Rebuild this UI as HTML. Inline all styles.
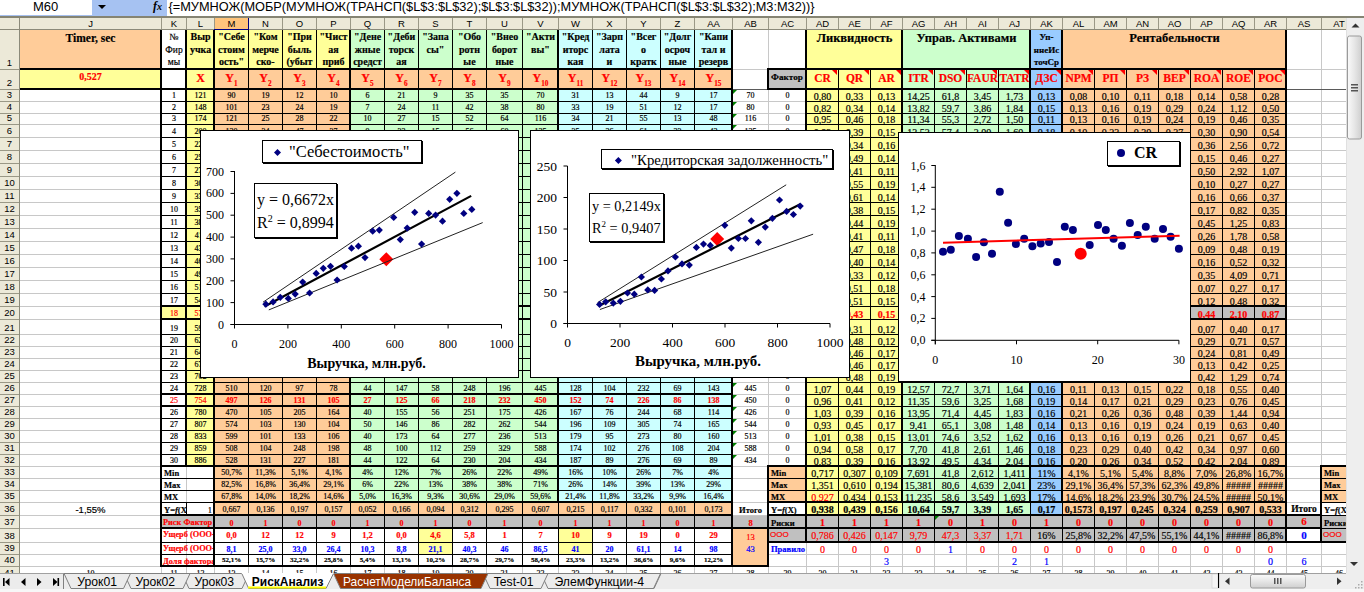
<!DOCTYPE html><html><head><meta charset="utf-8"><style>
*{margin:0;padding:0;box-sizing:border-box}
body{width:1364px;height:592px;overflow:hidden;position:relative;background:#fff;font-family:"Liberation Serif",serif}
.a{position:absolute}
.c{position:absolute;overflow:hidden;white-space:nowrap;display:flex;align-items:flex-end;justify-content:center;line-height:1;-webkit-text-stroke:0.18px currentColor}
.s{font-family:"Liberation Sans",sans-serif}
.hd{position:absolute;background:#ECE9D8;font-family:"Liberation Sans",sans-serif;font-size:9.5px;color:#000;display:flex;align-items:center;justify-content:center;overflow:hidden}
sub{font-size:60%;vertical-align:-1px;line-height:0}

</style></head><body>
<div class="a" style="left:0;top:0;width:1364px;height:15px;background:#fff"></div>
<div class="a s" style="left:33px;top:0px;font-size:13px;line-height:14px;color:#000">M60</div>
<div class="a" style="left:92px;top:0;width:75px;height:16px;background:#A6C2F2"></div>
<div class="a" style="left:98px;top:5px;width:0;height:0;border-left:4px solid transparent;border-right:4px solid transparent;border-top:4px solid #000"></div>
<div class="a" style="left:153px;top:0px;font-family:'Liberation Serif';font-style:italic;font-weight:bold;font-size:12px;line-height:13px">f<span style="font-size:10px">x</span></div>
<div class="a s" style="left:168.5px;top:0px;font-size:12.75px;line-height:14px;color:#000;white-space:nowrap">{=МУМНОЖ(МОБР(МУМНОЖ(ТРАНСП($L$3:$L$32);$L$3:$L$32));МУМНОЖ(ТРАНСП($L$3:$L$32);M3:M32))}</div>
<div class="a" style="left:0;top:15px;width:92px;height:1px;background:#A6C0EE"></div>
<div class="a" style="left:0;top:16px;width:1364px;height:2px;background:#858473"></div>
<div class="a" style="left:161px;top:30px;width:1px;height:543px;background:#C8C8C8"></div>
<div class="a" style="left:186px;top:30px;width:1px;height:543px;background:#C8C8C8"></div>
<div class="a" style="left:214px;top:30px;width:1px;height:543px;background:#C8C8C8"></div>
<div class="a" style="left:248px;top:30px;width:1px;height:543px;background:#C8C8C8"></div>
<div class="a" style="left:282px;top:30px;width:1px;height:543px;background:#C8C8C8"></div>
<div class="a" style="left:316px;top:30px;width:1px;height:543px;background:#C8C8C8"></div>
<div class="a" style="left:350px;top:30px;width:1px;height:543px;background:#C8C8C8"></div>
<div class="a" style="left:384px;top:30px;width:1px;height:543px;background:#C8C8C8"></div>
<div class="a" style="left:418px;top:30px;width:1px;height:543px;background:#C8C8C8"></div>
<div class="a" style="left:452px;top:30px;width:1px;height:543px;background:#C8C8C8"></div>
<div class="a" style="left:486px;top:30px;width:1px;height:543px;background:#C8C8C8"></div>
<div class="a" style="left:522px;top:30px;width:1px;height:543px;background:#C8C8C8"></div>
<div class="a" style="left:558px;top:30px;width:1px;height:543px;background:#C8C8C8"></div>
<div class="a" style="left:592px;top:30px;width:1px;height:543px;background:#C8C8C8"></div>
<div class="a" style="left:626px;top:30px;width:1px;height:543px;background:#C8C8C8"></div>
<div class="a" style="left:660px;top:30px;width:1px;height:543px;background:#C8C8C8"></div>
<div class="a" style="left:694px;top:30px;width:1px;height:543px;background:#C8C8C8"></div>
<div class="a" style="left:732px;top:30px;width:1px;height:543px;background:#C8C8C8"></div>
<div class="a" style="left:768px;top:30px;width:1px;height:543px;background:#C8C8C8"></div>
<div class="a" style="left:806px;top:30px;width:1px;height:543px;background:#C8C8C8"></div>
<div class="a" style="left:838px;top:30px;width:1px;height:543px;background:#C8C8C8"></div>
<div class="a" style="left:870px;top:30px;width:1px;height:543px;background:#C8C8C8"></div>
<div class="a" style="left:902px;top:30px;width:1px;height:543px;background:#C8C8C8"></div>
<div class="a" style="left:934px;top:30px;width:1px;height:543px;background:#C8C8C8"></div>
<div class="a" style="left:966px;top:30px;width:1px;height:543px;background:#C8C8C8"></div>
<div class="a" style="left:998px;top:30px;width:1px;height:543px;background:#C8C8C8"></div>
<div class="a" style="left:1030px;top:30px;width:1px;height:543px;background:#C8C8C8"></div>
<div class="a" style="left:1062px;top:30px;width:1px;height:543px;background:#C8C8C8"></div>
<div class="a" style="left:1094px;top:30px;width:1px;height:543px;background:#C8C8C8"></div>
<div class="a" style="left:1126px;top:30px;width:1px;height:543px;background:#C8C8C8"></div>
<div class="a" style="left:1158px;top:30px;width:1px;height:543px;background:#C8C8C8"></div>
<div class="a" style="left:1190px;top:30px;width:1px;height:543px;background:#C8C8C8"></div>
<div class="a" style="left:1222px;top:30px;width:1px;height:543px;background:#C8C8C8"></div>
<div class="a" style="left:1254px;top:30px;width:1px;height:543px;background:#C8C8C8"></div>
<div class="a" style="left:1286px;top:30px;width:1px;height:543px;background:#C8C8C8"></div>
<div class="a" style="left:1321px;top:30px;width:1px;height:543px;background:#C8C8C8"></div>
<div class="a" style="left:20px;top:69px;width:1326px;height:1px;background:#C8C8C8"></div>
<div class="a" style="left:20px;top:89px;width:1326px;height:1px;background:#C8C8C8"></div>
<div class="a" style="left:20px;top:101px;width:1326px;height:1px;background:#C8C8C8"></div>
<div class="a" style="left:20px;top:113px;width:1326px;height:1px;background:#C8C8C8"></div>
<div class="a" style="left:20px;top:124px;width:1326px;height:1px;background:#C8C8C8"></div>
<div class="a" style="left:20px;top:137px;width:1326px;height:1px;background:#C8C8C8"></div>
<div class="a" style="left:20px;top:150px;width:1326px;height:1px;background:#C8C8C8"></div>
<div class="a" style="left:20px;top:163px;width:1326px;height:1px;background:#C8C8C8"></div>
<div class="a" style="left:20px;top:176px;width:1326px;height:1px;background:#C8C8C8"></div>
<div class="a" style="left:20px;top:189px;width:1326px;height:1px;background:#C8C8C8"></div>
<div class="a" style="left:20px;top:202px;width:1326px;height:1px;background:#C8C8C8"></div>
<div class="a" style="left:20px;top:215px;width:1326px;height:1px;background:#C8C8C8"></div>
<div class="a" style="left:20px;top:228px;width:1326px;height:1px;background:#C8C8C8"></div>
<div class="a" style="left:20px;top:241px;width:1326px;height:1px;background:#C8C8C8"></div>
<div class="a" style="left:20px;top:254px;width:1326px;height:1px;background:#C8C8C8"></div>
<div class="a" style="left:20px;top:267px;width:1326px;height:1px;background:#C8C8C8"></div>
<div class="a" style="left:20px;top:280px;width:1326px;height:1px;background:#C8C8C8"></div>
<div class="a" style="left:20px;top:293px;width:1326px;height:1px;background:#C8C8C8"></div>
<div class="a" style="left:20px;top:306px;width:1326px;height:1px;background:#C8C8C8"></div>
<div class="a" style="left:20px;top:319px;width:1326px;height:1px;background:#C8C8C8"></div>
<div class="a" style="left:20px;top:334px;width:1326px;height:1px;background:#C8C8C8"></div>
<div class="a" style="left:20px;top:346px;width:1326px;height:1px;background:#C8C8C8"></div>
<div class="a" style="left:20px;top:358px;width:1326px;height:1px;background:#C8C8C8"></div>
<div class="a" style="left:20px;top:370px;width:1326px;height:1px;background:#C8C8C8"></div>
<div class="a" style="left:20px;top:382px;width:1326px;height:1px;background:#C8C8C8"></div>
<div class="a" style="left:20px;top:394px;width:1326px;height:1px;background:#C8C8C8"></div>
<div class="a" style="left:20px;top:406px;width:1326px;height:1px;background:#C8C8C8"></div>
<div class="a" style="left:20px;top:418px;width:1326px;height:1px;background:#C8C8C8"></div>
<div class="a" style="left:20px;top:430px;width:1326px;height:1px;background:#C8C8C8"></div>
<div class="a" style="left:20px;top:442px;width:1326px;height:1px;background:#C8C8C8"></div>
<div class="a" style="left:20px;top:454px;width:1326px;height:1px;background:#C8C8C8"></div>
<div class="a" style="left:20px;top:466px;width:1326px;height:1px;background:#C8C8C8"></div>
<div class="a" style="left:20px;top:478px;width:1326px;height:1px;background:#C8C8C8"></div>
<div class="a" style="left:20px;top:490px;width:1326px;height:1px;background:#C8C8C8"></div>
<div class="a" style="left:20px;top:502px;width:1326px;height:1px;background:#C8C8C8"></div>
<div class="a" style="left:20px;top:515px;width:1326px;height:1px;background:#C8C8C8"></div>
<div class="a" style="left:20px;top:528px;width:1326px;height:1px;background:#C8C8C8"></div>
<div class="a" style="left:20px;top:542px;width:1326px;height:1px;background:#C8C8C8"></div>
<div class="a" style="left:20px;top:554px;width:1326px;height:1px;background:#C8C8C8"></div>
<div class="a" style="left:20px;top:566px;width:1326px;height:1px;background:#C8C8C8"></div>
<div class="a" style="left:20px;top:89px;width:1326px;height:1px;background:#5A5A5A"></div>
<div class="a" style="left:20px;top:30px;width:142px;height:40px;background:#FFCC99"></div>
<div class="a" style="left:20px;top:70px;width:142px;height:20px;background:#FFFF99"></div>
<div class="a" style="left:187px;top:30px;width:164px;height:40px;background:#FFFF99"></div>
<div class="a" style="left:351px;top:30px;width:208px;height:40px;background:#CCFFCC"></div>
<div class="a" style="left:559px;top:30px;width:174px;height:40px;background:#CCFFFF"></div>
<div class="a" style="left:187px;top:70px;width:28px;height:20px;background:#FFFF99"></div>
<div class="a" style="left:215px;top:70px;width:518px;height:20px;background:#FFCC99"></div>
<div class="a" style="left:187px;top:90px;width:28px;height:377px;background:#FFFF99"></div>
<div class="a" style="left:215px;top:90px;width:136px;height:377px;background:#FFCC99"></div>
<div class="a" style="left:351px;top:90px;width:208px;height:377px;background:#CCFFCC"></div>
<div class="a" style="left:559px;top:90px;width:174px;height:377px;background:#CCFFFF"></div>
<div class="a" style="left:769px;top:70px;width:38px;height:20px;background:#C0C0C0"></div>
<div class="a" style="left:807px;top:30px;width:96px;height:40px;background:#FFFF99"></div>
<div class="a" style="left:903px;top:30px;width:128px;height:40px;background:#CCFFCC"></div>
<div class="a" style="left:1031px;top:30px;width:32px;height:40px;background:#99CCFF"></div>
<div class="a" style="left:1063px;top:30px;width:224px;height:40px;background:#FFCC99"></div>
<div class="a" style="left:807px;top:70px;width:96px;height:20px;background:#FFFF99"></div>
<div class="a" style="left:903px;top:70px;width:128px;height:20px;background:#CCFFCC"></div>
<div class="a" style="left:1031px;top:70px;width:32px;height:20px;background:#99CCFF"></div>
<div class="a" style="left:1063px;top:70px;width:224px;height:20px;background:#FFCC99"></div>
<div class="a" style="left:807px;top:90px;width:96px;height:377px;background:#FFFF99"></div>
<div class="a" style="left:903px;top:90px;width:128px;height:377px;background:#CCFFCC"></div>
<div class="a" style="left:1031px;top:90px;width:32px;height:377px;background:#99CCFF"></div>
<div class="a" style="left:1063px;top:90px;width:224px;height:377px;background:#FFCC99"></div>
<div class="a" style="left:162px;top:307px;width:25px;height:13px;background:#FFFF99"></div>
<div class="a" style="left:1191px;top:307px;width:96px;height:13px;background:#C0C0C0"></div>
<div class="a" style="left:215px;top:467px;width:136px;height:36px;background:#FFCC99"></div>
<div class="a" style="left:351px;top:467px;width:208px;height:36px;background:#CCFFCC"></div>
<div class="a" style="left:559px;top:467px;width:174px;height:36px;background:#CCFFFF"></div>
<div class="a" style="left:215px;top:503px;width:518px;height:13px;background:#FFCC99"></div>
<div class="a" style="left:162px;top:516px;width:571px;height:13px;background:#C0C0C0"></div>
<div class="a" style="left:419px;top:529px;width:34px;height:26px;background:#FFFF99"></div>
<div class="a" style="left:559px;top:529px;width:34px;height:26px;background:#FFFF99"></div>
<div class="a" style="left:733px;top:516px;width:36px;height:13px;background:#C0C0C0"></div>
<div class="a" style="left:733px;top:529px;width:36px;height:38px;background:#FFCC99"></div>
<div class="a" style="left:769px;top:467px;width:38px;height:36px;background:#FFCC99"></div>
<div class="a" style="left:769px;top:516px;width:38px;height:27px;background:#C0C0C0"></div>
<div class="a" style="left:807px;top:467px;width:96px;height:49px;background:#FFFF99"></div>
<div class="a" style="left:903px;top:467px;width:128px;height:49px;background:#CCFFCC"></div>
<div class="a" style="left:1031px;top:467px;width:32px;height:49px;background:#99CCFF"></div>
<div class="a" style="left:1063px;top:467px;width:224px;height:49px;background:#FFCC99"></div>
<div class="a" style="left:807px;top:516px;width:480px;height:27px;background:#C0C0C0"></div>
<div class="a" style="left:1322px;top:467px;width:35px;height:36px;background:#FFCC99"></div>
<div class="a" style="left:1322px;top:516px;width:35px;height:27px;background:#C0C0C0"></div>
<div class="a" style="left:1287px;top:516px;width:35px;height:13px;background:#C0C0C0"></div>
<div class="c" style="left:20px;top:30px;width:141px;height:40px;font-size:11.5px;font-weight:bold;justify-content:center;align-items:flex-start;padding-top:3px">Timer, sec</div>
<div class="c" style="left:20px;top:70px;width:141px;height:20px;font-size:10px;font-weight:bold;color:#FF0000;justify-content:center;align-items:flex-start;padding-top:2px">0,527</div>
<div class="c" style="left:162px;top:30px;width:24px;height:40px;font-size:9.5px;justify-content:center;align-items:flex-start;padding-top:1px"><div style="text-align:center;line-height:12.6px">№<br>Фир<br>мы</div></div>
<div class="c" style="left:187px;top:30px;width:27px;height:40px;font-size:10px;font-weight:bold;justify-content:center;align-items:flex-start;padding-top:1px"><div style="text-align:center;line-height:12.6px">Выр<br>учка</div></div>
<div class="c" style="left:215px;top:30px;width:33px;height:40px;font-size:10px;font-weight:bold;justify-content:center;align-items:flex-start;padding-top:1px"><div style="text-align:center;line-height:12.6px">&quot;Себе<br>стоим<br>ость&quot;</div></div>
<div class="c" style="left:249px;top:30px;width:33px;height:40px;font-size:10px;font-weight:bold;justify-content:center;align-items:flex-start;padding-top:1px"><div style="text-align:center;line-height:12.6px">&quot;Ком<br>мерче<br>ско-</div></div>
<div class="c" style="left:283px;top:30px;width:33px;height:40px;font-size:10px;font-weight:bold;justify-content:center;align-items:flex-start;padding-top:1px"><div style="text-align:center;line-height:12.6px">&quot;При<br>быль<br>(убыт</div></div>
<div class="c" style="left:317px;top:30px;width:33px;height:40px;font-size:10px;font-weight:bold;justify-content:center;align-items:flex-start;padding-top:1px"><div style="text-align:center;line-height:12.6px">&quot;Чист<br>ая<br>приб</div></div>
<div class="c" style="left:351px;top:30px;width:33px;height:40px;font-size:10px;font-weight:bold;justify-content:center;align-items:flex-start;padding-top:1px"><div style="text-align:center;line-height:12.6px">&quot;Дене<br>жные<br>средст</div></div>
<div class="c" style="left:385px;top:30px;width:33px;height:40px;font-size:10px;font-weight:bold;justify-content:center;align-items:flex-start;padding-top:1px"><div style="text-align:center;line-height:12.6px">&quot;Деби<br>торск<br>ая</div></div>
<div class="c" style="left:419px;top:30px;width:33px;height:40px;font-size:10px;font-weight:bold;justify-content:center;align-items:flex-start;padding-top:1px"><div style="text-align:center;line-height:12.6px">&quot;Запа<br>сы&quot;</div></div>
<div class="c" style="left:453px;top:30px;width:33px;height:40px;font-size:10px;font-weight:bold;justify-content:center;align-items:flex-start;padding-top:1px"><div style="text-align:center;line-height:12.6px">&quot;Обо<br>ротн<br>ые</div></div>
<div class="c" style="left:487px;top:30px;width:35px;height:40px;font-size:10px;font-weight:bold;justify-content:center;align-items:flex-start;padding-top:1px"><div style="text-align:center;line-height:12.6px">&quot;Внео<br>борот<br>ные</div></div>
<div class="c" style="left:523px;top:30px;width:35px;height:40px;font-size:10px;font-weight:bold;justify-content:center;align-items:flex-start;padding-top:1px"><div style="text-align:center;line-height:12.6px">&quot;Акти<br>вы&quot;</div></div>
<div class="c" style="left:559px;top:30px;width:33px;height:40px;font-size:10px;font-weight:bold;justify-content:center;align-items:flex-start;padding-top:1px"><div style="text-align:center;line-height:12.6px">&quot;Кред<br>иторс<br>кая</div></div>
<div class="c" style="left:593px;top:30px;width:33px;height:40px;font-size:10px;font-weight:bold;justify-content:center;align-items:flex-start;padding-top:1px"><div style="text-align:center;line-height:12.6px">&quot;Зарп<br>лата<br>и</div></div>
<div class="c" style="left:627px;top:30px;width:33px;height:40px;font-size:10px;font-weight:bold;justify-content:center;align-items:flex-start;padding-top:1px"><div style="text-align:center;line-height:12.6px">&quot;Всег<br>о<br>кратк</div></div>
<div class="c" style="left:661px;top:30px;width:33px;height:40px;font-size:10px;font-weight:bold;justify-content:center;align-items:flex-start;padding-top:1px"><div style="text-align:center;line-height:12.6px">&quot;Долг<br>осроч<br>ные</div></div>
<div class="c" style="left:695px;top:30px;width:37px;height:40px;font-size:10px;font-weight:bold;justify-content:center;align-items:flex-start;padding-top:1px"><div style="text-align:center;line-height:12.6px">&quot;Капи<br>тал и<br>резерв</div></div>
<div class="c" style="left:187px;top:70px;width:27px;height:20px;font-size:12px;font-weight:bold;color:#FF0000;justify-content:center;padding-bottom:6px">X</div>
<div class="c" style="left:215px;top:70px;width:33px;height:20px;font-size:12px;font-weight:bold;color:#FF0000;justify-content:center;padding-bottom:6px">Y<sub>1</sub></div>
<div class="c" style="left:249px;top:70px;width:33px;height:20px;font-size:12px;font-weight:bold;color:#FF0000;justify-content:center;padding-bottom:6px">Y<sub>2</sub></div>
<div class="c" style="left:283px;top:70px;width:33px;height:20px;font-size:12px;font-weight:bold;color:#FF0000;justify-content:center;padding-bottom:6px">Y<sub>3</sub></div>
<div class="c" style="left:317px;top:70px;width:33px;height:20px;font-size:12px;font-weight:bold;color:#FF0000;justify-content:center;padding-bottom:6px">Y<sub>4</sub></div>
<div class="c" style="left:351px;top:70px;width:33px;height:20px;font-size:12px;font-weight:bold;color:#FF0000;justify-content:center;padding-bottom:6px">Y<sub>5</sub></div>
<div class="c" style="left:385px;top:70px;width:33px;height:20px;font-size:12px;font-weight:bold;color:#FF0000;justify-content:center;padding-bottom:6px">Y<sub>6</sub></div>
<div class="c" style="left:419px;top:70px;width:33px;height:20px;font-size:12px;font-weight:bold;color:#FF0000;justify-content:center;padding-bottom:6px">Y<sub>7</sub></div>
<div class="c" style="left:453px;top:70px;width:33px;height:20px;font-size:12px;font-weight:bold;color:#FF0000;justify-content:center;padding-bottom:6px">Y<sub>8</sub></div>
<div class="c" style="left:487px;top:70px;width:35px;height:20px;font-size:12px;font-weight:bold;color:#FF0000;justify-content:center;padding-bottom:6px">Y<sub>9</sub></div>
<div class="c" style="left:523px;top:70px;width:35px;height:20px;font-size:12px;font-weight:bold;color:#FF0000;justify-content:center;padding-bottom:6px">Y<sub>10</sub></div>
<div class="c" style="left:559px;top:70px;width:33px;height:20px;font-size:12px;font-weight:bold;color:#FF0000;justify-content:center;padding-bottom:6px">Y<sub>11</sub></div>
<div class="c" style="left:593px;top:70px;width:33px;height:20px;font-size:12px;font-weight:bold;color:#FF0000;justify-content:center;padding-bottom:6px">Y<sub>12</sub></div>
<div class="c" style="left:627px;top:70px;width:33px;height:20px;font-size:12px;font-weight:bold;color:#FF0000;justify-content:center;padding-bottom:6px">Y<sub>13</sub></div>
<div class="c" style="left:661px;top:70px;width:33px;height:20px;font-size:12px;font-weight:bold;color:#FF0000;justify-content:center;padding-bottom:6px">Y<sub>14</sub></div>
<div class="c" style="left:695px;top:70px;width:37px;height:20px;font-size:12px;font-weight:bold;color:#FF0000;justify-content:center;padding-bottom:6px">Y<sub>15</sub></div>
<div class="c" style="left:807px;top:30px;width:95px;height:40px;font-size:12.5px;font-weight:bold;justify-content:center;align-items:flex-start;padding-top:2px">Ликвидность</div>
<div class="c" style="left:903px;top:30px;width:127px;height:40px;font-size:12.5px;font-weight:bold;justify-content:center;align-items:flex-start;padding-top:2px">Управ. Активами</div>
<div class="c" style="left:1031px;top:30px;width:31px;height:40px;font-size:9px;font-weight:bold;justify-content:center;align-items:flex-start;padding-top:1px"><div style="text-align:center;line-height:12.6px">Уп-<br>ннеИс<br>точСр</div></div>
<div class="c" style="left:1063px;top:30px;width:223px;height:40px;font-size:12.5px;font-weight:bold;justify-content:center;align-items:flex-start;padding-top:2px">Рентабельности</div>
<div class="c" style="left:769px;top:70px;width:37px;height:20px;font-size:9.2px;font-weight:bold;justify-content:flex-start;padding-left:2px;padding-bottom:8px">Фактор</div>
<div class="c" style="left:807px;top:70px;width:31px;height:20px;font-size:11.5px;font-weight:bold;color:#FF0000;justify-content:center;padding-bottom:6px">CR</div>
<div class="c" style="left:839px;top:70px;width:31px;height:20px;font-size:11.5px;font-weight:bold;color:#FF0000;justify-content:center;padding-bottom:6px">QR</div>
<div class="c" style="left:871px;top:70px;width:31px;height:20px;font-size:11.5px;font-weight:bold;color:#FF0000;justify-content:center;padding-bottom:6px">AR</div>
<div class="c" style="left:903px;top:70px;width:31px;height:20px;font-size:11.5px;font-weight:bold;color:#FF0000;justify-content:center;padding-bottom:6px">ITR</div>
<div class="c" style="left:935px;top:70px;width:31px;height:20px;font-size:11.5px;font-weight:bold;color:#FF0000;justify-content:center;padding-bottom:6px">DSO</div>
<div class="c" style="left:967px;top:70px;width:31px;height:20px;font-size:11.5px;font-weight:bold;color:#FF0000;justify-content:center;padding-bottom:6px">FAUR</div>
<div class="c" style="left:999px;top:70px;width:31px;height:20px;font-size:11.5px;font-weight:bold;color:#FF0000;justify-content:center;padding-bottom:6px">TATR</div>
<div class="c" style="left:1031px;top:70px;width:31px;height:20px;font-size:11.5px;font-weight:bold;color:#FF0000;justify-content:center;padding-bottom:6px">ДЗС</div>
<div class="c" style="left:1063px;top:70px;width:31px;height:20px;font-size:11.5px;font-weight:bold;color:#FF0000;justify-content:center;padding-bottom:6px">NPM</div>
<div class="c" style="left:1095px;top:70px;width:31px;height:20px;font-size:11.5px;font-weight:bold;color:#FF0000;justify-content:center;padding-bottom:6px">РП</div>
<div class="c" style="left:1127px;top:70px;width:31px;height:20px;font-size:11.5px;font-weight:bold;color:#FF0000;justify-content:center;padding-bottom:6px">РЗ</div>
<div class="c" style="left:1159px;top:70px;width:31px;height:20px;font-size:11.5px;font-weight:bold;color:#FF0000;justify-content:center;padding-bottom:6px">BEP</div>
<div class="c" style="left:1191px;top:70px;width:31px;height:20px;font-size:11.5px;font-weight:bold;color:#FF0000;justify-content:center;padding-bottom:6px">ROA</div>
<div class="c" style="left:1223px;top:70px;width:31px;height:20px;font-size:11.5px;font-weight:bold;color:#FF0000;justify-content:center;padding-bottom:6px">ROE</div>
<div class="c" style="left:1255px;top:70px;width:31px;height:20px;font-size:11.5px;font-weight:bold;color:#FF0000;justify-content:center;padding-bottom:6px">РОС</div>
<div class="c" style="left:162px;top:90px;width:24px;height:12px;font-size:8px;justify-content:center;padding-bottom:2px">1</div>
<div class="c" style="left:187px;top:90px;width:27px;height:12px;font-size:8px;justify-content:center;padding-bottom:2px">121</div>
<div class="c" style="left:162px;top:102px;width:24px;height:12px;font-size:8px;justify-content:center;padding-bottom:2px">2</div>
<div class="c" style="left:187px;top:102px;width:27px;height:12px;font-size:8px;justify-content:center;padding-bottom:2px">148</div>
<div class="c" style="left:162px;top:114px;width:24px;height:11px;font-size:8px;justify-content:center;padding-bottom:2px">3</div>
<div class="c" style="left:187px;top:114px;width:27px;height:11px;font-size:8px;justify-content:center;padding-bottom:2px">174</div>
<div class="c" style="left:162px;top:125px;width:24px;height:13px;font-size:8px;justify-content:center;padding-bottom:2px">4</div>
<div class="c" style="left:187px;top:125px;width:27px;height:13px;font-size:8px;justify-content:center;padding-bottom:2px">200</div>
<div class="c" style="left:162px;top:138px;width:24px;height:13px;font-size:8px;justify-content:center;padding-bottom:2px">5</div>
<div class="c" style="left:187px;top:138px;width:27px;height:13px;font-size:8px;justify-content:center;padding-bottom:2px">227</div>
<div class="c" style="left:162px;top:151px;width:24px;height:13px;font-size:8px;justify-content:center;padding-bottom:2px">6</div>
<div class="c" style="left:187px;top:151px;width:27px;height:13px;font-size:8px;justify-content:center;padding-bottom:2px">253</div>
<div class="c" style="left:162px;top:164px;width:24px;height:13px;font-size:8px;justify-content:center;padding-bottom:2px">7</div>
<div class="c" style="left:187px;top:164px;width:27px;height:13px;font-size:8px;justify-content:center;padding-bottom:2px">279</div>
<div class="c" style="left:162px;top:177px;width:24px;height:13px;font-size:8px;justify-content:center;padding-bottom:2px">8</div>
<div class="c" style="left:187px;top:177px;width:27px;height:13px;font-size:8px;justify-content:center;padding-bottom:2px">306</div>
<div class="c" style="left:162px;top:190px;width:24px;height:13px;font-size:8px;justify-content:center;padding-bottom:2px">9</div>
<div class="c" style="left:187px;top:190px;width:27px;height:13px;font-size:8px;justify-content:center;padding-bottom:2px">332</div>
<div class="c" style="left:162px;top:203px;width:24px;height:13px;font-size:8px;justify-content:center;padding-bottom:2px">10</div>
<div class="c" style="left:187px;top:203px;width:27px;height:13px;font-size:8px;justify-content:center;padding-bottom:2px">359</div>
<div class="c" style="left:162px;top:216px;width:24px;height:13px;font-size:8px;justify-content:center;padding-bottom:2px">11</div>
<div class="c" style="left:187px;top:216px;width:27px;height:13px;font-size:8px;justify-content:center;padding-bottom:2px">385</div>
<div class="c" style="left:162px;top:229px;width:24px;height:13px;font-size:8px;justify-content:center;padding-bottom:2px">12</div>
<div class="c" style="left:187px;top:229px;width:27px;height:13px;font-size:8px;justify-content:center;padding-bottom:2px">411</div>
<div class="c" style="left:162px;top:242px;width:24px;height:13px;font-size:8px;justify-content:center;padding-bottom:2px">13</div>
<div class="c" style="left:187px;top:242px;width:27px;height:13px;font-size:8px;justify-content:center;padding-bottom:2px">438</div>
<div class="c" style="left:162px;top:255px;width:24px;height:13px;font-size:8px;justify-content:center;padding-bottom:2px">14</div>
<div class="c" style="left:187px;top:255px;width:27px;height:13px;font-size:8px;justify-content:center;padding-bottom:2px">464</div>
<div class="c" style="left:162px;top:268px;width:24px;height:13px;font-size:8px;justify-content:center;padding-bottom:2px">15</div>
<div class="c" style="left:187px;top:268px;width:27px;height:13px;font-size:8px;justify-content:center;padding-bottom:2px">491</div>
<div class="c" style="left:162px;top:281px;width:24px;height:13px;font-size:8px;justify-content:center;padding-bottom:2px">16</div>
<div class="c" style="left:187px;top:281px;width:27px;height:13px;font-size:8px;justify-content:center;padding-bottom:2px">517</div>
<div class="c" style="left:162px;top:294px;width:24px;height:13px;font-size:8px;justify-content:center;padding-bottom:2px">17</div>
<div class="c" style="left:187px;top:294px;width:27px;height:13px;font-size:8px;justify-content:center;padding-bottom:2px">543</div>
<div class="c" style="left:162px;top:307px;width:24px;height:13px;font-size:8px;color:#FF0000;justify-content:center;padding-bottom:2px">18</div>
<div class="c" style="left:187px;top:307px;width:27px;height:13px;font-size:8px;color:#FF0000;justify-content:center;padding-bottom:2px">570</div>
<div class="c" style="left:162px;top:320px;width:24px;height:15px;font-size:8px;justify-content:center;padding-bottom:2px">19</div>
<div class="c" style="left:187px;top:320px;width:27px;height:15px;font-size:8px;justify-content:center;padding-bottom:2px">596</div>
<div class="c" style="left:162px;top:335px;width:24px;height:12px;font-size:8px;justify-content:center;padding-bottom:2px">20</div>
<div class="c" style="left:187px;top:335px;width:27px;height:12px;font-size:8px;justify-content:center;padding-bottom:2px">623</div>
<div class="c" style="left:162px;top:347px;width:24px;height:12px;font-size:8px;justify-content:center;padding-bottom:2px">21</div>
<div class="c" style="left:187px;top:347px;width:27px;height:12px;font-size:8px;justify-content:center;padding-bottom:2px">649</div>
<div class="c" style="left:162px;top:359px;width:24px;height:12px;font-size:8px;justify-content:center;padding-bottom:2px">22</div>
<div class="c" style="left:187px;top:359px;width:27px;height:12px;font-size:8px;justify-content:center;padding-bottom:2px">675</div>
<div class="c" style="left:162px;top:371px;width:24px;height:12px;font-size:8px;justify-content:center;padding-bottom:2px">23</div>
<div class="c" style="left:187px;top:371px;width:27px;height:12px;font-size:8px;justify-content:center;padding-bottom:2px">702</div>
<div class="c" style="left:162px;top:383px;width:24px;height:12px;font-size:8px;justify-content:center;padding-bottom:2px">24</div>
<div class="c" style="left:187px;top:383px;width:27px;height:12px;font-size:8px;justify-content:center;padding-bottom:2px">728</div>
<div class="c" style="left:162px;top:395px;width:24px;height:12px;font-size:8px;color:#FF0000;justify-content:center;padding-bottom:2px">25</div>
<div class="c" style="left:187px;top:395px;width:27px;height:12px;font-size:8px;color:#FF0000;justify-content:center;padding-bottom:2px">754</div>
<div class="c" style="left:162px;top:407px;width:24px;height:12px;font-size:8px;justify-content:center;padding-bottom:2px">26</div>
<div class="c" style="left:187px;top:407px;width:27px;height:12px;font-size:8px;justify-content:center;padding-bottom:2px">780</div>
<div class="c" style="left:162px;top:419px;width:24px;height:12px;font-size:8px;justify-content:center;padding-bottom:2px">27</div>
<div class="c" style="left:187px;top:419px;width:27px;height:12px;font-size:8px;justify-content:center;padding-bottom:2px">807</div>
<div class="c" style="left:162px;top:431px;width:24px;height:12px;font-size:8px;justify-content:center;padding-bottom:2px">28</div>
<div class="c" style="left:187px;top:431px;width:27px;height:12px;font-size:8px;justify-content:center;padding-bottom:2px">833</div>
<div class="c" style="left:162px;top:443px;width:24px;height:12px;font-size:8px;justify-content:center;padding-bottom:2px">29</div>
<div class="c" style="left:187px;top:443px;width:27px;height:12px;font-size:8px;justify-content:center;padding-bottom:2px">859</div>
<div class="c" style="left:162px;top:455px;width:24px;height:12px;font-size:8px;justify-content:center;padding-bottom:2px">30</div>
<div class="c" style="left:187px;top:455px;width:27px;height:12px;font-size:8px;justify-content:center;padding-bottom:2px">886</div>
<div class="c" style="left:215px;top:90px;width:33px;height:12px;font-size:8px;justify-content:center;padding-bottom:2px">90</div>
<div class="c" style="left:249px;top:90px;width:33px;height:12px;font-size:8px;justify-content:center;padding-bottom:2px">19</div>
<div class="c" style="left:283px;top:90px;width:33px;height:12px;font-size:8px;justify-content:center;padding-bottom:2px">12</div>
<div class="c" style="left:317px;top:90px;width:33px;height:12px;font-size:8px;justify-content:center;padding-bottom:2px">10</div>
<div class="c" style="left:351px;top:90px;width:33px;height:12px;font-size:8px;justify-content:center;padding-bottom:2px">6</div>
<div class="c" style="left:385px;top:90px;width:33px;height:12px;font-size:8px;justify-content:center;padding-bottom:2px">21</div>
<div class="c" style="left:419px;top:90px;width:33px;height:12px;font-size:8px;justify-content:center;padding-bottom:2px">9</div>
<div class="c" style="left:215px;top:102px;width:33px;height:12px;font-size:8px;justify-content:center;padding-bottom:2px">101</div>
<div class="c" style="left:249px;top:102px;width:33px;height:12px;font-size:8px;justify-content:center;padding-bottom:2px">23</div>
<div class="c" style="left:283px;top:102px;width:33px;height:12px;font-size:8px;justify-content:center;padding-bottom:2px">24</div>
<div class="c" style="left:317px;top:102px;width:33px;height:12px;font-size:8px;justify-content:center;padding-bottom:2px">19</div>
<div class="c" style="left:351px;top:102px;width:33px;height:12px;font-size:8px;justify-content:center;padding-bottom:2px">7</div>
<div class="c" style="left:385px;top:102px;width:33px;height:12px;font-size:8px;justify-content:center;padding-bottom:2px">24</div>
<div class="c" style="left:419px;top:102px;width:33px;height:12px;font-size:8px;justify-content:center;padding-bottom:2px">11</div>
<div class="c" style="left:215px;top:114px;width:33px;height:11px;font-size:8px;justify-content:center;padding-bottom:2px">121</div>
<div class="c" style="left:249px;top:114px;width:33px;height:11px;font-size:8px;justify-content:center;padding-bottom:2px">25</div>
<div class="c" style="left:283px;top:114px;width:33px;height:11px;font-size:8px;justify-content:center;padding-bottom:2px">28</div>
<div class="c" style="left:317px;top:114px;width:33px;height:11px;font-size:8px;justify-content:center;padding-bottom:2px">22</div>
<div class="c" style="left:351px;top:114px;width:33px;height:11px;font-size:8px;justify-content:center;padding-bottom:2px">10</div>
<div class="c" style="left:385px;top:114px;width:33px;height:11px;font-size:8px;justify-content:center;padding-bottom:2px">27</div>
<div class="c" style="left:419px;top:114px;width:33px;height:11px;font-size:8px;justify-content:center;padding-bottom:2px">15</div>
<div class="c" style="left:215px;top:125px;width:33px;height:13px;font-size:8px;justify-content:center;padding-bottom:2px">120</div>
<div class="c" style="left:249px;top:125px;width:33px;height:13px;font-size:8px;justify-content:center;padding-bottom:2px">34</div>
<div class="c" style="left:283px;top:125px;width:33px;height:13px;font-size:8px;justify-content:center;padding-bottom:2px">47</div>
<div class="c" style="left:317px;top:125px;width:33px;height:13px;font-size:8px;justify-content:center;padding-bottom:2px">37</div>
<div class="c" style="left:351px;top:125px;width:33px;height:13px;font-size:8px;justify-content:center;padding-bottom:2px">9</div>
<div class="c" style="left:385px;top:125px;width:33px;height:13px;font-size:8px;justify-content:center;padding-bottom:2px">32</div>
<div class="c" style="left:419px;top:125px;width:33px;height:13px;font-size:8px;justify-content:center;padding-bottom:2px">15</div>
<div class="c" style="left:215px;top:383px;width:33px;height:12px;font-size:8px;justify-content:center;padding-bottom:2px">510</div>
<div class="c" style="left:249px;top:383px;width:33px;height:12px;font-size:8px;justify-content:center;padding-bottom:2px">120</div>
<div class="c" style="left:283px;top:383px;width:33px;height:12px;font-size:8px;justify-content:center;padding-bottom:2px">97</div>
<div class="c" style="left:317px;top:383px;width:33px;height:12px;font-size:8px;justify-content:center;padding-bottom:2px">78</div>
<div class="c" style="left:351px;top:383px;width:33px;height:12px;font-size:8px;justify-content:center;padding-bottom:2px">44</div>
<div class="c" style="left:385px;top:383px;width:33px;height:12px;font-size:8px;justify-content:center;padding-bottom:2px">147</div>
<div class="c" style="left:419px;top:383px;width:33px;height:12px;font-size:8px;justify-content:center;padding-bottom:2px">58</div>
<div class="c" style="left:215px;top:395px;width:33px;height:12px;font-size:8px;font-weight:bold;color:#FF0000;justify-content:center;padding-bottom:2px">497</div>
<div class="c" style="left:249px;top:395px;width:33px;height:12px;font-size:8px;font-weight:bold;color:#FF0000;justify-content:center;padding-bottom:2px">126</div>
<div class="c" style="left:283px;top:395px;width:33px;height:12px;font-size:8px;font-weight:bold;color:#FF0000;justify-content:center;padding-bottom:2px">131</div>
<div class="c" style="left:317px;top:395px;width:33px;height:12px;font-size:8px;font-weight:bold;color:#FF0000;justify-content:center;padding-bottom:2px">105</div>
<div class="c" style="left:351px;top:395px;width:33px;height:12px;font-size:8px;font-weight:bold;color:#FF0000;justify-content:center;padding-bottom:2px">27</div>
<div class="c" style="left:385px;top:395px;width:33px;height:12px;font-size:8px;font-weight:bold;color:#FF0000;justify-content:center;padding-bottom:2px">125</div>
<div class="c" style="left:419px;top:395px;width:33px;height:12px;font-size:8px;font-weight:bold;color:#FF0000;justify-content:center;padding-bottom:2px">66</div>
<div class="c" style="left:215px;top:407px;width:33px;height:12px;font-size:8px;justify-content:center;padding-bottom:2px">470</div>
<div class="c" style="left:249px;top:407px;width:33px;height:12px;font-size:8px;justify-content:center;padding-bottom:2px">105</div>
<div class="c" style="left:283px;top:407px;width:33px;height:12px;font-size:8px;justify-content:center;padding-bottom:2px">205</div>
<div class="c" style="left:317px;top:407px;width:33px;height:12px;font-size:8px;justify-content:center;padding-bottom:2px">164</div>
<div class="c" style="left:351px;top:407px;width:33px;height:12px;font-size:8px;justify-content:center;padding-bottom:2px">40</div>
<div class="c" style="left:385px;top:407px;width:33px;height:12px;font-size:8px;justify-content:center;padding-bottom:2px">155</div>
<div class="c" style="left:419px;top:407px;width:33px;height:12px;font-size:8px;justify-content:center;padding-bottom:2px">56</div>
<div class="c" style="left:215px;top:419px;width:33px;height:12px;font-size:8px;justify-content:center;padding-bottom:2px">574</div>
<div class="c" style="left:249px;top:419px;width:33px;height:12px;font-size:8px;justify-content:center;padding-bottom:2px">103</div>
<div class="c" style="left:283px;top:419px;width:33px;height:12px;font-size:8px;justify-content:center;padding-bottom:2px">130</div>
<div class="c" style="left:317px;top:419px;width:33px;height:12px;font-size:8px;justify-content:center;padding-bottom:2px">104</div>
<div class="c" style="left:351px;top:419px;width:33px;height:12px;font-size:8px;justify-content:center;padding-bottom:2px">50</div>
<div class="c" style="left:385px;top:419px;width:33px;height:12px;font-size:8px;justify-content:center;padding-bottom:2px">146</div>
<div class="c" style="left:419px;top:419px;width:33px;height:12px;font-size:8px;justify-content:center;padding-bottom:2px">86</div>
<div class="c" style="left:215px;top:431px;width:33px;height:12px;font-size:8px;justify-content:center;padding-bottom:2px">599</div>
<div class="c" style="left:249px;top:431px;width:33px;height:12px;font-size:8px;justify-content:center;padding-bottom:2px">101</div>
<div class="c" style="left:283px;top:431px;width:33px;height:12px;font-size:8px;justify-content:center;padding-bottom:2px">133</div>
<div class="c" style="left:317px;top:431px;width:33px;height:12px;font-size:8px;justify-content:center;padding-bottom:2px">106</div>
<div class="c" style="left:351px;top:431px;width:33px;height:12px;font-size:8px;justify-content:center;padding-bottom:2px">40</div>
<div class="c" style="left:385px;top:431px;width:33px;height:12px;font-size:8px;justify-content:center;padding-bottom:2px">173</div>
<div class="c" style="left:419px;top:431px;width:33px;height:12px;font-size:8px;justify-content:center;padding-bottom:2px">64</div>
<div class="c" style="left:215px;top:443px;width:33px;height:12px;font-size:8px;justify-content:center;padding-bottom:2px">508</div>
<div class="c" style="left:249px;top:443px;width:33px;height:12px;font-size:8px;justify-content:center;padding-bottom:2px">104</div>
<div class="c" style="left:283px;top:443px;width:33px;height:12px;font-size:8px;justify-content:center;padding-bottom:2px">248</div>
<div class="c" style="left:317px;top:443px;width:33px;height:12px;font-size:8px;justify-content:center;padding-bottom:2px">198</div>
<div class="c" style="left:351px;top:443px;width:33px;height:12px;font-size:8px;justify-content:center;padding-bottom:2px">48</div>
<div class="c" style="left:385px;top:443px;width:33px;height:12px;font-size:8px;justify-content:center;padding-bottom:2px">100</div>
<div class="c" style="left:419px;top:443px;width:33px;height:12px;font-size:8px;justify-content:center;padding-bottom:2px">112</div>
<div class="c" style="left:215px;top:455px;width:33px;height:12px;font-size:8px;justify-content:center;padding-bottom:2px">528</div>
<div class="c" style="left:249px;top:455px;width:33px;height:12px;font-size:8px;justify-content:center;padding-bottom:2px">131</div>
<div class="c" style="left:283px;top:455px;width:33px;height:12px;font-size:8px;justify-content:center;padding-bottom:2px">227</div>
<div class="c" style="left:317px;top:455px;width:33px;height:12px;font-size:8px;justify-content:center;padding-bottom:2px">181</div>
<div class="c" style="left:351px;top:455px;width:33px;height:12px;font-size:8px;justify-content:center;padding-bottom:2px">44</div>
<div class="c" style="left:385px;top:455px;width:33px;height:12px;font-size:8px;justify-content:center;padding-bottom:2px">122</div>
<div class="c" style="left:419px;top:455px;width:33px;height:12px;font-size:8px;justify-content:center;padding-bottom:2px">64</div>
<div class="c" style="left:453px;top:90px;width:33px;height:12px;font-size:8px;justify-content:center;padding-bottom:2px">35</div>
<div class="c" style="left:487px;top:90px;width:35px;height:12px;font-size:8px;justify-content:center;padding-bottom:2px">35</div>
<div class="c" style="left:523px;top:90px;width:35px;height:12px;font-size:8px;justify-content:center;padding-bottom:2px">70</div>
<div class="c" style="left:559px;top:90px;width:33px;height:12px;font-size:8px;justify-content:center;padding-bottom:2px">31</div>
<div class="c" style="left:593px;top:90px;width:33px;height:12px;font-size:8px;justify-content:center;padding-bottom:2px">13</div>
<div class="c" style="left:627px;top:90px;width:33px;height:12px;font-size:8px;justify-content:center;padding-bottom:2px">44</div>
<div class="c" style="left:661px;top:90px;width:33px;height:12px;font-size:8px;justify-content:center;padding-bottom:2px">9</div>
<div class="c" style="left:695px;top:90px;width:37px;height:12px;font-size:8px;justify-content:center;padding-bottom:2px">17</div>
<div class="c" style="left:453px;top:102px;width:33px;height:12px;font-size:8px;justify-content:center;padding-bottom:2px">42</div>
<div class="c" style="left:487px;top:102px;width:35px;height:12px;font-size:8px;justify-content:center;padding-bottom:2px">38</div>
<div class="c" style="left:523px;top:102px;width:35px;height:12px;font-size:8px;justify-content:center;padding-bottom:2px">80</div>
<div class="c" style="left:559px;top:102px;width:33px;height:12px;font-size:8px;justify-content:center;padding-bottom:2px">33</div>
<div class="c" style="left:593px;top:102px;width:33px;height:12px;font-size:8px;justify-content:center;padding-bottom:2px">19</div>
<div class="c" style="left:627px;top:102px;width:33px;height:12px;font-size:8px;justify-content:center;padding-bottom:2px">51</div>
<div class="c" style="left:661px;top:102px;width:33px;height:12px;font-size:8px;justify-content:center;padding-bottom:2px">12</div>
<div class="c" style="left:695px;top:102px;width:37px;height:12px;font-size:8px;justify-content:center;padding-bottom:2px">17</div>
<div class="c" style="left:453px;top:114px;width:33px;height:11px;font-size:8px;justify-content:center;padding-bottom:2px">52</div>
<div class="c" style="left:487px;top:114px;width:35px;height:11px;font-size:8px;justify-content:center;padding-bottom:2px">64</div>
<div class="c" style="left:523px;top:114px;width:35px;height:11px;font-size:8px;justify-content:center;padding-bottom:2px">116</div>
<div class="c" style="left:559px;top:114px;width:33px;height:11px;font-size:8px;justify-content:center;padding-bottom:2px">34</div>
<div class="c" style="left:593px;top:114px;width:33px;height:11px;font-size:8px;justify-content:center;padding-bottom:2px">21</div>
<div class="c" style="left:627px;top:114px;width:33px;height:11px;font-size:8px;justify-content:center;padding-bottom:2px">55</div>
<div class="c" style="left:661px;top:114px;width:33px;height:11px;font-size:8px;justify-content:center;padding-bottom:2px">13</div>
<div class="c" style="left:695px;top:114px;width:37px;height:11px;font-size:8px;justify-content:center;padding-bottom:2px">48</div>
<div class="c" style="left:453px;top:125px;width:33px;height:13px;font-size:8px;justify-content:center;padding-bottom:2px">56</div>
<div class="c" style="left:487px;top:125px;width:35px;height:13px;font-size:8px;justify-content:center;padding-bottom:2px">60</div>
<div class="c" style="left:523px;top:125px;width:35px;height:13px;font-size:8px;justify-content:center;padding-bottom:2px">125</div>
<div class="c" style="left:559px;top:125px;width:33px;height:13px;font-size:8px;justify-content:center;padding-bottom:2px">35</div>
<div class="c" style="left:593px;top:125px;width:33px;height:13px;font-size:8px;justify-content:center;padding-bottom:2px">26</div>
<div class="c" style="left:627px;top:125px;width:33px;height:13px;font-size:8px;justify-content:center;padding-bottom:2px">61</div>
<div class="c" style="left:661px;top:125px;width:33px;height:13px;font-size:8px;justify-content:center;padding-bottom:2px">23</div>
<div class="c" style="left:695px;top:125px;width:37px;height:13px;font-size:8px;justify-content:center;padding-bottom:2px">42</div>
<div class="c" style="left:453px;top:383px;width:33px;height:12px;font-size:8px;justify-content:center;padding-bottom:2px">248</div>
<div class="c" style="left:487px;top:383px;width:35px;height:12px;font-size:8px;justify-content:center;padding-bottom:2px">196</div>
<div class="c" style="left:523px;top:383px;width:35px;height:12px;font-size:8px;justify-content:center;padding-bottom:2px">445</div>
<div class="c" style="left:559px;top:383px;width:33px;height:12px;font-size:8px;justify-content:center;padding-bottom:2px">128</div>
<div class="c" style="left:593px;top:383px;width:33px;height:12px;font-size:8px;justify-content:center;padding-bottom:2px">104</div>
<div class="c" style="left:627px;top:383px;width:33px;height:12px;font-size:8px;justify-content:center;padding-bottom:2px">232</div>
<div class="c" style="left:661px;top:383px;width:33px;height:12px;font-size:8px;justify-content:center;padding-bottom:2px">69</div>
<div class="c" style="left:695px;top:383px;width:37px;height:12px;font-size:8px;justify-content:center;padding-bottom:2px">143</div>
<div class="c" style="left:453px;top:395px;width:33px;height:12px;font-size:8px;font-weight:bold;color:#FF0000;justify-content:center;padding-bottom:2px">218</div>
<div class="c" style="left:487px;top:395px;width:35px;height:12px;font-size:8px;font-weight:bold;color:#FF0000;justify-content:center;padding-bottom:2px">232</div>
<div class="c" style="left:523px;top:395px;width:35px;height:12px;font-size:8px;font-weight:bold;color:#FF0000;justify-content:center;padding-bottom:2px">450</div>
<div class="c" style="left:559px;top:395px;width:33px;height:12px;font-size:8px;font-weight:bold;color:#FF0000;justify-content:center;padding-bottom:2px">152</div>
<div class="c" style="left:593px;top:395px;width:33px;height:12px;font-size:8px;font-weight:bold;color:#FF0000;justify-content:center;padding-bottom:2px">74</div>
<div class="c" style="left:627px;top:395px;width:33px;height:12px;font-size:8px;font-weight:bold;color:#FF0000;justify-content:center;padding-bottom:2px">226</div>
<div class="c" style="left:661px;top:395px;width:33px;height:12px;font-size:8px;font-weight:bold;color:#FF0000;justify-content:center;padding-bottom:2px">86</div>
<div class="c" style="left:695px;top:395px;width:37px;height:12px;font-size:8px;font-weight:bold;color:#FF0000;justify-content:center;padding-bottom:2px">138</div>
<div class="c" style="left:453px;top:407px;width:33px;height:12px;font-size:8px;justify-content:center;padding-bottom:2px">251</div>
<div class="c" style="left:487px;top:407px;width:35px;height:12px;font-size:8px;justify-content:center;padding-bottom:2px">175</div>
<div class="c" style="left:523px;top:407px;width:35px;height:12px;font-size:8px;justify-content:center;padding-bottom:2px">426</div>
<div class="c" style="left:559px;top:407px;width:33px;height:12px;font-size:8px;justify-content:center;padding-bottom:2px">167</div>
<div class="c" style="left:593px;top:407px;width:33px;height:12px;font-size:8px;justify-content:center;padding-bottom:2px">76</div>
<div class="c" style="left:627px;top:407px;width:33px;height:12px;font-size:8px;justify-content:center;padding-bottom:2px">244</div>
<div class="c" style="left:661px;top:407px;width:33px;height:12px;font-size:8px;justify-content:center;padding-bottom:2px">68</div>
<div class="c" style="left:695px;top:407px;width:37px;height:12px;font-size:8px;justify-content:center;padding-bottom:2px">114</div>
<div class="c" style="left:453px;top:419px;width:33px;height:12px;font-size:8px;justify-content:center;padding-bottom:2px">282</div>
<div class="c" style="left:487px;top:419px;width:35px;height:12px;font-size:8px;justify-content:center;padding-bottom:2px">262</div>
<div class="c" style="left:523px;top:419px;width:35px;height:12px;font-size:8px;justify-content:center;padding-bottom:2px">544</div>
<div class="c" style="left:559px;top:419px;width:33px;height:12px;font-size:8px;justify-content:center;padding-bottom:2px">196</div>
<div class="c" style="left:593px;top:419px;width:33px;height:12px;font-size:8px;justify-content:center;padding-bottom:2px">109</div>
<div class="c" style="left:627px;top:419px;width:33px;height:12px;font-size:8px;justify-content:center;padding-bottom:2px">305</div>
<div class="c" style="left:661px;top:419px;width:33px;height:12px;font-size:8px;justify-content:center;padding-bottom:2px">74</div>
<div class="c" style="left:695px;top:419px;width:37px;height:12px;font-size:8px;justify-content:center;padding-bottom:2px">165</div>
<div class="c" style="left:453px;top:431px;width:33px;height:12px;font-size:8px;justify-content:center;padding-bottom:2px">277</div>
<div class="c" style="left:487px;top:431px;width:35px;height:12px;font-size:8px;justify-content:center;padding-bottom:2px">236</div>
<div class="c" style="left:523px;top:431px;width:35px;height:12px;font-size:8px;justify-content:center;padding-bottom:2px">513</div>
<div class="c" style="left:559px;top:431px;width:33px;height:12px;font-size:8px;justify-content:center;padding-bottom:2px">179</div>
<div class="c" style="left:593px;top:431px;width:33px;height:12px;font-size:8px;justify-content:center;padding-bottom:2px">95</div>
<div class="c" style="left:627px;top:431px;width:33px;height:12px;font-size:8px;justify-content:center;padding-bottom:2px">273</div>
<div class="c" style="left:661px;top:431px;width:33px;height:12px;font-size:8px;justify-content:center;padding-bottom:2px">80</div>
<div class="c" style="left:695px;top:431px;width:37px;height:12px;font-size:8px;justify-content:center;padding-bottom:2px">160</div>
<div class="c" style="left:453px;top:443px;width:33px;height:12px;font-size:8px;justify-content:center;padding-bottom:2px">259</div>
<div class="c" style="left:487px;top:443px;width:35px;height:12px;font-size:8px;justify-content:center;padding-bottom:2px">329</div>
<div class="c" style="left:523px;top:443px;width:35px;height:12px;font-size:8px;justify-content:center;padding-bottom:2px">588</div>
<div class="c" style="left:559px;top:443px;width:33px;height:12px;font-size:8px;justify-content:center;padding-bottom:2px">174</div>
<div class="c" style="left:593px;top:443px;width:33px;height:12px;font-size:8px;justify-content:center;padding-bottom:2px">102</div>
<div class="c" style="left:627px;top:443px;width:33px;height:12px;font-size:8px;justify-content:center;padding-bottom:2px">276</div>
<div class="c" style="left:661px;top:443px;width:33px;height:12px;font-size:8px;justify-content:center;padding-bottom:2px">108</div>
<div class="c" style="left:695px;top:443px;width:37px;height:12px;font-size:8px;justify-content:center;padding-bottom:2px">204</div>
<div class="c" style="left:453px;top:455px;width:33px;height:12px;font-size:8px;justify-content:center;padding-bottom:2px">230</div>
<div class="c" style="left:487px;top:455px;width:35px;height:12px;font-size:8px;justify-content:center;padding-bottom:2px">204</div>
<div class="c" style="left:523px;top:455px;width:35px;height:12px;font-size:8px;justify-content:center;padding-bottom:2px">434</div>
<div class="c" style="left:559px;top:455px;width:33px;height:12px;font-size:8px;justify-content:center;padding-bottom:2px">187</div>
<div class="c" style="left:593px;top:455px;width:33px;height:12px;font-size:8px;justify-content:center;padding-bottom:2px">89</div>
<div class="c" style="left:627px;top:455px;width:33px;height:12px;font-size:8px;justify-content:center;padding-bottom:2px">276</div>
<div class="c" style="left:661px;top:455px;width:33px;height:12px;font-size:8px;justify-content:center;padding-bottom:2px">69</div>
<div class="c" style="left:695px;top:455px;width:37px;height:12px;font-size:8px;justify-content:center;padding-bottom:2px">89</div>
<div class="c" style="left:733px;top:90px;width:35px;height:12px;font-size:8px;justify-content:center;padding-bottom:2px">70</div>
<div class="c" style="left:769px;top:90px;width:37px;height:12px;font-size:8px;justify-content:center;padding-bottom:2px">0</div>
<div class="c" style="left:733px;top:102px;width:35px;height:12px;font-size:8px;justify-content:center;padding-bottom:2px">80</div>
<div class="c" style="left:769px;top:102px;width:37px;height:12px;font-size:8px;justify-content:center;padding-bottom:2px">0</div>
<div class="c" style="left:733px;top:114px;width:35px;height:11px;font-size:8px;justify-content:center;padding-bottom:2px">116</div>
<div class="c" style="left:769px;top:114px;width:37px;height:11px;font-size:8px;justify-content:center;padding-bottom:2px">0</div>
<div class="c" style="left:733px;top:125px;width:35px;height:13px;font-size:8px;justify-content:center;padding-bottom:2px">125</div>
<div class="c" style="left:769px;top:125px;width:37px;height:13px;font-size:8px;justify-content:center;padding-bottom:2px">0</div>
<div class="c" style="left:769px;top:138px;width:37px;height:13px;font-size:8px;justify-content:center;padding-bottom:2px">0</div>
<div class="c" style="left:769px;top:151px;width:37px;height:13px;font-size:8px;justify-content:center;padding-bottom:2px">0</div>
<div class="c" style="left:769px;top:164px;width:37px;height:13px;font-size:8px;justify-content:center;padding-bottom:2px">0</div>
<div class="c" style="left:769px;top:177px;width:37px;height:13px;font-size:8px;justify-content:center;padding-bottom:2px">0</div>
<div class="c" style="left:769px;top:190px;width:37px;height:13px;font-size:8px;justify-content:center;padding-bottom:2px">0</div>
<div class="c" style="left:769px;top:203px;width:37px;height:13px;font-size:8px;justify-content:center;padding-bottom:2px">0</div>
<div class="c" style="left:769px;top:216px;width:37px;height:13px;font-size:8px;justify-content:center;padding-bottom:2px">0</div>
<div class="c" style="left:769px;top:229px;width:37px;height:13px;font-size:8px;justify-content:center;padding-bottom:2px">0</div>
<div class="c" style="left:769px;top:242px;width:37px;height:13px;font-size:8px;justify-content:center;padding-bottom:2px">0</div>
<div class="c" style="left:769px;top:255px;width:37px;height:13px;font-size:8px;justify-content:center;padding-bottom:2px">0</div>
<div class="c" style="left:769px;top:268px;width:37px;height:13px;font-size:8px;justify-content:center;padding-bottom:2px">0</div>
<div class="c" style="left:769px;top:281px;width:37px;height:13px;font-size:8px;justify-content:center;padding-bottom:2px">0</div>
<div class="c" style="left:769px;top:294px;width:37px;height:13px;font-size:8px;justify-content:center;padding-bottom:2px">0</div>
<div class="c" style="left:769px;top:307px;width:37px;height:13px;font-size:8px;justify-content:center;padding-bottom:2px">0</div>
<div class="c" style="left:769px;top:320px;width:37px;height:15px;font-size:8px;justify-content:center;padding-bottom:2px">0</div>
<div class="c" style="left:769px;top:335px;width:37px;height:12px;font-size:8px;justify-content:center;padding-bottom:2px">0</div>
<div class="c" style="left:769px;top:347px;width:37px;height:12px;font-size:8px;justify-content:center;padding-bottom:2px">0</div>
<div class="c" style="left:769px;top:359px;width:37px;height:12px;font-size:8px;justify-content:center;padding-bottom:2px">0</div>
<div class="c" style="left:769px;top:371px;width:37px;height:12px;font-size:8px;justify-content:center;padding-bottom:2px">0</div>
<div class="c" style="left:733px;top:383px;width:35px;height:12px;font-size:8px;justify-content:center;padding-bottom:2px">445</div>
<div class="c" style="left:769px;top:383px;width:37px;height:12px;font-size:8px;justify-content:center;padding-bottom:2px">0</div>
<div class="c" style="left:733px;top:395px;width:35px;height:12px;font-size:8px;justify-content:center;padding-bottom:2px">450</div>
<div class="c" style="left:769px;top:395px;width:37px;height:12px;font-size:8px;justify-content:center;padding-bottom:2px">0</div>
<div class="c" style="left:733px;top:407px;width:35px;height:12px;font-size:8px;justify-content:center;padding-bottom:2px">426</div>
<div class="c" style="left:769px;top:407px;width:37px;height:12px;font-size:8px;justify-content:center;padding-bottom:2px">0</div>
<div class="c" style="left:733px;top:419px;width:35px;height:12px;font-size:8px;justify-content:center;padding-bottom:2px">544</div>
<div class="c" style="left:769px;top:419px;width:37px;height:12px;font-size:8px;justify-content:center;padding-bottom:2px">0</div>
<div class="c" style="left:733px;top:431px;width:35px;height:12px;font-size:8px;justify-content:center;padding-bottom:2px">513</div>
<div class="c" style="left:769px;top:431px;width:37px;height:12px;font-size:8px;justify-content:center;padding-bottom:2px">0</div>
<div class="c" style="left:733px;top:443px;width:35px;height:12px;font-size:8px;justify-content:center;padding-bottom:2px">588</div>
<div class="c" style="left:769px;top:443px;width:37px;height:12px;font-size:8px;justify-content:center;padding-bottom:2px">0</div>
<div class="c" style="left:733px;top:455px;width:35px;height:12px;font-size:8px;justify-content:center;padding-bottom:2px">434</div>
<div class="c" style="left:769px;top:455px;width:37px;height:12px;font-size:8px;justify-content:center;padding-bottom:2px">0</div>
<div class="c" style="left:807px;top:90px;width:31px;height:12px;font-size:10px;justify-content:center;padding-bottom:0px">0,80</div>
<div class="c" style="left:839px;top:90px;width:31px;height:12px;font-size:10px;justify-content:center;padding-bottom:0px">0,33</div>
<div class="c" style="left:871px;top:90px;width:31px;height:12px;font-size:10px;justify-content:center;padding-bottom:0px">0,13</div>
<div class="c" style="left:903px;top:90px;width:31px;height:12px;font-size:10px;justify-content:center;padding-bottom:0px">14,25</div>
<div class="c" style="left:935px;top:90px;width:31px;height:12px;font-size:10px;justify-content:center;padding-bottom:0px">61,8</div>
<div class="c" style="left:967px;top:90px;width:31px;height:12px;font-size:10px;justify-content:center;padding-bottom:0px">3,45</div>
<div class="c" style="left:999px;top:90px;width:31px;height:12px;font-size:10px;justify-content:center;padding-bottom:0px">1,73</div>
<div class="c" style="left:1031px;top:90px;width:31px;height:12px;font-size:10px;justify-content:center;padding-bottom:0px">0,13</div>
<div class="c" style="left:1063px;top:90px;width:31px;height:12px;font-size:10px;justify-content:center;padding-bottom:0px">0,08</div>
<div class="c" style="left:1095px;top:90px;width:31px;height:12px;font-size:10px;justify-content:center;padding-bottom:0px">0,10</div>
<div class="c" style="left:1127px;top:90px;width:31px;height:12px;font-size:10px;justify-content:center;padding-bottom:0px">0,11</div>
<div class="c" style="left:1159px;top:90px;width:31px;height:12px;font-size:10px;justify-content:center;padding-bottom:0px">0,18</div>
<div class="c" style="left:1191px;top:90px;width:31px;height:12px;font-size:10px;justify-content:center;padding-bottom:0px">0,14</div>
<div class="c" style="left:1223px;top:90px;width:31px;height:12px;font-size:10px;justify-content:center;padding-bottom:0px">0,58</div>
<div class="c" style="left:1255px;top:90px;width:31px;height:12px;font-size:10px;justify-content:center;padding-bottom:0px">0,28</div>
<div class="c" style="left:807px;top:102px;width:31px;height:12px;font-size:10px;justify-content:center;padding-bottom:0px">0,82</div>
<div class="c" style="left:839px;top:102px;width:31px;height:12px;font-size:10px;justify-content:center;padding-bottom:0px">0,34</div>
<div class="c" style="left:871px;top:102px;width:31px;height:12px;font-size:10px;justify-content:center;padding-bottom:0px">0,14</div>
<div class="c" style="left:903px;top:102px;width:31px;height:12px;font-size:10px;justify-content:center;padding-bottom:0px">13,82</div>
<div class="c" style="left:935px;top:102px;width:31px;height:12px;font-size:10px;justify-content:center;padding-bottom:0px">59,7</div>
<div class="c" style="left:967px;top:102px;width:31px;height:12px;font-size:10px;justify-content:center;padding-bottom:0px">3,86</div>
<div class="c" style="left:999px;top:102px;width:31px;height:12px;font-size:10px;justify-content:center;padding-bottom:0px">1,84</div>
<div class="c" style="left:1031px;top:102px;width:31px;height:12px;font-size:10px;justify-content:center;padding-bottom:0px">0,15</div>
<div class="c" style="left:1063px;top:102px;width:31px;height:12px;font-size:10px;justify-content:center;padding-bottom:0px">0,13</div>
<div class="c" style="left:1095px;top:102px;width:31px;height:12px;font-size:10px;justify-content:center;padding-bottom:0px">0,16</div>
<div class="c" style="left:1127px;top:102px;width:31px;height:12px;font-size:10px;justify-content:center;padding-bottom:0px">0,19</div>
<div class="c" style="left:1159px;top:102px;width:31px;height:12px;font-size:10px;justify-content:center;padding-bottom:0px">0,29</div>
<div class="c" style="left:1191px;top:102px;width:31px;height:12px;font-size:10px;justify-content:center;padding-bottom:0px">0,24</div>
<div class="c" style="left:1223px;top:102px;width:31px;height:12px;font-size:10px;justify-content:center;padding-bottom:0px">1,12</div>
<div class="c" style="left:1255px;top:102px;width:31px;height:12px;font-size:10px;justify-content:center;padding-bottom:0px">0,50</div>
<div class="c" style="left:807px;top:114px;width:31px;height:11px;font-size:10px;justify-content:center;padding-bottom:0px">0,95</div>
<div class="c" style="left:839px;top:114px;width:31px;height:11px;font-size:10px;justify-content:center;padding-bottom:0px">0,46</div>
<div class="c" style="left:871px;top:114px;width:31px;height:11px;font-size:10px;justify-content:center;padding-bottom:0px">0,18</div>
<div class="c" style="left:903px;top:114px;width:31px;height:11px;font-size:10px;justify-content:center;padding-bottom:0px">11,34</div>
<div class="c" style="left:935px;top:114px;width:31px;height:11px;font-size:10px;justify-content:center;padding-bottom:0px">55,3</div>
<div class="c" style="left:967px;top:114px;width:31px;height:11px;font-size:10px;justify-content:center;padding-bottom:0px">2,72</div>
<div class="c" style="left:999px;top:114px;width:31px;height:11px;font-size:10px;justify-content:center;padding-bottom:0px">1,50</div>
<div class="c" style="left:1031px;top:114px;width:31px;height:11px;font-size:10px;justify-content:center;padding-bottom:0px">0,11</div>
<div class="c" style="left:1063px;top:114px;width:31px;height:11px;font-size:10px;justify-content:center;padding-bottom:0px">0,13</div>
<div class="c" style="left:1095px;top:114px;width:31px;height:11px;font-size:10px;justify-content:center;padding-bottom:0px">0,16</div>
<div class="c" style="left:1127px;top:114px;width:31px;height:11px;font-size:10px;justify-content:center;padding-bottom:0px">0,19</div>
<div class="c" style="left:1159px;top:114px;width:31px;height:11px;font-size:10px;justify-content:center;padding-bottom:0px">0,24</div>
<div class="c" style="left:1191px;top:114px;width:31px;height:11px;font-size:10px;justify-content:center;padding-bottom:0px">0,19</div>
<div class="c" style="left:1223px;top:114px;width:31px;height:11px;font-size:10px;justify-content:center;padding-bottom:0px">0,46</div>
<div class="c" style="left:1255px;top:114px;width:31px;height:11px;font-size:10px;justify-content:center;padding-bottom:0px">0,35</div>
<div class="c" style="left:807px;top:125px;width:31px;height:13px;font-size:10px;justify-content:center;padding-bottom:0px">0,93</div>
<div class="c" style="left:839px;top:125px;width:31px;height:13px;font-size:10px;justify-content:center;padding-bottom:0px">0,39</div>
<div class="c" style="left:871px;top:125px;width:31px;height:13px;font-size:10px;justify-content:center;padding-bottom:0px">0,15</div>
<div class="c" style="left:903px;top:125px;width:31px;height:13px;font-size:10px;justify-content:center;padding-bottom:0px">13,52</div>
<div class="c" style="left:935px;top:125px;width:31px;height:13px;font-size:10px;justify-content:center;padding-bottom:0px">57,4</div>
<div class="c" style="left:967px;top:125px;width:31px;height:13px;font-size:10px;justify-content:center;padding-bottom:0px">2,00</div>
<div class="c" style="left:999px;top:125px;width:31px;height:13px;font-size:10px;justify-content:center;padding-bottom:0px">1,60</div>
<div class="c" style="left:1031px;top:125px;width:31px;height:13px;font-size:10px;justify-content:center;padding-bottom:0px">0,18</div>
<div class="c" style="left:1063px;top:125px;width:31px;height:13px;font-size:10px;justify-content:center;padding-bottom:0px">0,10</div>
<div class="c" style="left:1095px;top:125px;width:31px;height:13px;font-size:10px;justify-content:center;padding-bottom:0px">0,23</div>
<div class="c" style="left:1127px;top:125px;width:31px;height:13px;font-size:10px;justify-content:center;padding-bottom:0px">0,30</div>
<div class="c" style="left:1159px;top:125px;width:31px;height:13px;font-size:10px;justify-content:center;padding-bottom:0px">0,37</div>
<div class="c" style="left:1191px;top:125px;width:31px;height:13px;font-size:10px;justify-content:center;padding-bottom:0px">0,30</div>
<div class="c" style="left:1223px;top:125px;width:31px;height:13px;font-size:10px;justify-content:center;padding-bottom:0px">0,90</div>
<div class="c" style="left:1255px;top:125px;width:31px;height:13px;font-size:10px;justify-content:center;padding-bottom:0px">0,54</div>
<div class="c" style="left:807px;top:383px;width:31px;height:12px;font-size:10px;justify-content:center;padding-bottom:0px">1,07</div>
<div class="c" style="left:839px;top:383px;width:31px;height:12px;font-size:10px;justify-content:center;padding-bottom:0px">0,44</div>
<div class="c" style="left:871px;top:383px;width:31px;height:12px;font-size:10px;justify-content:center;padding-bottom:0px">0,19</div>
<div class="c" style="left:903px;top:383px;width:31px;height:12px;font-size:10px;justify-content:center;padding-bottom:0px">12,57</div>
<div class="c" style="left:935px;top:383px;width:31px;height:12px;font-size:10px;justify-content:center;padding-bottom:0px">72,7</div>
<div class="c" style="left:967px;top:383px;width:31px;height:12px;font-size:10px;justify-content:center;padding-bottom:0px">3,71</div>
<div class="c" style="left:999px;top:383px;width:31px;height:12px;font-size:10px;justify-content:center;padding-bottom:0px">1,64</div>
<div class="c" style="left:1031px;top:383px;width:31px;height:12px;font-size:10px;justify-content:center;padding-bottom:0px">0,16</div>
<div class="c" style="left:1063px;top:383px;width:31px;height:12px;font-size:10px;justify-content:center;padding-bottom:0px">0,11</div>
<div class="c" style="left:1095px;top:383px;width:31px;height:12px;font-size:10px;justify-content:center;padding-bottom:0px">0,13</div>
<div class="c" style="left:1127px;top:383px;width:31px;height:12px;font-size:10px;justify-content:center;padding-bottom:0px">0,15</div>
<div class="c" style="left:1159px;top:383px;width:31px;height:12px;font-size:10px;justify-content:center;padding-bottom:0px">0,22</div>
<div class="c" style="left:1191px;top:383px;width:31px;height:12px;font-size:10px;justify-content:center;padding-bottom:0px">0,18</div>
<div class="c" style="left:1223px;top:383px;width:31px;height:12px;font-size:10px;justify-content:center;padding-bottom:0px">0,55</div>
<div class="c" style="left:1255px;top:383px;width:31px;height:12px;font-size:10px;justify-content:center;padding-bottom:0px">0,40</div>
<div class="c" style="left:807px;top:395px;width:31px;height:12px;font-size:10px;justify-content:center;padding-bottom:0px">0,96</div>
<div class="c" style="left:839px;top:395px;width:31px;height:12px;font-size:10px;justify-content:center;padding-bottom:0px">0,41</div>
<div class="c" style="left:871px;top:395px;width:31px;height:12px;font-size:10px;justify-content:center;padding-bottom:0px">0,12</div>
<div class="c" style="left:903px;top:395px;width:31px;height:12px;font-size:10px;justify-content:center;padding-bottom:0px">11,35</div>
<div class="c" style="left:935px;top:395px;width:31px;height:12px;font-size:10px;justify-content:center;padding-bottom:0px">59,6</div>
<div class="c" style="left:967px;top:395px;width:31px;height:12px;font-size:10px;justify-content:center;padding-bottom:0px">3,25</div>
<div class="c" style="left:999px;top:395px;width:31px;height:12px;font-size:10px;justify-content:center;padding-bottom:0px">1,68</div>
<div class="c" style="left:1031px;top:395px;width:31px;height:12px;font-size:10px;justify-content:center;padding-bottom:0px">0,19</div>
<div class="c" style="left:1063px;top:395px;width:31px;height:12px;font-size:10px;justify-content:center;padding-bottom:0px">0,14</div>
<div class="c" style="left:1095px;top:395px;width:31px;height:12px;font-size:10px;justify-content:center;padding-bottom:0px">0,17</div>
<div class="c" style="left:1127px;top:395px;width:31px;height:12px;font-size:10px;justify-content:center;padding-bottom:0px">0,21</div>
<div class="c" style="left:1159px;top:395px;width:31px;height:12px;font-size:10px;justify-content:center;padding-bottom:0px">0,29</div>
<div class="c" style="left:1191px;top:395px;width:31px;height:12px;font-size:10px;justify-content:center;padding-bottom:0px">0,23</div>
<div class="c" style="left:1223px;top:395px;width:31px;height:12px;font-size:10px;justify-content:center;padding-bottom:0px">0,76</div>
<div class="c" style="left:1255px;top:395px;width:31px;height:12px;font-size:10px;justify-content:center;padding-bottom:0px">0,45</div>
<div class="c" style="left:807px;top:407px;width:31px;height:12px;font-size:10px;justify-content:center;padding-bottom:0px">1,03</div>
<div class="c" style="left:839px;top:407px;width:31px;height:12px;font-size:10px;justify-content:center;padding-bottom:0px">0,39</div>
<div class="c" style="left:871px;top:407px;width:31px;height:12px;font-size:10px;justify-content:center;padding-bottom:0px">0,16</div>
<div class="c" style="left:903px;top:407px;width:31px;height:12px;font-size:10px;justify-content:center;padding-bottom:0px">13,95</div>
<div class="c" style="left:935px;top:407px;width:31px;height:12px;font-size:10px;justify-content:center;padding-bottom:0px">71,4</div>
<div class="c" style="left:967px;top:407px;width:31px;height:12px;font-size:10px;justify-content:center;padding-bottom:0px">4,45</div>
<div class="c" style="left:999px;top:407px;width:31px;height:12px;font-size:10px;justify-content:center;padding-bottom:0px">1,83</div>
<div class="c" style="left:1031px;top:407px;width:31px;height:12px;font-size:10px;justify-content:center;padding-bottom:0px">0,16</div>
<div class="c" style="left:1063px;top:407px;width:31px;height:12px;font-size:10px;justify-content:center;padding-bottom:0px">0,21</div>
<div class="c" style="left:1095px;top:407px;width:31px;height:12px;font-size:10px;justify-content:center;padding-bottom:0px">0,26</div>
<div class="c" style="left:1127px;top:407px;width:31px;height:12px;font-size:10px;justify-content:center;padding-bottom:0px">0,36</div>
<div class="c" style="left:1159px;top:407px;width:31px;height:12px;font-size:10px;justify-content:center;padding-bottom:0px">0,48</div>
<div class="c" style="left:1191px;top:407px;width:31px;height:12px;font-size:10px;justify-content:center;padding-bottom:0px">0,39</div>
<div class="c" style="left:1223px;top:407px;width:31px;height:12px;font-size:10px;justify-content:center;padding-bottom:0px">1,44</div>
<div class="c" style="left:1255px;top:407px;width:31px;height:12px;font-size:10px;justify-content:center;padding-bottom:0px">0,94</div>
<div class="c" style="left:807px;top:419px;width:31px;height:12px;font-size:10px;justify-content:center;padding-bottom:0px">0,93</div>
<div class="c" style="left:839px;top:419px;width:31px;height:12px;font-size:10px;justify-content:center;padding-bottom:0px">0,45</div>
<div class="c" style="left:871px;top:419px;width:31px;height:12px;font-size:10px;justify-content:center;padding-bottom:0px">0,17</div>
<div class="c" style="left:903px;top:419px;width:31px;height:12px;font-size:10px;justify-content:center;padding-bottom:0px">9,41</div>
<div class="c" style="left:935px;top:419px;width:31px;height:12px;font-size:10px;justify-content:center;padding-bottom:0px">65,1</div>
<div class="c" style="left:967px;top:419px;width:31px;height:12px;font-size:10px;justify-content:center;padding-bottom:0px">3,08</div>
<div class="c" style="left:999px;top:419px;width:31px;height:12px;font-size:10px;justify-content:center;padding-bottom:0px">1,48</div>
<div class="c" style="left:1031px;top:419px;width:31px;height:12px;font-size:10px;justify-content:center;padding-bottom:0px">0,14</div>
<div class="c" style="left:1063px;top:419px;width:31px;height:12px;font-size:10px;justify-content:center;padding-bottom:0px">0,13</div>
<div class="c" style="left:1095px;top:419px;width:31px;height:12px;font-size:10px;justify-content:center;padding-bottom:0px">0,16</div>
<div class="c" style="left:1127px;top:419px;width:31px;height:12px;font-size:10px;justify-content:center;padding-bottom:0px">0,19</div>
<div class="c" style="left:1159px;top:419px;width:31px;height:12px;font-size:10px;justify-content:center;padding-bottom:0px">0,24</div>
<div class="c" style="left:1191px;top:419px;width:31px;height:12px;font-size:10px;justify-content:center;padding-bottom:0px">0,19</div>
<div class="c" style="left:1223px;top:419px;width:31px;height:12px;font-size:10px;justify-content:center;padding-bottom:0px">0,63</div>
<div class="c" style="left:1255px;top:419px;width:31px;height:12px;font-size:10px;justify-content:center;padding-bottom:0px">0,40</div>
<div class="c" style="left:807px;top:431px;width:31px;height:12px;font-size:10px;justify-content:center;padding-bottom:0px">1,01</div>
<div class="c" style="left:839px;top:431px;width:31px;height:12px;font-size:10px;justify-content:center;padding-bottom:0px">0,38</div>
<div class="c" style="left:871px;top:431px;width:31px;height:12px;font-size:10px;justify-content:center;padding-bottom:0px">0,15</div>
<div class="c" style="left:903px;top:431px;width:31px;height:12px;font-size:10px;justify-content:center;padding-bottom:0px">13,01</div>
<div class="c" style="left:935px;top:431px;width:31px;height:12px;font-size:10px;justify-content:center;padding-bottom:0px">74,6</div>
<div class="c" style="left:967px;top:431px;width:31px;height:12px;font-size:10px;justify-content:center;padding-bottom:0px">3,52</div>
<div class="c" style="left:999px;top:431px;width:31px;height:12px;font-size:10px;justify-content:center;padding-bottom:0px">1,62</div>
<div class="c" style="left:1031px;top:431px;width:31px;height:12px;font-size:10px;justify-content:center;padding-bottom:0px">0,16</div>
<div class="c" style="left:1063px;top:431px;width:31px;height:12px;font-size:10px;justify-content:center;padding-bottom:0px">0,13</div>
<div class="c" style="left:1095px;top:431px;width:31px;height:12px;font-size:10px;justify-content:center;padding-bottom:0px">0,16</div>
<div class="c" style="left:1127px;top:431px;width:31px;height:12px;font-size:10px;justify-content:center;padding-bottom:0px">0,19</div>
<div class="c" style="left:1159px;top:431px;width:31px;height:12px;font-size:10px;justify-content:center;padding-bottom:0px">0,26</div>
<div class="c" style="left:1191px;top:431px;width:31px;height:12px;font-size:10px;justify-content:center;padding-bottom:0px">0,21</div>
<div class="c" style="left:1223px;top:431px;width:31px;height:12px;font-size:10px;justify-content:center;padding-bottom:0px">0,67</div>
<div class="c" style="left:1255px;top:431px;width:31px;height:12px;font-size:10px;justify-content:center;padding-bottom:0px">0,45</div>
<div class="c" style="left:807px;top:443px;width:31px;height:12px;font-size:10px;justify-content:center;padding-bottom:0px">0,94</div>
<div class="c" style="left:839px;top:443px;width:31px;height:12px;font-size:10px;justify-content:center;padding-bottom:0px">0,58</div>
<div class="c" style="left:871px;top:443px;width:31px;height:12px;font-size:10px;justify-content:center;padding-bottom:0px">0,17</div>
<div class="c" style="left:903px;top:443px;width:31px;height:12px;font-size:10px;justify-content:center;padding-bottom:0px">7,70</div>
<div class="c" style="left:935px;top:443px;width:31px;height:12px;font-size:10px;justify-content:center;padding-bottom:0px">41,8</div>
<div class="c" style="left:967px;top:443px;width:31px;height:12px;font-size:10px;justify-content:center;padding-bottom:0px">2,61</div>
<div class="c" style="left:999px;top:443px;width:31px;height:12px;font-size:10px;justify-content:center;padding-bottom:0px">1,46</div>
<div class="c" style="left:1031px;top:443px;width:31px;height:12px;font-size:10px;justify-content:center;padding-bottom:0px">0,18</div>
<div class="c" style="left:1063px;top:443px;width:31px;height:12px;font-size:10px;justify-content:center;padding-bottom:0px">0,23</div>
<div class="c" style="left:1095px;top:443px;width:31px;height:12px;font-size:10px;justify-content:center;padding-bottom:0px">0,29</div>
<div class="c" style="left:1127px;top:443px;width:31px;height:12px;font-size:10px;justify-content:center;padding-bottom:0px">0,40</div>
<div class="c" style="left:1159px;top:443px;width:31px;height:12px;font-size:10px;justify-content:center;padding-bottom:0px">0,42</div>
<div class="c" style="left:1191px;top:443px;width:31px;height:12px;font-size:10px;justify-content:center;padding-bottom:0px">0,34</div>
<div class="c" style="left:1223px;top:443px;width:31px;height:12px;font-size:10px;justify-content:center;padding-bottom:0px">0,97</div>
<div class="c" style="left:1255px;top:443px;width:31px;height:12px;font-size:10px;justify-content:center;padding-bottom:0px">0,60</div>
<div class="c" style="left:807px;top:455px;width:31px;height:12px;font-size:10px;justify-content:center;padding-bottom:0px">0,83</div>
<div class="c" style="left:839px;top:455px;width:31px;height:12px;font-size:10px;justify-content:center;padding-bottom:0px">0,39</div>
<div class="c" style="left:871px;top:455px;width:31px;height:12px;font-size:10px;justify-content:center;padding-bottom:0px">0,16</div>
<div class="c" style="left:903px;top:455px;width:31px;height:12px;font-size:10px;justify-content:center;padding-bottom:0px">13,92</div>
<div class="c" style="left:935px;top:455px;width:31px;height:12px;font-size:10px;justify-content:center;padding-bottom:0px">49,5</div>
<div class="c" style="left:967px;top:455px;width:31px;height:12px;font-size:10px;justify-content:center;padding-bottom:0px">4,34</div>
<div class="c" style="left:999px;top:455px;width:31px;height:12px;font-size:10px;justify-content:center;padding-bottom:0px">2,04</div>
<div class="c" style="left:1031px;top:455px;width:31px;height:12px;font-size:10px;justify-content:center;padding-bottom:0px">0,16</div>
<div class="c" style="left:1063px;top:455px;width:31px;height:12px;font-size:10px;justify-content:center;padding-bottom:0px">0,20</div>
<div class="c" style="left:1095px;top:455px;width:31px;height:12px;font-size:10px;justify-content:center;padding-bottom:0px">0,26</div>
<div class="c" style="left:1127px;top:455px;width:31px;height:12px;font-size:10px;justify-content:center;padding-bottom:0px">0,34</div>
<div class="c" style="left:1159px;top:455px;width:31px;height:12px;font-size:10px;justify-content:center;padding-bottom:0px">0,52</div>
<div class="c" style="left:1191px;top:455px;width:31px;height:12px;font-size:10px;justify-content:center;padding-bottom:0px">0,42</div>
<div class="c" style="left:1223px;top:455px;width:31px;height:12px;font-size:10px;justify-content:center;padding-bottom:0px">2,04</div>
<div class="c" style="left:1255px;top:455px;width:31px;height:12px;font-size:10px;justify-content:center;padding-bottom:0px">0,89</div>
<div class="c" style="left:839px;top:138px;width:31px;height:13px;font-size:10px;justify-content:center;padding-bottom:0px">0,34</div>
<div class="c" style="left:871px;top:138px;width:31px;height:13px;font-size:10px;justify-content:center;padding-bottom:0px">0,16</div>
<div class="c" style="left:839px;top:151px;width:31px;height:13px;font-size:10px;justify-content:center;padding-bottom:0px">0,49</div>
<div class="c" style="left:871px;top:151px;width:31px;height:13px;font-size:10px;justify-content:center;padding-bottom:0px">0,14</div>
<div class="c" style="left:839px;top:164px;width:31px;height:13px;font-size:10px;justify-content:center;padding-bottom:0px">0,41</div>
<div class="c" style="left:871px;top:164px;width:31px;height:13px;font-size:10px;justify-content:center;padding-bottom:0px">0,11</div>
<div class="c" style="left:839px;top:177px;width:31px;height:13px;font-size:10px;justify-content:center;padding-bottom:0px">0,55</div>
<div class="c" style="left:871px;top:177px;width:31px;height:13px;font-size:10px;justify-content:center;padding-bottom:0px">0,19</div>
<div class="c" style="left:839px;top:190px;width:31px;height:13px;font-size:10px;justify-content:center;padding-bottom:0px">0,61</div>
<div class="c" style="left:871px;top:190px;width:31px;height:13px;font-size:10px;justify-content:center;padding-bottom:0px">0,14</div>
<div class="c" style="left:839px;top:203px;width:31px;height:13px;font-size:10px;justify-content:center;padding-bottom:0px">0,38</div>
<div class="c" style="left:871px;top:203px;width:31px;height:13px;font-size:10px;justify-content:center;padding-bottom:0px">0,15</div>
<div class="c" style="left:839px;top:216px;width:31px;height:13px;font-size:10px;justify-content:center;padding-bottom:0px">0,44</div>
<div class="c" style="left:871px;top:216px;width:31px;height:13px;font-size:10px;justify-content:center;padding-bottom:0px">0,19</div>
<div class="c" style="left:839px;top:229px;width:31px;height:13px;font-size:10px;justify-content:center;padding-bottom:0px">0,41</div>
<div class="c" style="left:871px;top:229px;width:31px;height:13px;font-size:10px;justify-content:center;padding-bottom:0px">0,11</div>
<div class="c" style="left:839px;top:242px;width:31px;height:13px;font-size:10px;justify-content:center;padding-bottom:0px">0,47</div>
<div class="c" style="left:871px;top:242px;width:31px;height:13px;font-size:10px;justify-content:center;padding-bottom:0px">0,18</div>
<div class="c" style="left:839px;top:255px;width:31px;height:13px;font-size:10px;justify-content:center;padding-bottom:0px">0,40</div>
<div class="c" style="left:871px;top:255px;width:31px;height:13px;font-size:10px;justify-content:center;padding-bottom:0px">0,14</div>
<div class="c" style="left:839px;top:268px;width:31px;height:13px;font-size:10px;justify-content:center;padding-bottom:0px">0,33</div>
<div class="c" style="left:871px;top:268px;width:31px;height:13px;font-size:10px;justify-content:center;padding-bottom:0px">0,12</div>
<div class="c" style="left:839px;top:281px;width:31px;height:13px;font-size:10px;justify-content:center;padding-bottom:0px">0,51</div>
<div class="c" style="left:871px;top:281px;width:31px;height:13px;font-size:10px;justify-content:center;padding-bottom:0px">0,18</div>
<div class="c" style="left:839px;top:294px;width:31px;height:13px;font-size:10px;justify-content:center;padding-bottom:0px">0,51</div>
<div class="c" style="left:871px;top:294px;width:31px;height:13px;font-size:10px;justify-content:center;padding-bottom:0px">0,15</div>
<div class="c" style="left:839px;top:307px;width:31px;height:13px;font-size:10px;font-weight:bold;color:#FF0000;justify-content:center;padding-bottom:0px">0,43</div>
<div class="c" style="left:871px;top:307px;width:31px;height:13px;font-size:10px;font-weight:bold;color:#FF0000;justify-content:center;padding-bottom:0px">0,15</div>
<div class="c" style="left:839px;top:320px;width:31px;height:15px;font-size:10px;justify-content:center;padding-bottom:0px">0,31</div>
<div class="c" style="left:871px;top:320px;width:31px;height:15px;font-size:10px;justify-content:center;padding-bottom:0px">0,12</div>
<div class="c" style="left:839px;top:335px;width:31px;height:12px;font-size:10px;justify-content:center;padding-bottom:0px">0,48</div>
<div class="c" style="left:871px;top:335px;width:31px;height:12px;font-size:10px;justify-content:center;padding-bottom:0px">0,12</div>
<div class="c" style="left:839px;top:347px;width:31px;height:12px;font-size:10px;justify-content:center;padding-bottom:0px">0,46</div>
<div class="c" style="left:871px;top:347px;width:31px;height:12px;font-size:10px;justify-content:center;padding-bottom:0px">0,17</div>
<div class="c" style="left:839px;top:359px;width:31px;height:12px;font-size:10px;justify-content:center;padding-bottom:0px">0,46</div>
<div class="c" style="left:871px;top:359px;width:31px;height:12px;font-size:10px;justify-content:center;padding-bottom:0px">0,17</div>
<div class="c" style="left:839px;top:371px;width:31px;height:12px;font-size:10px;justify-content:center;padding-bottom:0px">0,48</div>
<div class="c" style="left:871px;top:371px;width:31px;height:12px;font-size:10px;justify-content:center;padding-bottom:0px">0,19</div>
<div class="c" style="left:1191px;top:138px;width:31px;height:13px;font-size:10px;justify-content:center;padding-bottom:0px">0,36</div>
<div class="c" style="left:1223px;top:138px;width:31px;height:13px;font-size:10px;justify-content:center;padding-bottom:0px">2,56</div>
<div class="c" style="left:1255px;top:138px;width:31px;height:13px;font-size:10px;justify-content:center;padding-bottom:0px">0,72</div>
<div class="c" style="left:1191px;top:151px;width:31px;height:13px;font-size:10px;justify-content:center;padding-bottom:0px">0,15</div>
<div class="c" style="left:1223px;top:151px;width:31px;height:13px;font-size:10px;justify-content:center;padding-bottom:0px">0,46</div>
<div class="c" style="left:1255px;top:151px;width:31px;height:13px;font-size:10px;justify-content:center;padding-bottom:0px">0,27</div>
<div class="c" style="left:1191px;top:164px;width:31px;height:13px;font-size:10px;justify-content:center;padding-bottom:0px">0,50</div>
<div class="c" style="left:1223px;top:164px;width:31px;height:13px;font-size:10px;justify-content:center;padding-bottom:0px">2,92</div>
<div class="c" style="left:1255px;top:164px;width:31px;height:13px;font-size:10px;justify-content:center;padding-bottom:0px">1,07</div>
<div class="c" style="left:1191px;top:177px;width:31px;height:13px;font-size:10px;justify-content:center;padding-bottom:0px">0,10</div>
<div class="c" style="left:1223px;top:177px;width:31px;height:13px;font-size:10px;justify-content:center;padding-bottom:0px">0,27</div>
<div class="c" style="left:1255px;top:177px;width:31px;height:13px;font-size:10px;justify-content:center;padding-bottom:0px">0,27</div>
<div class="c" style="left:1191px;top:190px;width:31px;height:13px;font-size:10px;justify-content:center;padding-bottom:0px">0,16</div>
<div class="c" style="left:1223px;top:190px;width:31px;height:13px;font-size:10px;justify-content:center;padding-bottom:0px">0,66</div>
<div class="c" style="left:1255px;top:190px;width:31px;height:13px;font-size:10px;justify-content:center;padding-bottom:0px">0,37</div>
<div class="c" style="left:1191px;top:203px;width:31px;height:13px;font-size:10px;justify-content:center;padding-bottom:0px">0,17</div>
<div class="c" style="left:1223px;top:203px;width:31px;height:13px;font-size:10px;justify-content:center;padding-bottom:0px">0,82</div>
<div class="c" style="left:1255px;top:203px;width:31px;height:13px;font-size:10px;justify-content:center;padding-bottom:0px">0,35</div>
<div class="c" style="left:1191px;top:216px;width:31px;height:13px;font-size:10px;justify-content:center;padding-bottom:0px">0,45</div>
<div class="c" style="left:1223px;top:216px;width:31px;height:13px;font-size:10px;justify-content:center;padding-bottom:0px">1,25</div>
<div class="c" style="left:1255px;top:216px;width:31px;height:13px;font-size:10px;justify-content:center;padding-bottom:0px">0,83</div>
<div class="c" style="left:1191px;top:229px;width:31px;height:13px;font-size:10px;justify-content:center;padding-bottom:0px">0,26</div>
<div class="c" style="left:1223px;top:229px;width:31px;height:13px;font-size:10px;justify-content:center;padding-bottom:0px">1,78</div>
<div class="c" style="left:1255px;top:229px;width:31px;height:13px;font-size:10px;justify-content:center;padding-bottom:0px">0,58</div>
<div class="c" style="left:1191px;top:242px;width:31px;height:13px;font-size:10px;justify-content:center;padding-bottom:0px">0,09</div>
<div class="c" style="left:1223px;top:242px;width:31px;height:13px;font-size:10px;justify-content:center;padding-bottom:0px">0,48</div>
<div class="c" style="left:1255px;top:242px;width:31px;height:13px;font-size:10px;justify-content:center;padding-bottom:0px">0,19</div>
<div class="c" style="left:1191px;top:255px;width:31px;height:13px;font-size:10px;justify-content:center;padding-bottom:0px">0,16</div>
<div class="c" style="left:1223px;top:255px;width:31px;height:13px;font-size:10px;justify-content:center;padding-bottom:0px">0,52</div>
<div class="c" style="left:1255px;top:255px;width:31px;height:13px;font-size:10px;justify-content:center;padding-bottom:0px">0,32</div>
<div class="c" style="left:1191px;top:268px;width:31px;height:13px;font-size:10px;justify-content:center;padding-bottom:0px">0,35</div>
<div class="c" style="left:1223px;top:268px;width:31px;height:13px;font-size:10px;justify-content:center;padding-bottom:0px">4,09</div>
<div class="c" style="left:1255px;top:268px;width:31px;height:13px;font-size:10px;justify-content:center;padding-bottom:0px">0,71</div>
<div class="c" style="left:1191px;top:281px;width:31px;height:13px;font-size:10px;justify-content:center;padding-bottom:0px">0,07</div>
<div class="c" style="left:1223px;top:281px;width:31px;height:13px;font-size:10px;justify-content:center;padding-bottom:0px">0,27</div>
<div class="c" style="left:1255px;top:281px;width:31px;height:13px;font-size:10px;justify-content:center;padding-bottom:0px">0,17</div>
<div class="c" style="left:1191px;top:294px;width:31px;height:13px;font-size:10px;justify-content:center;padding-bottom:0px">0,12</div>
<div class="c" style="left:1223px;top:294px;width:31px;height:13px;font-size:10px;justify-content:center;padding-bottom:0px">0,48</div>
<div class="c" style="left:1255px;top:294px;width:31px;height:13px;font-size:10px;justify-content:center;padding-bottom:0px">0,32</div>
<div class="c" style="left:1191px;top:307px;width:31px;height:13px;font-size:10px;font-weight:bold;color:#FF0000;justify-content:center;padding-bottom:0px">0,44</div>
<div class="c" style="left:1223px;top:307px;width:31px;height:13px;font-size:10px;font-weight:bold;color:#FF0000;justify-content:center;padding-bottom:0px">2,10</div>
<div class="c" style="left:1255px;top:307px;width:31px;height:13px;font-size:10px;font-weight:bold;color:#FF0000;justify-content:center;padding-bottom:0px">0,87</div>
<div class="c" style="left:1191px;top:320px;width:31px;height:15px;font-size:10px;justify-content:center;padding-bottom:0px">0,07</div>
<div class="c" style="left:1223px;top:320px;width:31px;height:15px;font-size:10px;justify-content:center;padding-bottom:0px">0,40</div>
<div class="c" style="left:1255px;top:320px;width:31px;height:15px;font-size:10px;justify-content:center;padding-bottom:0px">0,17</div>
<div class="c" style="left:1191px;top:335px;width:31px;height:12px;font-size:10px;justify-content:center;padding-bottom:0px">0,29</div>
<div class="c" style="left:1223px;top:335px;width:31px;height:12px;font-size:10px;justify-content:center;padding-bottom:0px">0,71</div>
<div class="c" style="left:1255px;top:335px;width:31px;height:12px;font-size:10px;justify-content:center;padding-bottom:0px">0,57</div>
<div class="c" style="left:1191px;top:347px;width:31px;height:12px;font-size:10px;justify-content:center;padding-bottom:0px">0,24</div>
<div class="c" style="left:1223px;top:347px;width:31px;height:12px;font-size:10px;justify-content:center;padding-bottom:0px">0,81</div>
<div class="c" style="left:1255px;top:347px;width:31px;height:12px;font-size:10px;justify-content:center;padding-bottom:0px">0,49</div>
<div class="c" style="left:1191px;top:359px;width:31px;height:12px;font-size:10px;justify-content:center;padding-bottom:0px">0,13</div>
<div class="c" style="left:1223px;top:359px;width:31px;height:12px;font-size:10px;justify-content:center;padding-bottom:0px">0,42</div>
<div class="c" style="left:1255px;top:359px;width:31px;height:12px;font-size:10px;justify-content:center;padding-bottom:0px">0,25</div>
<div class="c" style="left:1191px;top:371px;width:31px;height:12px;font-size:10px;justify-content:center;padding-bottom:0px">0,42</div>
<div class="c" style="left:1223px;top:371px;width:31px;height:12px;font-size:10px;justify-content:center;padding-bottom:0px">1,29</div>
<div class="c" style="left:1255px;top:371px;width:31px;height:12px;font-size:10px;justify-content:center;padding-bottom:0px">0,74</div>
<div class="c" style="left:20px;top:503px;width:141px;height:13px;font-size:9.5px;font-family:'Liberation Sans',sans-serif;justify-content:center;padding-bottom:2px">-1,55%</div>
<div class="c" style="left:162px;top:467px;width:52px;height:12px;font-size:8.5px;font-weight:bold;justify-content:flex-start;padding-left:2px;padding-bottom:2px">Min</div>
<div class="c" style="left:162px;top:479px;width:52px;height:12px;font-size:8.5px;font-weight:bold;justify-content:flex-start;padding-left:2px;padding-bottom:2px">Max</div>
<div class="c" style="left:162px;top:491px;width:52px;height:12px;font-size:8.5px;font-weight:bold;justify-content:flex-start;padding-left:2px;padding-bottom:2px">MX</div>
<div class="c" style="left:162px;top:503px;width:24px;height:13px;font-size:8.5px;font-weight:bold;justify-content:flex-start;padding-left:2px;padding-bottom:2px">Y=<i>f</i>(X</div>
<div class="c" style="left:187px;top:503px;width:27px;height:13px;font-size:8.5px;justify-content:flex-end;padding-right:2px;padding-bottom:2px">1</div>
<div class="c" style="left:162px;top:516px;width:52px;height:13px;font-size:8.3px;font-weight:bold;color:#FF0000;justify-content:flex-start;padding-left:1px;padding-bottom:2px">Риск Фактор</div>
<div class="c" style="left:162px;top:529px;width:52px;height:14px;font-size:8.3px;font-weight:bold;color:#FF0000;justify-content:flex-start;padding-left:1px;padding-bottom:4px">Ущерб (ООО-</div>
<div class="c" style="left:162px;top:543px;width:52px;height:12px;font-size:8.3px;font-weight:bold;color:#FF0000;justify-content:flex-start;padding-left:1px;padding-bottom:2px">Ущерб (ООО-</div>
<div class="c" style="left:162px;top:555px;width:52px;height:12px;font-size:8.3px;font-weight:bold;color:#FF0000;justify-content:flex-start;padding-left:1px;padding-bottom:1px">Доля фактора</div>
<div class="c" style="left:215px;top:467px;width:33px;height:12px;font-size:8px;justify-content:center;padding-bottom:2px">50,7%</div>
<div class="c" style="left:215px;top:479px;width:33px;height:12px;font-size:8px;justify-content:center;padding-bottom:2px">82,5%</div>
<div class="c" style="left:215px;top:491px;width:33px;height:12px;font-size:8px;justify-content:center;padding-bottom:2px">67,8%</div>
<div class="c" style="left:215px;top:503px;width:33px;height:13px;font-size:8px;justify-content:center;padding-bottom:2px">0,667</div>
<div class="c" style="left:215px;top:516px;width:33px;height:13px;font-size:8px;font-weight:bold;color:#FF0000;justify-content:center;padding-bottom:1.5px">0</div>
<div class="c" style="left:215px;top:529px;width:33px;height:14px;font-size:8.5px;font-weight:bold;color:#FF0000;justify-content:center;padding-bottom:4px">0,0</div>
<div class="c" style="left:215px;top:543px;width:33px;height:12px;font-size:8px;font-weight:bold;color:#0000FF;justify-content:center;padding-bottom:1px">8,1</div>
<div class="c" style="left:215px;top:555px;width:33px;height:12px;font-size:7px;font-weight:bold;justify-content:center;padding-bottom:3px">52,1%</div>
<div class="c" style="left:249px;top:467px;width:33px;height:12px;font-size:8px;justify-content:center;padding-bottom:2px">11,3%</div>
<div class="c" style="left:249px;top:479px;width:33px;height:12px;font-size:8px;justify-content:center;padding-bottom:2px">16,8%</div>
<div class="c" style="left:249px;top:491px;width:33px;height:12px;font-size:8px;justify-content:center;padding-bottom:2px">14,0%</div>
<div class="c" style="left:249px;top:503px;width:33px;height:13px;font-size:8px;justify-content:center;padding-bottom:2px">0,136</div>
<div class="c" style="left:249px;top:516px;width:33px;height:13px;font-size:8px;font-weight:bold;color:#FF0000;justify-content:center;padding-bottom:1.5px">1</div>
<div class="c" style="left:249px;top:529px;width:33px;height:14px;font-size:8.5px;font-weight:bold;color:#FF0000;justify-content:center;padding-bottom:4px">12</div>
<div class="c" style="left:249px;top:543px;width:33px;height:12px;font-size:8px;font-weight:bold;color:#0000FF;justify-content:center;padding-bottom:1px">25,0</div>
<div class="c" style="left:249px;top:555px;width:33px;height:12px;font-size:7px;font-weight:bold;justify-content:center;padding-bottom:3px">15,7%</div>
<div class="c" style="left:283px;top:467px;width:33px;height:12px;font-size:8px;justify-content:center;padding-bottom:2px">5,1%</div>
<div class="c" style="left:283px;top:479px;width:33px;height:12px;font-size:8px;justify-content:center;padding-bottom:2px">36,4%</div>
<div class="c" style="left:283px;top:491px;width:33px;height:12px;font-size:8px;justify-content:center;padding-bottom:2px">18,2%</div>
<div class="c" style="left:283px;top:503px;width:33px;height:13px;font-size:8px;justify-content:center;padding-bottom:2px">0,197</div>
<div class="c" style="left:283px;top:516px;width:33px;height:13px;font-size:8px;font-weight:bold;color:#FF0000;justify-content:center;padding-bottom:1.5px">0</div>
<div class="c" style="left:283px;top:529px;width:33px;height:14px;font-size:8.5px;font-weight:bold;color:#FF0000;justify-content:center;padding-bottom:4px">12</div>
<div class="c" style="left:283px;top:543px;width:33px;height:12px;font-size:8px;font-weight:bold;color:#0000FF;justify-content:center;padding-bottom:1px">33,0</div>
<div class="c" style="left:283px;top:555px;width:33px;height:12px;font-size:7px;font-weight:bold;justify-content:center;padding-bottom:3px">32,2%</div>
<div class="c" style="left:317px;top:467px;width:33px;height:12px;font-size:8px;justify-content:center;padding-bottom:2px">4,1%</div>
<div class="c" style="left:317px;top:479px;width:33px;height:12px;font-size:8px;justify-content:center;padding-bottom:2px">29,1%</div>
<div class="c" style="left:317px;top:491px;width:33px;height:12px;font-size:8px;justify-content:center;padding-bottom:2px">14,6%</div>
<div class="c" style="left:317px;top:503px;width:33px;height:13px;font-size:8px;justify-content:center;padding-bottom:2px">0,157</div>
<div class="c" style="left:317px;top:516px;width:33px;height:13px;font-size:8px;font-weight:bold;color:#FF0000;justify-content:center;padding-bottom:1.5px">0</div>
<div class="c" style="left:317px;top:529px;width:33px;height:14px;font-size:8.5px;font-weight:bold;color:#FF0000;justify-content:center;padding-bottom:4px">9</div>
<div class="c" style="left:317px;top:543px;width:33px;height:12px;font-size:8px;font-weight:bold;color:#0000FF;justify-content:center;padding-bottom:1px">26,4</div>
<div class="c" style="left:317px;top:555px;width:33px;height:12px;font-size:7px;font-weight:bold;justify-content:center;padding-bottom:3px">25,8%</div>
<div class="c" style="left:351px;top:467px;width:33px;height:12px;font-size:8px;justify-content:center;padding-bottom:2px">4%</div>
<div class="c" style="left:351px;top:479px;width:33px;height:12px;font-size:8px;justify-content:center;padding-bottom:2px">6%</div>
<div class="c" style="left:351px;top:491px;width:33px;height:12px;font-size:8px;justify-content:center;padding-bottom:2px">5,0%</div>
<div class="c" style="left:351px;top:503px;width:33px;height:13px;font-size:8px;justify-content:center;padding-bottom:2px">0,052</div>
<div class="c" style="left:351px;top:516px;width:33px;height:13px;font-size:8px;font-weight:bold;color:#FF0000;justify-content:center;padding-bottom:1.5px">1</div>
<div class="c" style="left:351px;top:529px;width:33px;height:14px;font-size:8.5px;font-weight:bold;color:#FF0000;justify-content:center;padding-bottom:4px">1,2</div>
<div class="c" style="left:351px;top:543px;width:33px;height:12px;font-size:8px;font-weight:bold;color:#0000FF;justify-content:center;padding-bottom:1px">10,3</div>
<div class="c" style="left:351px;top:555px;width:33px;height:12px;font-size:7px;font-weight:bold;justify-content:center;padding-bottom:3px">5,4%</div>
<div class="c" style="left:385px;top:467px;width:33px;height:12px;font-size:8px;justify-content:center;padding-bottom:2px">12%</div>
<div class="c" style="left:385px;top:479px;width:33px;height:12px;font-size:8px;justify-content:center;padding-bottom:2px">22%</div>
<div class="c" style="left:385px;top:491px;width:33px;height:12px;font-size:8px;justify-content:center;padding-bottom:2px">16,3%</div>
<div class="c" style="left:385px;top:503px;width:33px;height:13px;font-size:8px;justify-content:center;padding-bottom:2px">0,166</div>
<div class="c" style="left:385px;top:516px;width:33px;height:13px;font-size:8px;font-weight:bold;color:#FF0000;justify-content:center;padding-bottom:1.5px">0</div>
<div class="c" style="left:385px;top:529px;width:33px;height:14px;font-size:8.5px;font-weight:bold;color:#FF0000;justify-content:center;padding-bottom:4px">0,0</div>
<div class="c" style="left:385px;top:543px;width:33px;height:12px;font-size:8px;font-weight:bold;color:#0000FF;justify-content:center;padding-bottom:1px">8,8</div>
<div class="c" style="left:385px;top:555px;width:33px;height:12px;font-size:7px;font-weight:bold;justify-content:center;padding-bottom:3px">13,1%</div>
<div class="c" style="left:419px;top:467px;width:33px;height:12px;font-size:8px;justify-content:center;padding-bottom:2px">7%</div>
<div class="c" style="left:419px;top:479px;width:33px;height:12px;font-size:8px;justify-content:center;padding-bottom:2px">13%</div>
<div class="c" style="left:419px;top:491px;width:33px;height:12px;font-size:8px;justify-content:center;padding-bottom:2px">9,3%</div>
<div class="c" style="left:419px;top:503px;width:33px;height:13px;font-size:8px;justify-content:center;padding-bottom:2px">0,094</div>
<div class="c" style="left:419px;top:516px;width:33px;height:13px;font-size:8px;font-weight:bold;color:#FF0000;justify-content:center;padding-bottom:1.5px">1</div>
<div class="c" style="left:419px;top:529px;width:33px;height:14px;font-size:8.5px;font-weight:bold;color:#FF0000;justify-content:center;padding-bottom:4px">4,6</div>
<div class="c" style="left:419px;top:543px;width:33px;height:12px;font-size:8px;font-weight:bold;color:#0000FF;justify-content:center;padding-bottom:1px">21,1</div>
<div class="c" style="left:419px;top:555px;width:33px;height:12px;font-size:7px;font-weight:bold;justify-content:center;padding-bottom:3px">10,2%</div>
<div class="c" style="left:453px;top:467px;width:33px;height:12px;font-size:8px;justify-content:center;padding-bottom:2px">26%</div>
<div class="c" style="left:453px;top:479px;width:33px;height:12px;font-size:8px;justify-content:center;padding-bottom:2px">38%</div>
<div class="c" style="left:453px;top:491px;width:33px;height:12px;font-size:8px;justify-content:center;padding-bottom:2px">30,6%</div>
<div class="c" style="left:453px;top:503px;width:33px;height:13px;font-size:8px;justify-content:center;padding-bottom:2px">0,312</div>
<div class="c" style="left:453px;top:516px;width:33px;height:13px;font-size:8px;font-weight:bold;color:#FF0000;justify-content:center;padding-bottom:1.5px">0</div>
<div class="c" style="left:453px;top:529px;width:33px;height:14px;font-size:8.5px;font-weight:bold;color:#FF0000;justify-content:center;padding-bottom:4px">5,8</div>
<div class="c" style="left:453px;top:543px;width:33px;height:12px;font-size:8px;font-weight:bold;color:#0000FF;justify-content:center;padding-bottom:1px">40,3</div>
<div class="c" style="left:453px;top:555px;width:33px;height:12px;font-size:7px;font-weight:bold;justify-content:center;padding-bottom:3px">28,7%</div>
<div class="c" style="left:487px;top:467px;width:35px;height:12px;font-size:8px;justify-content:center;padding-bottom:2px">22%</div>
<div class="c" style="left:487px;top:479px;width:35px;height:12px;font-size:8px;justify-content:center;padding-bottom:2px">38%</div>
<div class="c" style="left:487px;top:491px;width:35px;height:12px;font-size:8px;justify-content:center;padding-bottom:2px">29,0%</div>
<div class="c" style="left:487px;top:503px;width:35px;height:13px;font-size:8px;justify-content:center;padding-bottom:2px">0,295</div>
<div class="c" style="left:487px;top:516px;width:35px;height:13px;font-size:8px;font-weight:bold;color:#FF0000;justify-content:center;padding-bottom:1.5px">1</div>
<div class="c" style="left:487px;top:529px;width:35px;height:14px;font-size:8.5px;font-weight:bold;color:#FF0000;justify-content:center;padding-bottom:4px">1</div>
<div class="c" style="left:487px;top:543px;width:35px;height:12px;font-size:8px;font-weight:bold;color:#0000FF;justify-content:center;padding-bottom:1px">46</div>
<div class="c" style="left:487px;top:555px;width:35px;height:12px;font-size:7px;font-weight:bold;justify-content:center;padding-bottom:3px">29,7%</div>
<div class="c" style="left:523px;top:467px;width:35px;height:12px;font-size:8px;justify-content:center;padding-bottom:2px">49%</div>
<div class="c" style="left:523px;top:479px;width:35px;height:12px;font-size:8px;justify-content:center;padding-bottom:2px">71%</div>
<div class="c" style="left:523px;top:491px;width:35px;height:12px;font-size:8px;justify-content:center;padding-bottom:2px">59,6%</div>
<div class="c" style="left:523px;top:503px;width:35px;height:13px;font-size:8px;justify-content:center;padding-bottom:2px">0,607</div>
<div class="c" style="left:523px;top:516px;width:35px;height:13px;font-size:8px;font-weight:bold;color:#FF0000;justify-content:center;padding-bottom:1.5px">0</div>
<div class="c" style="left:523px;top:529px;width:35px;height:14px;font-size:8.5px;font-weight:bold;color:#FF0000;justify-content:center;padding-bottom:4px">7</div>
<div class="c" style="left:523px;top:543px;width:35px;height:12px;font-size:8px;font-weight:bold;color:#0000FF;justify-content:center;padding-bottom:1px">86,5</div>
<div class="c" style="left:523px;top:555px;width:35px;height:12px;font-size:7px;font-weight:bold;justify-content:center;padding-bottom:3px">58,4%</div>
<div class="c" style="left:559px;top:467px;width:33px;height:12px;font-size:8px;justify-content:center;padding-bottom:2px">16%</div>
<div class="c" style="left:559px;top:479px;width:33px;height:12px;font-size:8px;justify-content:center;padding-bottom:2px">26%</div>
<div class="c" style="left:559px;top:491px;width:33px;height:12px;font-size:8px;justify-content:center;padding-bottom:2px">21,4%</div>
<div class="c" style="left:559px;top:503px;width:33px;height:13px;font-size:8px;justify-content:center;padding-bottom:2px">0,215</div>
<div class="c" style="left:559px;top:516px;width:33px;height:13px;font-size:8px;font-weight:bold;color:#FF0000;justify-content:center;padding-bottom:1.5px">1</div>
<div class="c" style="left:559px;top:529px;width:33px;height:14px;font-size:8.5px;font-weight:bold;color:#FF0000;justify-content:center;padding-bottom:4px">10</div>
<div class="c" style="left:559px;top:543px;width:33px;height:12px;font-size:8px;font-weight:bold;color:#0000FF;justify-content:center;padding-bottom:1px">41</div>
<div class="c" style="left:559px;top:555px;width:33px;height:12px;font-size:7px;font-weight:bold;justify-content:center;padding-bottom:3px">23,3%</div>
<div class="c" style="left:593px;top:467px;width:33px;height:12px;font-size:8px;justify-content:center;padding-bottom:2px">10%</div>
<div class="c" style="left:593px;top:479px;width:33px;height:12px;font-size:8px;justify-content:center;padding-bottom:2px">14%</div>
<div class="c" style="left:593px;top:491px;width:33px;height:12px;font-size:8px;justify-content:center;padding-bottom:2px">11,8%</div>
<div class="c" style="left:593px;top:503px;width:33px;height:13px;font-size:8px;justify-content:center;padding-bottom:2px">0,117</div>
<div class="c" style="left:593px;top:516px;width:33px;height:13px;font-size:8px;font-weight:bold;color:#FF0000;justify-content:center;padding-bottom:1.5px">1</div>
<div class="c" style="left:593px;top:529px;width:33px;height:14px;font-size:8.5px;font-weight:bold;color:#FF0000;justify-content:center;padding-bottom:4px">9</div>
<div class="c" style="left:593px;top:543px;width:33px;height:12px;font-size:8px;font-weight:bold;color:#0000FF;justify-content:center;padding-bottom:1px">20</div>
<div class="c" style="left:593px;top:555px;width:33px;height:12px;font-size:7px;font-weight:bold;justify-content:center;padding-bottom:3px">13,2%</div>
<div class="c" style="left:627px;top:467px;width:33px;height:12px;font-size:8px;justify-content:center;padding-bottom:2px">26%</div>
<div class="c" style="left:627px;top:479px;width:33px;height:12px;font-size:8px;justify-content:center;padding-bottom:2px">39%</div>
<div class="c" style="left:627px;top:491px;width:33px;height:12px;font-size:8px;justify-content:center;padding-bottom:2px">33,2%</div>
<div class="c" style="left:627px;top:503px;width:33px;height:13px;font-size:8px;justify-content:center;padding-bottom:2px">0,332</div>
<div class="c" style="left:627px;top:516px;width:33px;height:13px;font-size:8px;font-weight:bold;color:#FF0000;justify-content:center;padding-bottom:1.5px">1</div>
<div class="c" style="left:627px;top:529px;width:33px;height:14px;font-size:8.5px;font-weight:bold;color:#FF0000;justify-content:center;padding-bottom:4px">19</div>
<div class="c" style="left:627px;top:543px;width:33px;height:12px;font-size:8px;font-weight:bold;color:#0000FF;justify-content:center;padding-bottom:1px">61,1</div>
<div class="c" style="left:627px;top:555px;width:33px;height:12px;font-size:7px;font-weight:bold;justify-content:center;padding-bottom:3px">36,6%</div>
<div class="c" style="left:661px;top:467px;width:33px;height:12px;font-size:8px;justify-content:center;padding-bottom:2px">7%</div>
<div class="c" style="left:661px;top:479px;width:33px;height:12px;font-size:8px;justify-content:center;padding-bottom:2px">13%</div>
<div class="c" style="left:661px;top:491px;width:33px;height:12px;font-size:8px;justify-content:center;padding-bottom:2px">9,9%</div>
<div class="c" style="left:661px;top:503px;width:33px;height:13px;font-size:8px;justify-content:center;padding-bottom:2px">0,101</div>
<div class="c" style="left:661px;top:516px;width:33px;height:13px;font-size:8px;font-weight:bold;color:#FF0000;justify-content:center;padding-bottom:1.5px">0</div>
<div class="c" style="left:661px;top:529px;width:33px;height:14px;font-size:8.5px;font-weight:bold;color:#FF0000;justify-content:center;padding-bottom:4px">0</div>
<div class="c" style="left:661px;top:543px;width:33px;height:12px;font-size:8px;font-weight:bold;color:#0000FF;justify-content:center;padding-bottom:1px">14</div>
<div class="c" style="left:661px;top:555px;width:33px;height:12px;font-size:7px;font-weight:bold;justify-content:center;padding-bottom:3px">9,6%</div>
<div class="c" style="left:695px;top:467px;width:37px;height:12px;font-size:8px;justify-content:center;padding-bottom:2px">4%</div>
<div class="c" style="left:695px;top:479px;width:37px;height:12px;font-size:8px;justify-content:center;padding-bottom:2px">29%</div>
<div class="c" style="left:695px;top:491px;width:37px;height:12px;font-size:8px;justify-content:center;padding-bottom:2px">16,4%</div>
<div class="c" style="left:695px;top:503px;width:37px;height:13px;font-size:8px;justify-content:center;padding-bottom:2px">0,173</div>
<div class="c" style="left:695px;top:516px;width:37px;height:13px;font-size:8px;font-weight:bold;color:#FF0000;justify-content:center;padding-bottom:1.5px">1</div>
<div class="c" style="left:695px;top:529px;width:37px;height:14px;font-size:8.5px;font-weight:bold;color:#FF0000;justify-content:center;padding-bottom:4px">29</div>
<div class="c" style="left:695px;top:543px;width:37px;height:12px;font-size:8px;font-weight:bold;color:#0000FF;justify-content:center;padding-bottom:1px">98</div>
<div class="c" style="left:695px;top:555px;width:37px;height:12px;font-size:7px;font-weight:bold;justify-content:center;padding-bottom:3px">12,2%</div>
<div class="c" style="left:733px;top:503px;width:35px;height:13px;font-size:8.5px;font-weight:bold;justify-content:center;padding-bottom:2px">Итого</div>
<div class="c" style="left:733px;top:516px;width:35px;height:13px;font-size:8.5px;font-weight:bold;color:#FF0000;justify-content:center;padding-bottom:2px">8</div>
<div class="c" style="left:733px;top:529px;width:35px;height:14px;font-size:8.5px;color:#FF0000;justify-content:center;padding-bottom:2px">13</div>
<div class="c" style="left:733px;top:543px;width:35px;height:12px;font-size:8.5px;color:#0000FF;justify-content:center;padding-bottom:2px">43</div>
<div class="c" style="left:769px;top:467px;width:37px;height:12px;font-size:8.5px;font-weight:bold;justify-content:flex-start;padding-left:2px;padding-bottom:2px">Min</div>
<div class="c" style="left:769px;top:479px;width:37px;height:12px;font-size:8.5px;font-weight:bold;justify-content:flex-start;padding-left:2px;padding-bottom:2px">Max</div>
<div class="c" style="left:769px;top:491px;width:37px;height:12px;font-size:8.5px;font-weight:bold;justify-content:flex-start;padding-left:2px;padding-bottom:2px">MX</div>
<div class="c" style="left:769px;top:503px;width:37px;height:13px;font-size:8.5px;font-weight:bold;justify-content:flex-start;padding-left:2px;padding-bottom:2px">Y=<i>f</i>(X)</div>
<div class="c" style="left:769px;top:516px;width:37px;height:13px;font-size:8.5px;font-weight:bold;justify-content:flex-start;padding-left:2px;padding-bottom:2px">Риски</div>
<div class="c" style="left:769px;top:529px;width:37px;height:14px;font-size:8px;color:#FF0000;font-family:'Liberation Sans',sans-serif;justify-content:flex-start;padding-left:1px;padding-bottom:4px">ООО</div>
<div class="c" style="left:769px;top:543px;width:37px;height:12px;font-size:8.5px;font-weight:bold;color:#0000FF;justify-content:flex-start;padding-left:2px;padding-bottom:2px">Правило</div>
<div class="c" style="left:807px;top:467px;width:31px;height:12px;font-size:10px;justify-content:center;padding-bottom:0.5px">0,717</div>
<div class="c" style="left:807px;top:479px;width:31px;height:12px;font-size:10px;justify-content:center;padding-bottom:0.5px">1,351</div>
<div class="c" style="left:807px;top:491px;width:31px;height:12px;font-size:10px;color:#FF0000;justify-content:center;padding-bottom:0.5px">0,927</div>
<div class="c" style="left:807px;top:503px;width:31px;height:13px;font-size:10px;font-weight:bold;justify-content:center;padding-bottom:1px">0,938</div>
<div class="c" style="left:807px;top:516px;width:31px;height:13px;font-size:10px;font-weight:bold;color:#FF0000;justify-content:center;padding-bottom:1px">1</div>
<div class="c" style="left:807px;top:529px;width:31px;height:14px;font-size:10px;color:#FF0000;justify-content:center;padding-bottom:2px">0,786</div>
<div class="c" style="left:807px;top:543px;width:31px;height:12px;font-size:10px;color:#FF0000;justify-content:center;padding-bottom:0.5px">0</div>
<div class="c" style="left:839px;top:467px;width:31px;height:12px;font-size:10px;justify-content:center;padding-bottom:0.5px">0,307</div>
<div class="c" style="left:839px;top:479px;width:31px;height:12px;font-size:10px;justify-content:center;padding-bottom:0.5px">0,610</div>
<div class="c" style="left:839px;top:491px;width:31px;height:12px;font-size:10px;justify-content:center;padding-bottom:0.5px">0,434</div>
<div class="c" style="left:839px;top:503px;width:31px;height:13px;font-size:10px;font-weight:bold;justify-content:center;padding-bottom:1px">0,439</div>
<div class="c" style="left:839px;top:516px;width:31px;height:13px;font-size:10px;font-weight:bold;color:#FF0000;justify-content:center;padding-bottom:1px">1</div>
<div class="c" style="left:839px;top:529px;width:31px;height:14px;font-size:10px;color:#FF0000;justify-content:center;padding-bottom:2px">0,426</div>
<div class="c" style="left:839px;top:543px;width:31px;height:12px;font-size:10px;color:#FF0000;justify-content:center;padding-bottom:0.5px">0</div>
<div class="c" style="left:871px;top:467px;width:31px;height:12px;font-size:10px;justify-content:center;padding-bottom:0.5px">0,109</div>
<div class="c" style="left:871px;top:479px;width:31px;height:12px;font-size:10px;justify-content:center;padding-bottom:0.5px">0,194</div>
<div class="c" style="left:871px;top:491px;width:31px;height:12px;font-size:10px;justify-content:center;padding-bottom:0.5px">0,153</div>
<div class="c" style="left:871px;top:503px;width:31px;height:13px;font-size:10px;font-weight:bold;justify-content:center;padding-bottom:1px">0,156</div>
<div class="c" style="left:871px;top:516px;width:31px;height:13px;font-size:10px;font-weight:bold;color:#FF0000;justify-content:center;padding-bottom:1px">1</div>
<div class="c" style="left:871px;top:529px;width:31px;height:14px;font-size:10px;color:#FF0000;justify-content:center;padding-bottom:2px">0,147</div>
<div class="c" style="left:871px;top:543px;width:31px;height:12px;font-size:10px;color:#FF0000;justify-content:center;padding-bottom:0.5px">0</div>
<div class="c" style="left:903px;top:467px;width:31px;height:12px;font-size:10px;justify-content:center;padding-bottom:0.5px">7,691</div>
<div class="c" style="left:903px;top:479px;width:31px;height:12px;font-size:10px;justify-content:center;padding-bottom:0.5px">15,381</div>
<div class="c" style="left:903px;top:491px;width:31px;height:12px;font-size:10px;justify-content:center;padding-bottom:0.5px">11,235</div>
<div class="c" style="left:903px;top:503px;width:31px;height:13px;font-size:10px;font-weight:bold;justify-content:center;padding-bottom:1px">10,64</div>
<div class="c" style="left:903px;top:516px;width:31px;height:13px;font-size:10px;font-weight:bold;color:#FF0000;justify-content:center;padding-bottom:1px">1</div>
<div class="c" style="left:903px;top:529px;width:31px;height:14px;font-size:10px;color:#FF0000;justify-content:center;padding-bottom:2px">9,79</div>
<div class="c" style="left:903px;top:543px;width:31px;height:12px;font-size:10px;color:#FF0000;justify-content:center;padding-bottom:0.5px">0</div>
<div class="c" style="left:935px;top:467px;width:31px;height:12px;font-size:10px;justify-content:center;padding-bottom:0.5px">41,8</div>
<div class="c" style="left:935px;top:479px;width:31px;height:12px;font-size:10px;justify-content:center;padding-bottom:0.5px">80,6</div>
<div class="c" style="left:935px;top:491px;width:31px;height:12px;font-size:10px;justify-content:center;padding-bottom:0.5px">58,6</div>
<div class="c" style="left:935px;top:503px;width:31px;height:13px;font-size:10px;font-weight:bold;justify-content:center;padding-bottom:1px">59,7</div>
<div class="c" style="left:935px;top:516px;width:31px;height:13px;font-size:10px;font-weight:bold;color:#FF0000;justify-content:center;padding-bottom:1px">0</div>
<div class="c" style="left:935px;top:529px;width:31px;height:14px;font-size:10px;color:#FF0000;justify-content:center;padding-bottom:2px">47,3</div>
<div class="c" style="left:935px;top:543px;width:31px;height:12px;font-size:10px;color:#0000FF;justify-content:center;padding-bottom:0.5px">1</div>
<div class="c" style="left:967px;top:467px;width:31px;height:12px;font-size:10px;justify-content:center;padding-bottom:0.5px">2,612</div>
<div class="c" style="left:967px;top:479px;width:31px;height:12px;font-size:10px;justify-content:center;padding-bottom:0.5px">4,639</div>
<div class="c" style="left:967px;top:491px;width:31px;height:12px;font-size:10px;justify-content:center;padding-bottom:0.5px">3,549</div>
<div class="c" style="left:967px;top:503px;width:31px;height:13px;font-size:10px;font-weight:bold;justify-content:center;padding-bottom:1px">3,39</div>
<div class="c" style="left:967px;top:516px;width:31px;height:13px;font-size:10px;font-weight:bold;color:#FF0000;justify-content:center;padding-bottom:1px">1</div>
<div class="c" style="left:967px;top:529px;width:31px;height:14px;font-size:10px;color:#FF0000;justify-content:center;padding-bottom:2px">3,37</div>
<div class="c" style="left:967px;top:543px;width:31px;height:12px;font-size:10px;color:#FF0000;justify-content:center;padding-bottom:0.5px">0</div>
<div class="c" style="left:999px;top:467px;width:31px;height:12px;font-size:10px;justify-content:center;padding-bottom:0.5px">1,411</div>
<div class="c" style="left:999px;top:479px;width:31px;height:12px;font-size:10px;justify-content:center;padding-bottom:0.5px">2,041</div>
<div class="c" style="left:999px;top:491px;width:31px;height:12px;font-size:10px;justify-content:center;padding-bottom:0.5px">1,693</div>
<div class="c" style="left:999px;top:503px;width:31px;height:13px;font-size:10px;font-weight:bold;justify-content:center;padding-bottom:1px">1,65</div>
<div class="c" style="left:999px;top:516px;width:31px;height:13px;font-size:10px;font-weight:bold;color:#FF0000;justify-content:center;padding-bottom:1px">0</div>
<div class="c" style="left:999px;top:529px;width:31px;height:14px;font-size:10px;color:#FF0000;justify-content:center;padding-bottom:2px">1,71</div>
<div class="c" style="left:999px;top:543px;width:31px;height:12px;font-size:10px;color:#FF0000;justify-content:center;padding-bottom:0.5px">0</div>
<div class="c" style="left:1031px;top:467px;width:31px;height:12px;font-size:10px;justify-content:center;padding-bottom:0.5px">11%</div>
<div class="c" style="left:1031px;top:479px;width:31px;height:12px;font-size:10px;justify-content:center;padding-bottom:0.5px">23%</div>
<div class="c" style="left:1031px;top:491px;width:31px;height:12px;font-size:10px;justify-content:center;padding-bottom:0.5px">17%</div>
<div class="c" style="left:1031px;top:503px;width:31px;height:13px;font-size:10px;font-weight:bold;justify-content:center;padding-bottom:1px">0,17</div>
<div class="c" style="left:1031px;top:516px;width:31px;height:13px;font-size:10px;font-weight:bold;color:#FF0000;justify-content:center;padding-bottom:1px">1</div>
<div class="c" style="left:1031px;top:529px;width:31px;height:14px;font-size:10px;justify-content:center;padding-bottom:2px">16%</div>
<div class="c" style="left:1031px;top:543px;width:31px;height:12px;font-size:10px;color:#FF0000;justify-content:center;padding-bottom:0.5px">0</div>
<div class="c" style="left:1063px;top:467px;width:31px;height:12px;font-size:10px;justify-content:center;padding-bottom:0.5px">4,1%</div>
<div class="c" style="left:1063px;top:479px;width:31px;height:12px;font-size:10px;justify-content:center;padding-bottom:0.5px">29,1%</div>
<div class="c" style="left:1063px;top:491px;width:31px;height:12px;font-size:10px;justify-content:center;padding-bottom:0.5px">14,6%</div>
<div class="c" style="left:1063px;top:503px;width:31px;height:13px;font-size:10px;font-weight:bold;justify-content:center;padding-bottom:1px">0,1573</div>
<div class="c" style="left:1063px;top:516px;width:31px;height:13px;font-size:10px;font-weight:bold;color:#FF0000;justify-content:center;padding-bottom:1px">0</div>
<div class="c" style="left:1063px;top:529px;width:31px;height:14px;font-size:10px;justify-content:center;padding-bottom:2px">25,8%</div>
<div class="c" style="left:1063px;top:543px;width:31px;height:12px;font-size:10px;color:#FF0000;justify-content:center;padding-bottom:0.5px">0</div>
<div class="c" style="left:1095px;top:467px;width:31px;height:12px;font-size:10px;justify-content:center;padding-bottom:0.5px">5,1%</div>
<div class="c" style="left:1095px;top:479px;width:31px;height:12px;font-size:10px;justify-content:center;padding-bottom:0.5px">36,4%</div>
<div class="c" style="left:1095px;top:491px;width:31px;height:12px;font-size:10px;justify-content:center;padding-bottom:0.5px">18,2%</div>
<div class="c" style="left:1095px;top:503px;width:31px;height:13px;font-size:10px;font-weight:bold;justify-content:center;padding-bottom:1px">0,197</div>
<div class="c" style="left:1095px;top:516px;width:31px;height:13px;font-size:10px;font-weight:bold;color:#FF0000;justify-content:center;padding-bottom:1px">0</div>
<div class="c" style="left:1095px;top:529px;width:31px;height:14px;font-size:10px;justify-content:center;padding-bottom:2px">32,2%</div>
<div class="c" style="left:1095px;top:543px;width:31px;height:12px;font-size:10px;color:#FF0000;justify-content:center;padding-bottom:0.5px">0</div>
<div class="c" style="left:1127px;top:467px;width:31px;height:12px;font-size:10px;justify-content:center;padding-bottom:0.5px">5,4%</div>
<div class="c" style="left:1127px;top:479px;width:31px;height:12px;font-size:10px;justify-content:center;padding-bottom:0.5px">57,3%</div>
<div class="c" style="left:1127px;top:491px;width:31px;height:12px;font-size:10px;justify-content:center;padding-bottom:0.5px">23,9%</div>
<div class="c" style="left:1127px;top:503px;width:31px;height:13px;font-size:10px;font-weight:bold;justify-content:center;padding-bottom:1px">0,245</div>
<div class="c" style="left:1127px;top:516px;width:31px;height:13px;font-size:10px;font-weight:bold;color:#FF0000;justify-content:center;padding-bottom:1px">0</div>
<div class="c" style="left:1127px;top:529px;width:31px;height:14px;font-size:10px;justify-content:center;padding-bottom:2px">47,5%</div>
<div class="c" style="left:1127px;top:543px;width:31px;height:12px;font-size:10px;color:#FF0000;justify-content:center;padding-bottom:0.5px">0</div>
<div class="c" style="left:1159px;top:467px;width:31px;height:12px;font-size:10px;justify-content:center;padding-bottom:0.5px">8,8%</div>
<div class="c" style="left:1159px;top:479px;width:31px;height:12px;font-size:10px;justify-content:center;padding-bottom:0.5px">62,3%</div>
<div class="c" style="left:1159px;top:491px;width:31px;height:12px;font-size:10px;justify-content:center;padding-bottom:0.5px">30,7%</div>
<div class="c" style="left:1159px;top:503px;width:31px;height:13px;font-size:10px;font-weight:bold;justify-content:center;padding-bottom:1px">0,324</div>
<div class="c" style="left:1159px;top:516px;width:31px;height:13px;font-size:10px;font-weight:bold;color:#FF0000;justify-content:center;padding-bottom:1px">0</div>
<div class="c" style="left:1159px;top:529px;width:31px;height:14px;font-size:10px;justify-content:center;padding-bottom:2px">55,1%</div>
<div class="c" style="left:1159px;top:543px;width:31px;height:12px;font-size:10px;color:#FF0000;justify-content:center;padding-bottom:0.5px">0</div>
<div class="c" style="left:1191px;top:467px;width:31px;height:12px;font-size:10px;justify-content:center;padding-bottom:0.5px">7,0%</div>
<div class="c" style="left:1191px;top:479px;width:31px;height:12px;font-size:10px;justify-content:center;padding-bottom:0.5px">49,8%</div>
<div class="c" style="left:1191px;top:491px;width:31px;height:12px;font-size:10px;justify-content:center;padding-bottom:0.5px">24,5%</div>
<div class="c" style="left:1191px;top:503px;width:31px;height:13px;font-size:10px;font-weight:bold;justify-content:center;padding-bottom:1px">0,259</div>
<div class="c" style="left:1191px;top:516px;width:31px;height:13px;font-size:10px;font-weight:bold;color:#FF0000;justify-content:center;padding-bottom:1px">0</div>
<div class="c" style="left:1191px;top:529px;width:31px;height:14px;font-size:10px;justify-content:center;padding-bottom:2px">44,1%</div>
<div class="c" style="left:1191px;top:543px;width:31px;height:12px;font-size:10px;color:#FF0000;justify-content:center;padding-bottom:0.5px">0</div>
<div class="c" style="left:1223px;top:467px;width:31px;height:12px;font-size:10px;justify-content:center;padding-bottom:0.5px">26,8%</div>
<div class="c" style="left:1223px;top:479px;width:31px;height:12px;font-size:10px;justify-content:center;padding-bottom:0.5px">#####</div>
<div class="c" style="left:1223px;top:491px;width:31px;height:12px;font-size:10px;justify-content:center;padding-bottom:0.5px">#####</div>
<div class="c" style="left:1223px;top:503px;width:31px;height:13px;font-size:10px;font-weight:bold;justify-content:center;padding-bottom:1px">0,907</div>
<div class="c" style="left:1223px;top:516px;width:31px;height:13px;font-size:10px;font-weight:bold;color:#FF0000;justify-content:center;padding-bottom:1px">0</div>
<div class="c" style="left:1223px;top:529px;width:31px;height:14px;font-size:10px;justify-content:center;padding-bottom:2px">#####</div>
<div class="c" style="left:1223px;top:543px;width:31px;height:12px;font-size:10px;color:#FF0000;justify-content:center;padding-bottom:0.5px">0</div>
<div class="c" style="left:1255px;top:467px;width:31px;height:12px;font-size:10px;justify-content:center;padding-bottom:0.5px">16,7%</div>
<div class="c" style="left:1255px;top:479px;width:31px;height:12px;font-size:10px;justify-content:center;padding-bottom:0.5px">#####</div>
<div class="c" style="left:1255px;top:491px;width:31px;height:12px;font-size:10px;justify-content:center;padding-bottom:0.5px">50,1%</div>
<div class="c" style="left:1255px;top:503px;width:31px;height:13px;font-size:10px;font-weight:bold;justify-content:center;padding-bottom:1px">0,533</div>
<div class="c" style="left:1255px;top:516px;width:31px;height:13px;font-size:10px;font-weight:bold;color:#FF0000;justify-content:center;padding-bottom:1px">0</div>
<div class="c" style="left:1255px;top:529px;width:31px;height:14px;font-size:10px;justify-content:center;padding-bottom:2px">86,8%</div>
<div class="c" style="left:1255px;top:543px;width:31px;height:12px;font-size:10px;color:#FF0000;justify-content:center;padding-bottom:0.5px">0</div>
<div class="c" style="left:871px;top:555px;width:31px;height:12px;font-size:10px;color:#0000FF;justify-content:center;padding-bottom:0.5px">3</div>
<div class="c" style="left:999px;top:555px;width:31px;height:12px;font-size:10px;color:#0000FF;justify-content:center;padding-bottom:0.5px">2</div>
<div class="c" style="left:1031px;top:555px;width:31px;height:12px;font-size:10px;color:#0000FF;justify-content:center;padding-bottom:0.5px">1</div>
<div class="c" style="left:1255px;top:555px;width:31px;height:12px;font-size:10px;color:#0000FF;justify-content:center;padding-bottom:0.5px">0</div>
<div class="c" style="left:1287px;top:555px;width:34px;height:12px;font-size:10px;color:#0000FF;justify-content:center;padding-bottom:0.5px">6</div>
<div class="c" style="left:1287px;top:503px;width:34px;height:13px;font-size:9.5px;font-weight:bold;justify-content:center;padding-bottom:2px">Итого</div>
<div class="c" style="left:1287px;top:516px;width:34px;height:13px;font-size:11px;font-weight:bold;color:#FF0000;justify-content:center;padding-bottom:2px">6</div>
<div class="c" style="left:1287px;top:529px;width:34px;height:14px;font-size:11px;font-weight:bold;color:#0000FF;justify-content:center;padding-bottom:2px">0</div>
<div class="c" style="left:1322px;top:467px;width:34px;height:12px;font-size:8.5px;font-weight:bold;justify-content:flex-start;padding-left:2px;padding-bottom:2px">Min</div>
<div class="c" style="left:1322px;top:479px;width:34px;height:12px;font-size:8.5px;font-weight:bold;justify-content:flex-start;padding-left:2px;padding-bottom:2px">Max</div>
<div class="c" style="left:1322px;top:491px;width:34px;height:12px;font-size:8.5px;font-weight:bold;justify-content:flex-start;padding-left:2px;padding-bottom:2px">MX</div>
<div class="c" style="left:1322px;top:503px;width:34px;height:13px;font-size:8.5px;font-weight:bold;justify-content:flex-start;padding-left:2px;padding-bottom:2px">Y=<i>f</i>(X</div>
<div class="c" style="left:1322px;top:516px;width:34px;height:13px;font-size:8.5px;font-weight:bold;justify-content:flex-start;padding-left:2px;padding-bottom:2px">Риски</div>
<div class="c" style="left:1322px;top:529px;width:34px;height:14px;font-size:8px;color:#FF0000;font-family:'Liberation Sans',sans-serif;justify-content:flex-start;padding-left:1px;padding-bottom:4px">ООО</div>
<div class="c" style="left:20px;top:567px;width:141px;height:13px;font-size:8px;justify-content:center;padding-bottom:2px">10</div>
<div class="c" style="left:162px;top:567px;width:24px;height:13px;font-size:8px;justify-content:center;padding-bottom:2px">11</div>
<div class="c" style="left:187px;top:567px;width:27px;height:13px;font-size:8px;justify-content:center;padding-bottom:2px">12</div>
<div class="c" style="left:215px;top:567px;width:33px;height:13px;font-size:8px;justify-content:center;padding-bottom:2px">13</div>
<div class="c" style="left:249px;top:567px;width:33px;height:13px;font-size:8px;justify-content:center;padding-bottom:2px">14</div>
<div class="c" style="left:283px;top:567px;width:33px;height:13px;font-size:8px;justify-content:center;padding-bottom:2px">15</div>
<div class="c" style="left:317px;top:567px;width:33px;height:13px;font-size:8px;justify-content:center;padding-bottom:2px">16</div>
<div class="c" style="left:351px;top:567px;width:33px;height:13px;font-size:8px;justify-content:center;padding-bottom:2px">17</div>
<div class="c" style="left:385px;top:567px;width:33px;height:13px;font-size:8px;justify-content:center;padding-bottom:2px">18</div>
<div class="c" style="left:419px;top:567px;width:33px;height:13px;font-size:8px;justify-content:center;padding-bottom:2px">19</div>
<div class="c" style="left:453px;top:567px;width:33px;height:13px;font-size:8px;justify-content:center;padding-bottom:2px">20</div>
<div class="c" style="left:487px;top:567px;width:35px;height:13px;font-size:8px;justify-content:center;padding-bottom:2px">21</div>
<div class="c" style="left:523px;top:567px;width:35px;height:13px;font-size:8px;justify-content:center;padding-bottom:2px">22</div>
<div class="c" style="left:559px;top:567px;width:33px;height:13px;font-size:8px;justify-content:center;padding-bottom:2px">23</div>
<div class="c" style="left:593px;top:567px;width:33px;height:13px;font-size:8px;justify-content:center;padding-bottom:2px">24</div>
<div class="c" style="left:627px;top:567px;width:33px;height:13px;font-size:8px;justify-content:center;padding-bottom:2px">25</div>
<div class="c" style="left:661px;top:567px;width:33px;height:13px;font-size:8px;justify-content:center;padding-bottom:2px">26</div>
<div class="c" style="left:695px;top:567px;width:37px;height:13px;font-size:8px;justify-content:center;padding-bottom:2px">27</div>
<div class="c" style="left:733px;top:567px;width:35px;height:13px;font-size:8px;justify-content:center;padding-bottom:2px">28</div>
<div class="c" style="left:769px;top:567px;width:37px;height:13px;font-size:8px;justify-content:center;padding-bottom:2px">29</div>
<div class="c" style="left:807px;top:567px;width:31px;height:13px;font-size:8px;justify-content:center;padding-bottom:2px">30</div>
<div class="c" style="left:839px;top:567px;width:31px;height:13px;font-size:8px;justify-content:center;padding-bottom:2px">31</div>
<div class="c" style="left:871px;top:567px;width:31px;height:13px;font-size:8px;justify-content:center;padding-bottom:2px">32</div>
<div class="c" style="left:903px;top:567px;width:31px;height:13px;font-size:8px;justify-content:center;padding-bottom:2px">33</div>
<div class="c" style="left:935px;top:567px;width:31px;height:13px;font-size:8px;justify-content:center;padding-bottom:2px">34</div>
<div class="c" style="left:967px;top:567px;width:31px;height:13px;font-size:8px;justify-content:center;padding-bottom:2px">35</div>
<div class="c" style="left:999px;top:567px;width:31px;height:13px;font-size:8px;justify-content:center;padding-bottom:2px">36</div>
<div class="c" style="left:1031px;top:567px;width:31px;height:13px;font-size:8px;justify-content:center;padding-bottom:2px">37</div>
<div class="c" style="left:1063px;top:567px;width:31px;height:13px;font-size:8px;justify-content:center;padding-bottom:2px">38</div>
<div class="c" style="left:1095px;top:567px;width:31px;height:13px;font-size:8px;justify-content:center;padding-bottom:2px">39</div>
<div class="c" style="left:1127px;top:567px;width:31px;height:13px;font-size:8px;justify-content:center;padding-bottom:2px">40</div>
<div class="c" style="left:1159px;top:567px;width:31px;height:13px;font-size:8px;justify-content:center;padding-bottom:2px">41</div>
<div class="c" style="left:1191px;top:567px;width:31px;height:13px;font-size:8px;justify-content:center;padding-bottom:2px">42</div>
<div class="c" style="left:1223px;top:567px;width:31px;height:13px;font-size:8px;justify-content:center;padding-bottom:2px">43</div>
<div class="c" style="left:1255px;top:567px;width:31px;height:13px;font-size:8px;justify-content:center;padding-bottom:2px">44</div>
<div class="c" style="left:1287px;top:567px;width:34px;height:13px;font-size:8px;justify-content:center;padding-bottom:2px">45</div>
<div class="c" style="left:1322px;top:567px;width:34px;height:13px;font-size:8px;justify-content:center;padding-bottom:2px">46</div>
<div class="a" style="left:186px;top:29px;width:1px;height:438px;background:#000"></div>
<div class="a" style="left:214px;top:29px;width:1px;height:438px;background:#000"></div>
<div class="a" style="left:248px;top:29px;width:1px;height:438px;background:#000"></div>
<div class="a" style="left:282px;top:29px;width:1px;height:438px;background:#000"></div>
<div class="a" style="left:316px;top:29px;width:1px;height:438px;background:#000"></div>
<div class="a" style="left:350px;top:29px;width:1px;height:438px;background:#000"></div>
<div class="a" style="left:384px;top:29px;width:1px;height:438px;background:#000"></div>
<div class="a" style="left:418px;top:29px;width:1px;height:438px;background:#000"></div>
<div class="a" style="left:452px;top:29px;width:1px;height:438px;background:#000"></div>
<div class="a" style="left:486px;top:29px;width:1px;height:438px;background:#000"></div>
<div class="a" style="left:522px;top:29px;width:1px;height:438px;background:#000"></div>
<div class="a" style="left:558px;top:29px;width:1px;height:438px;background:#000"></div>
<div class="a" style="left:592px;top:29px;width:1px;height:438px;background:#000"></div>
<div class="a" style="left:626px;top:29px;width:1px;height:438px;background:#000"></div>
<div class="a" style="left:660px;top:29px;width:1px;height:438px;background:#000"></div>
<div class="a" style="left:694px;top:29px;width:1px;height:438px;background:#000"></div>
<div class="a" style="left:732px;top:29px;width:1px;height:438px;background:#000"></div>
<div class="a" style="left:161px;top:29px;width:1px;height:438px;background:#000"></div>
<div class="a" style="left:161px;top:69px;width:572px;height:1px;background:#000"></div>
<div class="a" style="left:161px;top:89px;width:572px;height:1px;background:#000"></div>
<div class="a" style="left:161px;top:101px;width:572px;height:1px;background:#000"></div>
<div class="a" style="left:161px;top:113px;width:572px;height:1px;background:#000"></div>
<div class="a" style="left:161px;top:124px;width:572px;height:1px;background:#000"></div>
<div class="a" style="left:161px;top:137px;width:572px;height:1px;background:#000"></div>
<div class="a" style="left:161px;top:150px;width:572px;height:1px;background:#000"></div>
<div class="a" style="left:161px;top:163px;width:572px;height:1px;background:#000"></div>
<div class="a" style="left:161px;top:176px;width:572px;height:1px;background:#000"></div>
<div class="a" style="left:161px;top:189px;width:572px;height:1px;background:#000"></div>
<div class="a" style="left:161px;top:202px;width:572px;height:1px;background:#000"></div>
<div class="a" style="left:161px;top:215px;width:572px;height:1px;background:#000"></div>
<div class="a" style="left:161px;top:228px;width:572px;height:1px;background:#000"></div>
<div class="a" style="left:161px;top:241px;width:572px;height:1px;background:#000"></div>
<div class="a" style="left:161px;top:254px;width:572px;height:1px;background:#000"></div>
<div class="a" style="left:161px;top:267px;width:572px;height:1px;background:#000"></div>
<div class="a" style="left:161px;top:280px;width:572px;height:1px;background:#000"></div>
<div class="a" style="left:161px;top:293px;width:572px;height:1px;background:#000"></div>
<div class="a" style="left:161px;top:306px;width:572px;height:1px;background:#000"></div>
<div class="a" style="left:161px;top:319px;width:572px;height:1px;background:#000"></div>
<div class="a" style="left:161px;top:334px;width:572px;height:1px;background:#000"></div>
<div class="a" style="left:161px;top:346px;width:572px;height:1px;background:#000"></div>
<div class="a" style="left:161px;top:358px;width:572px;height:1px;background:#000"></div>
<div class="a" style="left:161px;top:370px;width:572px;height:1px;background:#000"></div>
<div class="a" style="left:161px;top:382px;width:572px;height:1px;background:#000"></div>
<div class="a" style="left:161px;top:394px;width:572px;height:1px;background:#000"></div>
<div class="a" style="left:161px;top:406px;width:572px;height:1px;background:#000"></div>
<div class="a" style="left:161px;top:418px;width:572px;height:1px;background:#000"></div>
<div class="a" style="left:161px;top:430px;width:572px;height:1px;background:#000"></div>
<div class="a" style="left:161px;top:442px;width:572px;height:1px;background:#000"></div>
<div class="a" style="left:161px;top:454px;width:572px;height:1px;background:#000"></div>
<div class="a" style="left:161px;top:466px;width:572px;height:1px;background:#000"></div>
<div class="a" style="left:161px;top:29px;width:572px;height:1px;background:#000"></div>
<div class="a" style="left:18px;top:68px;width:715px;height:2px;background:#000"></div>
<div class="a" style="left:18px;top:88px;width:715px;height:2px;background:#000"></div>
<div class="a" style="left:160px;top:28px;width:2px;height:439px;background:#000"></div>
<div class="a" style="left:185px;top:28px;width:2px;height:439px;background:#000"></div>
<div class="a" style="left:160px;top:28px;width:27px;height:2px;background:#000"></div>
<div class="a" style="left:160px;top:465px;width:27px;height:2px;background:#000"></div>
<div class="a" style="left:185px;top:28px;width:2px;height:439px;background:#000"></div>
<div class="a" style="left:213px;top:28px;width:2px;height:439px;background:#000"></div>
<div class="a" style="left:185px;top:28px;width:30px;height:2px;background:#000"></div>
<div class="a" style="left:185px;top:465px;width:30px;height:2px;background:#000"></div>
<div class="a" style="left:213px;top:28px;width:2px;height:439px;background:#000"></div>
<div class="a" style="left:349px;top:28px;width:2px;height:439px;background:#000"></div>
<div class="a" style="left:213px;top:28px;width:138px;height:2px;background:#000"></div>
<div class="a" style="left:213px;top:465px;width:138px;height:2px;background:#000"></div>
<div class="a" style="left:349px;top:28px;width:2px;height:439px;background:#000"></div>
<div class="a" style="left:557px;top:28px;width:2px;height:439px;background:#000"></div>
<div class="a" style="left:349px;top:28px;width:210px;height:2px;background:#000"></div>
<div class="a" style="left:349px;top:465px;width:210px;height:2px;background:#000"></div>
<div class="a" style="left:557px;top:28px;width:2px;height:439px;background:#000"></div>
<div class="a" style="left:731px;top:28px;width:2px;height:439px;background:#000"></div>
<div class="a" style="left:557px;top:28px;width:176px;height:2px;background:#000"></div>
<div class="a" style="left:557px;top:465px;width:176px;height:2px;background:#000"></div>
<div class="a" style="left:160px;top:305px;width:573px;height:2px;background:#000"></div>
<div class="a" style="left:160px;top:318px;width:573px;height:2px;background:#000"></div>
<div class="a" style="left:160px;top:393px;width:573px;height:2px;background:#000"></div>
<div class="a" style="left:160px;top:405px;width:573px;height:2px;background:#000"></div>
<div class="a" style="left:838px;top:69px;width:1px;height:398px;background:#000"></div>
<div class="a" style="left:870px;top:69px;width:1px;height:398px;background:#000"></div>
<div class="a" style="left:902px;top:69px;width:1px;height:398px;background:#000"></div>
<div class="a" style="left:934px;top:69px;width:1px;height:398px;background:#000"></div>
<div class="a" style="left:966px;top:69px;width:1px;height:398px;background:#000"></div>
<div class="a" style="left:998px;top:69px;width:1px;height:398px;background:#000"></div>
<div class="a" style="left:1030px;top:69px;width:1px;height:398px;background:#000"></div>
<div class="a" style="left:1062px;top:69px;width:1px;height:398px;background:#000"></div>
<div class="a" style="left:1094px;top:69px;width:1px;height:398px;background:#000"></div>
<div class="a" style="left:1126px;top:69px;width:1px;height:398px;background:#000"></div>
<div class="a" style="left:1158px;top:69px;width:1px;height:398px;background:#000"></div>
<div class="a" style="left:1190px;top:69px;width:1px;height:398px;background:#000"></div>
<div class="a" style="left:1222px;top:69px;width:1px;height:398px;background:#000"></div>
<div class="a" style="left:1254px;top:69px;width:1px;height:398px;background:#000"></div>
<div class="a" style="left:1286px;top:69px;width:1px;height:398px;background:#000"></div>
<div class="a" style="left:806px;top:69px;width:1px;height:398px;background:#000"></div>
<div class="a" style="left:806px;top:89px;width:481px;height:1px;background:#000"></div>
<div class="a" style="left:806px;top:101px;width:481px;height:1px;background:#000"></div>
<div class="a" style="left:806px;top:113px;width:481px;height:1px;background:#000"></div>
<div class="a" style="left:806px;top:124px;width:481px;height:1px;background:#000"></div>
<div class="a" style="left:806px;top:137px;width:481px;height:1px;background:#000"></div>
<div class="a" style="left:806px;top:150px;width:481px;height:1px;background:#000"></div>
<div class="a" style="left:806px;top:163px;width:481px;height:1px;background:#000"></div>
<div class="a" style="left:806px;top:176px;width:481px;height:1px;background:#000"></div>
<div class="a" style="left:806px;top:189px;width:481px;height:1px;background:#000"></div>
<div class="a" style="left:806px;top:202px;width:481px;height:1px;background:#000"></div>
<div class="a" style="left:806px;top:215px;width:481px;height:1px;background:#000"></div>
<div class="a" style="left:806px;top:228px;width:481px;height:1px;background:#000"></div>
<div class="a" style="left:806px;top:241px;width:481px;height:1px;background:#000"></div>
<div class="a" style="left:806px;top:254px;width:481px;height:1px;background:#000"></div>
<div class="a" style="left:806px;top:267px;width:481px;height:1px;background:#000"></div>
<div class="a" style="left:806px;top:280px;width:481px;height:1px;background:#000"></div>
<div class="a" style="left:806px;top:293px;width:481px;height:1px;background:#000"></div>
<div class="a" style="left:806px;top:306px;width:481px;height:1px;background:#000"></div>
<div class="a" style="left:806px;top:319px;width:481px;height:1px;background:#000"></div>
<div class="a" style="left:806px;top:334px;width:481px;height:1px;background:#000"></div>
<div class="a" style="left:806px;top:346px;width:481px;height:1px;background:#000"></div>
<div class="a" style="left:806px;top:358px;width:481px;height:1px;background:#000"></div>
<div class="a" style="left:806px;top:370px;width:481px;height:1px;background:#000"></div>
<div class="a" style="left:806px;top:382px;width:481px;height:1px;background:#000"></div>
<div class="a" style="left:806px;top:394px;width:481px;height:1px;background:#000"></div>
<div class="a" style="left:806px;top:406px;width:481px;height:1px;background:#000"></div>
<div class="a" style="left:806px;top:418px;width:481px;height:1px;background:#000"></div>
<div class="a" style="left:806px;top:430px;width:481px;height:1px;background:#000"></div>
<div class="a" style="left:806px;top:442px;width:481px;height:1px;background:#000"></div>
<div class="a" style="left:806px;top:454px;width:481px;height:1px;background:#000"></div>
<div class="a" style="left:806px;top:466px;width:481px;height:1px;background:#000"></div>
<div class="a" style="left:806px;top:69px;width:481px;height:1px;background:#000"></div>
<div class="a" style="left:805px;top:28px;width:2px;height:439px;background:#000"></div>
<div class="a" style="left:901px;top:28px;width:2px;height:439px;background:#000"></div>
<div class="a" style="left:805px;top:28px;width:98px;height:2px;background:#000"></div>
<div class="a" style="left:805px;top:465px;width:98px;height:2px;background:#000"></div>
<div class="a" style="left:901px;top:28px;width:2px;height:439px;background:#000"></div>
<div class="a" style="left:1029px;top:28px;width:2px;height:439px;background:#000"></div>
<div class="a" style="left:901px;top:28px;width:130px;height:2px;background:#000"></div>
<div class="a" style="left:901px;top:465px;width:130px;height:2px;background:#000"></div>
<div class="a" style="left:1029px;top:28px;width:2px;height:439px;background:#000"></div>
<div class="a" style="left:1061px;top:28px;width:2px;height:439px;background:#000"></div>
<div class="a" style="left:1029px;top:28px;width:34px;height:2px;background:#000"></div>
<div class="a" style="left:1029px;top:465px;width:34px;height:2px;background:#000"></div>
<div class="a" style="left:1061px;top:28px;width:2px;height:439px;background:#000"></div>
<div class="a" style="left:1285px;top:28px;width:2px;height:439px;background:#000"></div>
<div class="a" style="left:1061px;top:28px;width:226px;height:2px;background:#000"></div>
<div class="a" style="left:1061px;top:465px;width:226px;height:2px;background:#000"></div>
<div class="a" style="left:805px;top:68px;width:482px;height:2px;background:#000"></div>
<div class="a" style="left:805px;top:88px;width:482px;height:2px;background:#000"></div>
<div class="a" style="left:1189px;top:305px;width:98px;height:2px;background:#000"></div>
<div class="a" style="left:1189px;top:318px;width:98px;height:2px;background:#000"></div>
<div class="a" style="left:767px;top:68px;width:2px;height:22px;background:#000"></div>
<div class="a" style="left:805px;top:68px;width:2px;height:22px;background:#000"></div>
<div class="a" style="left:767px;top:68px;width:40px;height:2px;background:#000"></div>
<div class="a" style="left:767px;top:88px;width:40px;height:2px;background:#000"></div>
<div class="a" style="left:248px;top:466px;width:1px;height:101px;background:#000"></div>
<div class="a" style="left:282px;top:466px;width:1px;height:101px;background:#000"></div>
<div class="a" style="left:316px;top:466px;width:1px;height:101px;background:#000"></div>
<div class="a" style="left:350px;top:466px;width:1px;height:101px;background:#000"></div>
<div class="a" style="left:384px;top:466px;width:1px;height:101px;background:#000"></div>
<div class="a" style="left:418px;top:466px;width:1px;height:101px;background:#000"></div>
<div class="a" style="left:452px;top:466px;width:1px;height:101px;background:#000"></div>
<div class="a" style="left:486px;top:466px;width:1px;height:101px;background:#000"></div>
<div class="a" style="left:522px;top:466px;width:1px;height:101px;background:#000"></div>
<div class="a" style="left:558px;top:466px;width:1px;height:101px;background:#000"></div>
<div class="a" style="left:592px;top:466px;width:1px;height:101px;background:#000"></div>
<div class="a" style="left:626px;top:466px;width:1px;height:101px;background:#000"></div>
<div class="a" style="left:660px;top:466px;width:1px;height:101px;background:#000"></div>
<div class="a" style="left:694px;top:466px;width:1px;height:101px;background:#000"></div>
<div class="a" style="left:732px;top:466px;width:1px;height:101px;background:#000"></div>
<div class="a" style="left:214px;top:466px;width:1px;height:101px;background:#000"></div>
<div class="a" style="left:214px;top:478px;width:519px;height:1px;background:#000"></div>
<div class="a" style="left:214px;top:490px;width:519px;height:1px;background:#000"></div>
<div class="a" style="left:214px;top:502px;width:519px;height:1px;background:#000"></div>
<div class="a" style="left:214px;top:515px;width:519px;height:1px;background:#000"></div>
<div class="a" style="left:214px;top:528px;width:519px;height:1px;background:#000"></div>
<div class="a" style="left:214px;top:542px;width:519px;height:1px;background:#000"></div>
<div class="a" style="left:214px;top:554px;width:519px;height:1px;background:#000"></div>
<div class="a" style="left:214px;top:566px;width:519px;height:1px;background:#000"></div>
<div class="a" style="left:214px;top:466px;width:519px;height:1px;background:#000"></div>
<div class="a" style="left:161px;top:478px;width:54px;height:1px;background:#000"></div>
<div class="a" style="left:161px;top:490px;width:54px;height:1px;background:#000"></div>
<div class="a" style="left:161px;top:502px;width:54px;height:1px;background:#000"></div>
<div class="a" style="left:161px;top:515px;width:54px;height:1px;background:#000"></div>
<div class="a" style="left:161px;top:528px;width:54px;height:1px;background:#000"></div>
<div class="a" style="left:161px;top:542px;width:54px;height:1px;background:#000"></div>
<div class="a" style="left:161px;top:554px;width:54px;height:1px;background:#000"></div>
<div class="a" style="left:161px;top:566px;width:54px;height:1px;background:#000"></div>
<div class="a" style="left:186px;top:502px;width:1px;height:14px;background:#000"></div>
<div class="a" style="left:160px;top:465px;width:2px;height:102px;background:#000"></div>
<div class="a" style="left:213px;top:465px;width:2px;height:102px;background:#000"></div>
<div class="a" style="left:160px;top:465px;width:55px;height:2px;background:#000"></div>
<div class="a" style="left:160px;top:565px;width:55px;height:2px;background:#000"></div>
<div class="a" style="left:213px;top:465px;width:2px;height:38px;background:#000"></div>
<div class="a" style="left:349px;top:465px;width:2px;height:38px;background:#000"></div>
<div class="a" style="left:213px;top:465px;width:138px;height:2px;background:#000"></div>
<div class="a" style="left:213px;top:501px;width:138px;height:2px;background:#000"></div>
<div class="a" style="left:349px;top:465px;width:2px;height:38px;background:#000"></div>
<div class="a" style="left:557px;top:465px;width:2px;height:38px;background:#000"></div>
<div class="a" style="left:349px;top:465px;width:210px;height:2px;background:#000"></div>
<div class="a" style="left:349px;top:501px;width:210px;height:2px;background:#000"></div>
<div class="a" style="left:557px;top:465px;width:2px;height:38px;background:#000"></div>
<div class="a" style="left:731px;top:465px;width:2px;height:38px;background:#000"></div>
<div class="a" style="left:557px;top:465px;width:176px;height:2px;background:#000"></div>
<div class="a" style="left:557px;top:501px;width:176px;height:2px;background:#000"></div>
<div class="a" style="left:213px;top:501px;width:2px;height:15px;background:#000"></div>
<div class="a" style="left:731px;top:501px;width:2px;height:15px;background:#000"></div>
<div class="a" style="left:213px;top:501px;width:520px;height:2px;background:#000"></div>
<div class="a" style="left:213px;top:514px;width:520px;height:2px;background:#000"></div>
<div class="a" style="left:160px;top:514px;width:2px;height:15px;background:#000"></div>
<div class="a" style="left:731px;top:514px;width:2px;height:15px;background:#000"></div>
<div class="a" style="left:160px;top:514px;width:573px;height:2px;background:#000"></div>
<div class="a" style="left:160px;top:527px;width:573px;height:2px;background:#000"></div>
<div class="a" style="left:213px;top:465px;width:2px;height:102px;background:#000"></div>
<div class="a" style="left:731px;top:465px;width:2px;height:102px;background:#000"></div>
<div class="a" style="left:213px;top:465px;width:520px;height:2px;background:#000"></div>
<div class="a" style="left:213px;top:565px;width:520px;height:2px;background:#000"></div>
<div class="a" style="left:806px;top:466px;width:1px;height:77px;background:#000"></div>
<div class="a" style="left:838px;top:466px;width:1px;height:77px;background:#000"></div>
<div class="a" style="left:870px;top:466px;width:1px;height:77px;background:#000"></div>
<div class="a" style="left:902px;top:466px;width:1px;height:77px;background:#000"></div>
<div class="a" style="left:934px;top:466px;width:1px;height:77px;background:#000"></div>
<div class="a" style="left:966px;top:466px;width:1px;height:77px;background:#000"></div>
<div class="a" style="left:998px;top:466px;width:1px;height:77px;background:#000"></div>
<div class="a" style="left:1030px;top:466px;width:1px;height:77px;background:#000"></div>
<div class="a" style="left:1062px;top:466px;width:1px;height:77px;background:#000"></div>
<div class="a" style="left:1094px;top:466px;width:1px;height:77px;background:#000"></div>
<div class="a" style="left:1126px;top:466px;width:1px;height:77px;background:#000"></div>
<div class="a" style="left:1158px;top:466px;width:1px;height:77px;background:#000"></div>
<div class="a" style="left:1190px;top:466px;width:1px;height:77px;background:#000"></div>
<div class="a" style="left:1222px;top:466px;width:1px;height:77px;background:#000"></div>
<div class="a" style="left:1254px;top:466px;width:1px;height:77px;background:#000"></div>
<div class="a" style="left:1286px;top:466px;width:1px;height:77px;background:#000"></div>
<div class="a" style="left:768px;top:466px;width:1px;height:77px;background:#000"></div>
<div class="a" style="left:768px;top:478px;width:519px;height:1px;background:#000"></div>
<div class="a" style="left:768px;top:490px;width:519px;height:1px;background:#000"></div>
<div class="a" style="left:768px;top:502px;width:519px;height:1px;background:#000"></div>
<div class="a" style="left:768px;top:515px;width:519px;height:1px;background:#000"></div>
<div class="a" style="left:768px;top:528px;width:519px;height:1px;background:#000"></div>
<div class="a" style="left:768px;top:542px;width:519px;height:1px;background:#000"></div>
<div class="a" style="left:768px;top:466px;width:519px;height:1px;background:#000"></div>
<div class="a" style="left:767px;top:465px;width:2px;height:78px;background:#000"></div>
<div class="a" style="left:805px;top:465px;width:2px;height:78px;background:#000"></div>
<div class="a" style="left:767px;top:465px;width:40px;height:2px;background:#000"></div>
<div class="a" style="left:767px;top:541px;width:40px;height:2px;background:#000"></div>
<div class="a" style="left:805px;top:465px;width:2px;height:38px;background:#000"></div>
<div class="a" style="left:901px;top:465px;width:2px;height:38px;background:#000"></div>
<div class="a" style="left:805px;top:465px;width:98px;height:2px;background:#000"></div>
<div class="a" style="left:805px;top:501px;width:98px;height:2px;background:#000"></div>
<div class="a" style="left:901px;top:465px;width:2px;height:38px;background:#000"></div>
<div class="a" style="left:1029px;top:465px;width:2px;height:38px;background:#000"></div>
<div class="a" style="left:901px;top:465px;width:130px;height:2px;background:#000"></div>
<div class="a" style="left:901px;top:501px;width:130px;height:2px;background:#000"></div>
<div class="a" style="left:1029px;top:465px;width:2px;height:38px;background:#000"></div>
<div class="a" style="left:1061px;top:465px;width:2px;height:38px;background:#000"></div>
<div class="a" style="left:1029px;top:465px;width:34px;height:2px;background:#000"></div>
<div class="a" style="left:1029px;top:501px;width:34px;height:2px;background:#000"></div>
<div class="a" style="left:1061px;top:465px;width:2px;height:38px;background:#000"></div>
<div class="a" style="left:1285px;top:465px;width:2px;height:38px;background:#000"></div>
<div class="a" style="left:1061px;top:465px;width:226px;height:2px;background:#000"></div>
<div class="a" style="left:1061px;top:501px;width:226px;height:2px;background:#000"></div>
<div class="a" style="left:767px;top:501px;width:2px;height:15px;background:#000"></div>
<div class="a" style="left:1285px;top:501px;width:2px;height:15px;background:#000"></div>
<div class="a" style="left:767px;top:501px;width:520px;height:2px;background:#000"></div>
<div class="a" style="left:767px;top:514px;width:520px;height:2px;background:#000"></div>
<div class="a" style="left:767px;top:514px;width:2px;height:15px;background:#000"></div>
<div class="a" style="left:1285px;top:514px;width:2px;height:15px;background:#000"></div>
<div class="a" style="left:767px;top:514px;width:520px;height:2px;background:#000"></div>
<div class="a" style="left:767px;top:527px;width:520px;height:2px;background:#000"></div>
<div class="a" style="left:767px;top:527px;width:2px;height:16px;background:#000"></div>
<div class="a" style="left:1285px;top:527px;width:2px;height:16px;background:#000"></div>
<div class="a" style="left:767px;top:527px;width:520px;height:2px;background:#000"></div>
<div class="a" style="left:767px;top:541px;width:520px;height:2px;background:#000"></div>
<div class="a" style="left:731px;top:527px;width:2px;height:40px;background:#000"></div>
<div class="a" style="left:767px;top:527px;width:2px;height:40px;background:#000"></div>
<div class="a" style="left:731px;top:527px;width:38px;height:2px;background:#000"></div>
<div class="a" style="left:731px;top:565px;width:38px;height:2px;background:#000"></div>
<div class="a" style="left:1356px;top:466px;width:1px;height:77px;background:#000"></div>
<div class="a" style="left:1321px;top:466px;width:1px;height:77px;background:#000"></div>
<div class="a" style="left:1321px;top:478px;width:36px;height:1px;background:#000"></div>
<div class="a" style="left:1321px;top:490px;width:36px;height:1px;background:#000"></div>
<div class="a" style="left:1321px;top:502px;width:36px;height:1px;background:#000"></div>
<div class="a" style="left:1321px;top:515px;width:36px;height:1px;background:#000"></div>
<div class="a" style="left:1321px;top:528px;width:36px;height:1px;background:#000"></div>
<div class="a" style="left:1321px;top:542px;width:36px;height:1px;background:#000"></div>
<div class="a" style="left:1321px;top:466px;width:36px;height:1px;background:#000"></div>
<div class="a" style="left:1320px;top:465px;width:2px;height:78px;background:#000"></div>
<div class="a" style="left:1355px;top:465px;width:2px;height:78px;background:#000"></div>
<div class="a" style="left:1320px;top:465px;width:37px;height:2px;background:#000"></div>
<div class="a" style="left:1320px;top:541px;width:37px;height:2px;background:#000"></div>
<div class="a" style="left:1285px;top:514px;width:2px;height:15px;background:#000"></div>
<div class="a" style="left:1320px;top:514px;width:2px;height:15px;background:#000"></div>
<div class="a" style="left:1285px;top:514px;width:37px;height:2px;background:#000"></div>
<div class="a" style="left:1285px;top:527px;width:37px;height:2px;background:#000"></div>
<div class="a" style="left:1285px;top:527px;width:2px;height:16px;background:#000"></div>
<div class="a" style="left:1320px;top:527px;width:2px;height:16px;background:#000"></div>
<div class="a" style="left:1285px;top:527px;width:37px;height:2px;background:#000"></div>
<div class="a" style="left:1285px;top:541px;width:37px;height:2px;background:#000"></div>
<div class="hd" style="left:0;top:18px;width:19px;height:11px"></div>
<div class="hd" style="left:20px;top:18px;width:141px;height:11px;;align-items:flex-end;padding-bottom:1px;line-height:1">J</div>
<div class="a" style="left:161px;top:18px;width:1px;height:11px;background:#9A9886"></div>
<div class="hd" style="left:162px;top:18px;width:24px;height:11px;;align-items:flex-end;padding-bottom:1px;line-height:1">K</div>
<div class="a" style="left:186px;top:18px;width:1px;height:11px;background:#9A9886"></div>
<div class="hd" style="left:187px;top:18px;width:27px;height:11px;;align-items:flex-end;padding-bottom:1px;line-height:1">L</div>
<div class="a" style="left:214px;top:18px;width:1px;height:11px;background:#9A9886"></div>
<div class="hd" style="left:215px;top:18px;width:33px;height:11px;background:#FFC47C;align-items:flex-end;padding-bottom:1px;line-height:1">M</div>
<div class="a" style="left:248px;top:18px;width:1px;height:11px;background:#000080"></div>
<div class="hd" style="left:249px;top:18px;width:33px;height:11px;;align-items:flex-end;padding-bottom:1px;line-height:1">N</div>
<div class="a" style="left:282px;top:18px;width:1px;height:11px;background:#9A9886"></div>
<div class="hd" style="left:283px;top:18px;width:33px;height:11px;;align-items:flex-end;padding-bottom:1px;line-height:1">O</div>
<div class="a" style="left:316px;top:18px;width:1px;height:11px;background:#9A9886"></div>
<div class="hd" style="left:317px;top:18px;width:33px;height:11px;;align-items:flex-end;padding-bottom:1px;line-height:1">P</div>
<div class="a" style="left:350px;top:18px;width:1px;height:11px;background:#9A9886"></div>
<div class="hd" style="left:351px;top:18px;width:33px;height:11px;;align-items:flex-end;padding-bottom:1px;line-height:1">Q</div>
<div class="a" style="left:384px;top:18px;width:1px;height:11px;background:#9A9886"></div>
<div class="hd" style="left:385px;top:18px;width:33px;height:11px;;align-items:flex-end;padding-bottom:1px;line-height:1">R</div>
<div class="a" style="left:418px;top:18px;width:1px;height:11px;background:#9A9886"></div>
<div class="hd" style="left:419px;top:18px;width:33px;height:11px;;align-items:flex-end;padding-bottom:1px;line-height:1">S</div>
<div class="a" style="left:452px;top:18px;width:1px;height:11px;background:#9A9886"></div>
<div class="hd" style="left:453px;top:18px;width:33px;height:11px;;align-items:flex-end;padding-bottom:1px;line-height:1">T</div>
<div class="a" style="left:486px;top:18px;width:1px;height:11px;background:#9A9886"></div>
<div class="hd" style="left:487px;top:18px;width:35px;height:11px;;align-items:flex-end;padding-bottom:1px;line-height:1">U</div>
<div class="a" style="left:522px;top:18px;width:1px;height:11px;background:#9A9886"></div>
<div class="hd" style="left:523px;top:18px;width:35px;height:11px;;align-items:flex-end;padding-bottom:1px;line-height:1">V</div>
<div class="a" style="left:558px;top:18px;width:1px;height:11px;background:#9A9886"></div>
<div class="hd" style="left:559px;top:18px;width:33px;height:11px;;align-items:flex-end;padding-bottom:1px;line-height:1">W</div>
<div class="a" style="left:592px;top:18px;width:1px;height:11px;background:#9A9886"></div>
<div class="hd" style="left:593px;top:18px;width:33px;height:11px;;align-items:flex-end;padding-bottom:1px;line-height:1">X</div>
<div class="a" style="left:626px;top:18px;width:1px;height:11px;background:#9A9886"></div>
<div class="hd" style="left:627px;top:18px;width:33px;height:11px;;align-items:flex-end;padding-bottom:1px;line-height:1">Y</div>
<div class="a" style="left:660px;top:18px;width:1px;height:11px;background:#9A9886"></div>
<div class="hd" style="left:661px;top:18px;width:33px;height:11px;;align-items:flex-end;padding-bottom:1px;line-height:1">Z</div>
<div class="a" style="left:694px;top:18px;width:1px;height:11px;background:#9A9886"></div>
<div class="hd" style="left:695px;top:18px;width:37px;height:11px;;align-items:flex-end;padding-bottom:1px;line-height:1">AA</div>
<div class="a" style="left:732px;top:18px;width:1px;height:11px;background:#9A9886"></div>
<div class="hd" style="left:733px;top:18px;width:35px;height:11px;;align-items:flex-end;padding-bottom:1px;line-height:1">AB</div>
<div class="a" style="left:768px;top:18px;width:1px;height:11px;background:#9A9886"></div>
<div class="hd" style="left:769px;top:18px;width:37px;height:11px;;align-items:flex-end;padding-bottom:1px;line-height:1">AC</div>
<div class="a" style="left:806px;top:18px;width:1px;height:11px;background:#9A9886"></div>
<div class="hd" style="left:807px;top:18px;width:31px;height:11px;;align-items:flex-end;padding-bottom:1px;line-height:1">AD</div>
<div class="a" style="left:838px;top:18px;width:1px;height:11px;background:#9A9886"></div>
<div class="hd" style="left:839px;top:18px;width:31px;height:11px;;align-items:flex-end;padding-bottom:1px;line-height:1">AE</div>
<div class="a" style="left:870px;top:18px;width:1px;height:11px;background:#9A9886"></div>
<div class="hd" style="left:871px;top:18px;width:31px;height:11px;;align-items:flex-end;padding-bottom:1px;line-height:1">AF</div>
<div class="a" style="left:902px;top:18px;width:1px;height:11px;background:#9A9886"></div>
<div class="hd" style="left:903px;top:18px;width:31px;height:11px;;align-items:flex-end;padding-bottom:1px;line-height:1">AG</div>
<div class="a" style="left:934px;top:18px;width:1px;height:11px;background:#9A9886"></div>
<div class="hd" style="left:935px;top:18px;width:31px;height:11px;;align-items:flex-end;padding-bottom:1px;line-height:1">AH</div>
<div class="a" style="left:966px;top:18px;width:1px;height:11px;background:#9A9886"></div>
<div class="hd" style="left:967px;top:18px;width:31px;height:11px;;align-items:flex-end;padding-bottom:1px;line-height:1">AI</div>
<div class="a" style="left:998px;top:18px;width:1px;height:11px;background:#9A9886"></div>
<div class="hd" style="left:999px;top:18px;width:31px;height:11px;;align-items:flex-end;padding-bottom:1px;line-height:1">AJ</div>
<div class="a" style="left:1030px;top:18px;width:1px;height:11px;background:#9A9886"></div>
<div class="hd" style="left:1031px;top:18px;width:31px;height:11px;;align-items:flex-end;padding-bottom:1px;line-height:1">AK</div>
<div class="a" style="left:1062px;top:18px;width:1px;height:11px;background:#9A9886"></div>
<div class="hd" style="left:1063px;top:18px;width:31px;height:11px;;align-items:flex-end;padding-bottom:1px;line-height:1">AL</div>
<div class="a" style="left:1094px;top:18px;width:1px;height:11px;background:#9A9886"></div>
<div class="hd" style="left:1095px;top:18px;width:31px;height:11px;;align-items:flex-end;padding-bottom:1px;line-height:1">AM</div>
<div class="a" style="left:1126px;top:18px;width:1px;height:11px;background:#9A9886"></div>
<div class="hd" style="left:1127px;top:18px;width:31px;height:11px;;align-items:flex-end;padding-bottom:1px;line-height:1">AN</div>
<div class="a" style="left:1158px;top:18px;width:1px;height:11px;background:#9A9886"></div>
<div class="hd" style="left:1159px;top:18px;width:31px;height:11px;;align-items:flex-end;padding-bottom:1px;line-height:1">AO</div>
<div class="a" style="left:1190px;top:18px;width:1px;height:11px;background:#9A9886"></div>
<div class="hd" style="left:1191px;top:18px;width:31px;height:11px;;align-items:flex-end;padding-bottom:1px;line-height:1">AP</div>
<div class="a" style="left:1222px;top:18px;width:1px;height:11px;background:#9A9886"></div>
<div class="hd" style="left:1223px;top:18px;width:31px;height:11px;;align-items:flex-end;padding-bottom:1px;line-height:1">AQ</div>
<div class="a" style="left:1254px;top:18px;width:1px;height:11px;background:#9A9886"></div>
<div class="hd" style="left:1255px;top:18px;width:31px;height:11px;;align-items:flex-end;padding-bottom:1px;line-height:1">AR</div>
<div class="a" style="left:1286px;top:18px;width:1px;height:11px;background:#9A9886"></div>
<div class="hd" style="left:1287px;top:18px;width:34px;height:11px;;align-items:flex-end;padding-bottom:1px;line-height:1">AS</div>
<div class="a" style="left:1321px;top:18px;width:1px;height:11px;background:#9A9886"></div>
<div class="hd" style="left:1322px;top:18px;width:34px;height:11px;;align-items:flex-end;padding-bottom:1px;line-height:1">AT</div>
<div class="a" style="left:1356px;top:18px;width:1px;height:11px;background:#9A9886"></div>
<div class="a" style="left:0;top:29px;width:1346px;height:1px;background:#8B8A7A"></div>
<div class="a" style="left:214px;top:29px;width:35px;height:1px;background:#000080"></div>
<div class="hd" style="left:0;top:30px;width:19px;height:39px;align-items:flex-end;padding-bottom:2px;line-height:1">1</div>
<div class="a" style="left:0;top:69px;width:19px;height:1px;background:#9A9886"></div>
<div class="hd" style="left:0;top:70px;width:19px;height:19px;align-items:flex-end;padding-bottom:2px;line-height:1">2</div>
<div class="a" style="left:0;top:89px;width:19px;height:1px;background:#9A9886"></div>
<div class="hd" style="left:0;top:90px;width:19px;height:11px;align-items:flex-end;padding-bottom:2px;line-height:1">3</div>
<div class="a" style="left:0;top:101px;width:19px;height:1px;background:#9A9886"></div>
<div class="hd" style="left:0;top:102px;width:19px;height:11px;align-items:flex-end;padding-bottom:2px;line-height:1">4</div>
<div class="a" style="left:0;top:113px;width:19px;height:1px;background:#9A9886"></div>
<div class="hd" style="left:0;top:114px;width:19px;height:10px;align-items:flex-end;padding-bottom:2px;line-height:1">5</div>
<div class="a" style="left:0;top:124px;width:19px;height:1px;background:#9A9886"></div>
<div class="hd" style="left:0;top:125px;width:19px;height:12px;align-items:flex-end;padding-bottom:2px;line-height:1">6</div>
<div class="a" style="left:0;top:137px;width:19px;height:1px;background:#9A9886"></div>
<div class="hd" style="left:0;top:138px;width:19px;height:12px;align-items:flex-end;padding-bottom:2px;line-height:1">7</div>
<div class="a" style="left:0;top:150px;width:19px;height:1px;background:#9A9886"></div>
<div class="hd" style="left:0;top:151px;width:19px;height:12px;align-items:flex-end;padding-bottom:2px;line-height:1">8</div>
<div class="a" style="left:0;top:163px;width:19px;height:1px;background:#9A9886"></div>
<div class="hd" style="left:0;top:164px;width:19px;height:12px;align-items:flex-end;padding-bottom:2px;line-height:1">9</div>
<div class="a" style="left:0;top:176px;width:19px;height:1px;background:#9A9886"></div>
<div class="hd" style="left:0;top:177px;width:19px;height:12px;align-items:flex-end;padding-bottom:2px;line-height:1">10</div>
<div class="a" style="left:0;top:189px;width:19px;height:1px;background:#9A9886"></div>
<div class="hd" style="left:0;top:190px;width:19px;height:12px;align-items:flex-end;padding-bottom:2px;line-height:1">11</div>
<div class="a" style="left:0;top:202px;width:19px;height:1px;background:#9A9886"></div>
<div class="hd" style="left:0;top:203px;width:19px;height:12px;align-items:flex-end;padding-bottom:2px;line-height:1">12</div>
<div class="a" style="left:0;top:215px;width:19px;height:1px;background:#9A9886"></div>
<div class="hd" style="left:0;top:216px;width:19px;height:12px;align-items:flex-end;padding-bottom:2px;line-height:1">13</div>
<div class="a" style="left:0;top:228px;width:19px;height:1px;background:#9A9886"></div>
<div class="hd" style="left:0;top:229px;width:19px;height:12px;align-items:flex-end;padding-bottom:2px;line-height:1">14</div>
<div class="a" style="left:0;top:241px;width:19px;height:1px;background:#9A9886"></div>
<div class="hd" style="left:0;top:242px;width:19px;height:12px;align-items:flex-end;padding-bottom:2px;line-height:1">15</div>
<div class="a" style="left:0;top:254px;width:19px;height:1px;background:#9A9886"></div>
<div class="hd" style="left:0;top:255px;width:19px;height:12px;align-items:flex-end;padding-bottom:2px;line-height:1">16</div>
<div class="a" style="left:0;top:267px;width:19px;height:1px;background:#9A9886"></div>
<div class="hd" style="left:0;top:268px;width:19px;height:12px;align-items:flex-end;padding-bottom:2px;line-height:1">17</div>
<div class="a" style="left:0;top:280px;width:19px;height:1px;background:#9A9886"></div>
<div class="hd" style="left:0;top:281px;width:19px;height:12px;align-items:flex-end;padding-bottom:2px;line-height:1">18</div>
<div class="a" style="left:0;top:293px;width:19px;height:1px;background:#9A9886"></div>
<div class="hd" style="left:0;top:294px;width:19px;height:12px;align-items:flex-end;padding-bottom:2px;line-height:1">19</div>
<div class="a" style="left:0;top:306px;width:19px;height:1px;background:#9A9886"></div>
<div class="hd" style="left:0;top:307px;width:19px;height:12px;align-items:flex-end;padding-bottom:2px;line-height:1">20</div>
<div class="a" style="left:0;top:319px;width:19px;height:1px;background:#9A9886"></div>
<div class="hd" style="left:0;top:320px;width:19px;height:14px;align-items:flex-end;padding-bottom:2px;line-height:1">21</div>
<div class="a" style="left:0;top:334px;width:19px;height:1px;background:#9A9886"></div>
<div class="hd" style="left:0;top:335px;width:19px;height:11px;align-items:flex-end;padding-bottom:2px;line-height:1">22</div>
<div class="a" style="left:0;top:346px;width:19px;height:1px;background:#9A9886"></div>
<div class="hd" style="left:0;top:347px;width:19px;height:11px;align-items:flex-end;padding-bottom:2px;line-height:1">23</div>
<div class="a" style="left:0;top:358px;width:19px;height:1px;background:#9A9886"></div>
<div class="hd" style="left:0;top:359px;width:19px;height:11px;align-items:flex-end;padding-bottom:2px;line-height:1">24</div>
<div class="a" style="left:0;top:370px;width:19px;height:1px;background:#9A9886"></div>
<div class="hd" style="left:0;top:371px;width:19px;height:11px;align-items:flex-end;padding-bottom:2px;line-height:1">25</div>
<div class="a" style="left:0;top:382px;width:19px;height:1px;background:#9A9886"></div>
<div class="hd" style="left:0;top:383px;width:19px;height:11px;align-items:flex-end;padding-bottom:2px;line-height:1">26</div>
<div class="a" style="left:0;top:394px;width:19px;height:1px;background:#9A9886"></div>
<div class="hd" style="left:0;top:395px;width:19px;height:11px;align-items:flex-end;padding-bottom:2px;line-height:1">27</div>
<div class="a" style="left:0;top:406px;width:19px;height:1px;background:#9A9886"></div>
<div class="hd" style="left:0;top:407px;width:19px;height:11px;align-items:flex-end;padding-bottom:2px;line-height:1">28</div>
<div class="a" style="left:0;top:418px;width:19px;height:1px;background:#9A9886"></div>
<div class="hd" style="left:0;top:419px;width:19px;height:11px;align-items:flex-end;padding-bottom:2px;line-height:1">29</div>
<div class="a" style="left:0;top:430px;width:19px;height:1px;background:#9A9886"></div>
<div class="hd" style="left:0;top:431px;width:19px;height:11px;align-items:flex-end;padding-bottom:2px;line-height:1">30</div>
<div class="a" style="left:0;top:442px;width:19px;height:1px;background:#9A9886"></div>
<div class="hd" style="left:0;top:443px;width:19px;height:11px;align-items:flex-end;padding-bottom:2px;line-height:1">31</div>
<div class="a" style="left:0;top:454px;width:19px;height:1px;background:#9A9886"></div>
<div class="hd" style="left:0;top:455px;width:19px;height:11px;align-items:flex-end;padding-bottom:2px;line-height:1">32</div>
<div class="a" style="left:0;top:466px;width:19px;height:1px;background:#9A9886"></div>
<div class="hd" style="left:0;top:467px;width:19px;height:11px;align-items:flex-end;padding-bottom:2px;line-height:1">33</div>
<div class="a" style="left:0;top:478px;width:19px;height:1px;background:#9A9886"></div>
<div class="hd" style="left:0;top:479px;width:19px;height:11px;align-items:flex-end;padding-bottom:2px;line-height:1">34</div>
<div class="a" style="left:0;top:490px;width:19px;height:1px;background:#9A9886"></div>
<div class="hd" style="left:0;top:491px;width:19px;height:11px;align-items:flex-end;padding-bottom:2px;line-height:1">35</div>
<div class="a" style="left:0;top:502px;width:19px;height:1px;background:#9A9886"></div>
<div class="hd" style="left:0;top:503px;width:19px;height:12px;align-items:flex-end;padding-bottom:2px;line-height:1">36</div>
<div class="a" style="left:0;top:515px;width:19px;height:1px;background:#9A9886"></div>
<div class="hd" style="left:0;top:516px;width:19px;height:12px;align-items:flex-end;padding-bottom:2px;line-height:1">37</div>
<div class="a" style="left:0;top:528px;width:19px;height:1px;background:#9A9886"></div>
<div class="hd" style="left:0;top:529px;width:19px;height:13px;align-items:flex-end;padding-bottom:2px;line-height:1">38</div>
<div class="a" style="left:0;top:542px;width:19px;height:1px;background:#9A9886"></div>
<div class="hd" style="left:0;top:543px;width:19px;height:11px;align-items:flex-end;padding-bottom:2px;line-height:1">39</div>
<div class="a" style="left:0;top:554px;width:19px;height:1px;background:#9A9886"></div>
<div class="hd" style="left:0;top:555px;width:19px;height:11px;align-items:flex-end;padding-bottom:2px;line-height:1">40</div>
<div class="a" style="left:0;top:566px;width:19px;height:1px;background:#9A9886"></div>
<div class="hd" style="left:0;top:567px;width:19px;height:12px;align-items:flex-end;padding-bottom:2px;line-height:1">41</div>
<div class="a" style="left:19px;top:18px;width:1px;height:555px;background:#8B8A7A"></div>
<div class="a" style="left:832px;top:70px;width:0;height:0;border-top:5px solid #FF0000;border-left:5px solid transparent"></div>
<div class="a" style="left:864px;top:70px;width:0;height:0;border-top:5px solid #FF0000;border-left:5px solid transparent"></div>
<div class="a" style="left:896px;top:70px;width:0;height:0;border-top:5px solid #FF0000;border-left:5px solid transparent"></div>
<div class="a" style="left:928px;top:70px;width:0;height:0;border-top:5px solid #FF0000;border-left:5px solid transparent"></div>
<div class="a" style="left:960px;top:70px;width:0;height:0;border-top:5px solid #FF0000;border-left:5px solid transparent"></div>
<div class="a" style="left:992px;top:70px;width:0;height:0;border-top:5px solid #FF0000;border-left:5px solid transparent"></div>
<div class="a" style="left:1024px;top:70px;width:0;height:0;border-top:5px solid #FF0000;border-left:5px solid transparent"></div>
<div class="a" style="left:1056px;top:70px;width:0;height:0;border-top:5px solid #FF0000;border-left:5px solid transparent"></div>
<div class="a" style="left:1088px;top:70px;width:0;height:0;border-top:5px solid #FF0000;border-left:5px solid transparent"></div>
<div class="a" style="left:1120px;top:70px;width:0;height:0;border-top:5px solid #FF0000;border-left:5px solid transparent"></div>
<div class="a" style="left:1152px;top:70px;width:0;height:0;border-top:5px solid #FF0000;border-left:5px solid transparent"></div>
<div class="a" style="left:1184px;top:70px;width:0;height:0;border-top:5px solid #FF0000;border-left:5px solid transparent"></div>
<div class="a" style="left:1216px;top:70px;width:0;height:0;border-top:5px solid #FF0000;border-left:5px solid transparent"></div>
<div class="a" style="left:1248px;top:70px;width:0;height:0;border-top:5px solid #FF0000;border-left:5px solid transparent"></div>
<div class="a" style="left:1280px;top:70px;width:0;height:0;border-top:5px solid #FF0000;border-left:5px solid transparent"></div>
<div class="a" style="left:733px;top:90px;width:0;height:0;border-top:4px solid #008000;border-right:4px solid transparent"></div>
<div class="a" style="left:733px;top:102px;width:0;height:0;border-top:4px solid #008000;border-right:4px solid transparent"></div>
<div class="a" style="left:733px;top:114px;width:0;height:0;border-top:4px solid #008000;border-right:4px solid transparent"></div>
<div class="a" style="left:733px;top:125px;width:0;height:0;border-top:4px solid #008000;border-right:4px solid transparent"></div>
<div class="a" style="left:733px;top:138px;width:0;height:0;border-top:4px solid #008000;border-right:4px solid transparent"></div>
<div class="a" style="left:733px;top:151px;width:0;height:0;border-top:4px solid #008000;border-right:4px solid transparent"></div>
<div class="a" style="left:733px;top:164px;width:0;height:0;border-top:4px solid #008000;border-right:4px solid transparent"></div>
<div class="a" style="left:733px;top:177px;width:0;height:0;border-top:4px solid #008000;border-right:4px solid transparent"></div>
<div class="a" style="left:733px;top:190px;width:0;height:0;border-top:4px solid #008000;border-right:4px solid transparent"></div>
<div class="a" style="left:733px;top:203px;width:0;height:0;border-top:4px solid #008000;border-right:4px solid transparent"></div>
<div class="a" style="left:733px;top:216px;width:0;height:0;border-top:4px solid #008000;border-right:4px solid transparent"></div>
<div class="a" style="left:733px;top:229px;width:0;height:0;border-top:4px solid #008000;border-right:4px solid transparent"></div>
<div class="a" style="left:733px;top:242px;width:0;height:0;border-top:4px solid #008000;border-right:4px solid transparent"></div>
<div class="a" style="left:733px;top:255px;width:0;height:0;border-top:4px solid #008000;border-right:4px solid transparent"></div>
<div class="a" style="left:733px;top:268px;width:0;height:0;border-top:4px solid #008000;border-right:4px solid transparent"></div>
<div class="a" style="left:733px;top:281px;width:0;height:0;border-top:4px solid #008000;border-right:4px solid transparent"></div>
<div class="a" style="left:733px;top:294px;width:0;height:0;border-top:4px solid #008000;border-right:4px solid transparent"></div>
<div class="a" style="left:733px;top:307px;width:0;height:0;border-top:4px solid #008000;border-right:4px solid transparent"></div>
<div class="a" style="left:733px;top:320px;width:0;height:0;border-top:4px solid #008000;border-right:4px solid transparent"></div>
<div class="a" style="left:733px;top:335px;width:0;height:0;border-top:4px solid #008000;border-right:4px solid transparent"></div>
<div class="a" style="left:733px;top:347px;width:0;height:0;border-top:4px solid #008000;border-right:4px solid transparent"></div>
<div class="a" style="left:733px;top:359px;width:0;height:0;border-top:4px solid #008000;border-right:4px solid transparent"></div>
<div class="a" style="left:733px;top:371px;width:0;height:0;border-top:4px solid #008000;border-right:4px solid transparent"></div>
<div class="a" style="left:733px;top:383px;width:0;height:0;border-top:4px solid #008000;border-right:4px solid transparent"></div>
<div class="a" style="left:733px;top:395px;width:0;height:0;border-top:4px solid #008000;border-right:4px solid transparent"></div>
<div class="a" style="left:733px;top:407px;width:0;height:0;border-top:4px solid #008000;border-right:4px solid transparent"></div>
<div class="a" style="left:733px;top:419px;width:0;height:0;border-top:4px solid #008000;border-right:4px solid transparent"></div>
<div class="a" style="left:733px;top:431px;width:0;height:0;border-top:4px solid #008000;border-right:4px solid transparent"></div>
<div class="a" style="left:733px;top:443px;width:0;height:0;border-top:4px solid #008000;border-right:4px solid transparent"></div>
<div class="a" style="left:733px;top:455px;width:0;height:0;border-top:4px solid #008000;border-right:4px solid transparent"></div>
<div class="a" style="left:935px;top:516px;width:0;height:0;border-top:4px solid #008000;border-right:4px solid transparent"></div>
<div class="a" style="left:200px;top:130px;width:319px;height:248px;background:#fff;border:1px solid #000"></div>
<div class="a" style="left:530px;top:130px;width:320px;height:248px;background:#fff;border:1px solid #000"></div>
<div class="a" style="left:898px;top:132px;width:293px;height:250px;background:#fff;border:1px solid #000"></div>
<svg class="a" style="left:0;top:0" width="1364" height="592" font-family="Liberation Serif"><line x1="234.5" y1="171.0" x2="234.5" y2="324.5" stroke="#000" stroke-width="1"/><line x1="230.5" y1="324.5" x2="501.5" y2="324.5" stroke="#000" stroke-width="1"/><line x1="230.5" y1="324.5" x2="234.5" y2="324.5" stroke="#000" stroke-width="1"/><text x="224.0" y="328.5" font-size="12" text-anchor="end" font-weight="normal" >0</text><line x1="230.5" y1="302.6" x2="234.5" y2="302.6" stroke="#000" stroke-width="1"/><text x="224.0" y="306.6" font-size="12" text-anchor="end" font-weight="normal" >100</text><line x1="230.5" y1="280.8" x2="234.5" y2="280.8" stroke="#000" stroke-width="1"/><text x="224.0" y="284.8" font-size="12" text-anchor="end" font-weight="normal" >200</text><line x1="230.5" y1="258.9" x2="234.5" y2="258.9" stroke="#000" stroke-width="1"/><text x="224.0" y="262.9" font-size="12" text-anchor="end" font-weight="normal" >300</text><line x1="230.5" y1="237.1" x2="234.5" y2="237.1" stroke="#000" stroke-width="1"/><text x="224.0" y="241.1" font-size="12" text-anchor="end" font-weight="normal" >400</text><line x1="230.5" y1="215.2" x2="234.5" y2="215.2" stroke="#000" stroke-width="1"/><text x="224.0" y="219.2" font-size="12" text-anchor="end" font-weight="normal" >500</text><line x1="230.5" y1="193.4" x2="234.5" y2="193.4" stroke="#000" stroke-width="1"/><text x="224.0" y="197.4" font-size="12" text-anchor="end" font-weight="normal" >600</text><line x1="230.5" y1="171.5" x2="234.5" y2="171.5" stroke="#000" stroke-width="1"/><text x="224.0" y="175.5" font-size="12" text-anchor="end" font-weight="normal" >700</text><line x1="234.5" y1="324.5" x2="234.5" y2="328.5" stroke="#000" stroke-width="1"/><text x="234.5" y="347.5" font-size="12" text-anchor="middle" font-weight="normal" >0</text><line x1="287.9" y1="324.5" x2="287.9" y2="328.5" stroke="#000" stroke-width="1"/><text x="287.9" y="347.5" font-size="12" text-anchor="middle" font-weight="normal" >200</text><line x1="341.3" y1="324.5" x2="341.3" y2="328.5" stroke="#000" stroke-width="1"/><text x="341.3" y="347.5" font-size="12" text-anchor="middle" font-weight="normal" >400</text><line x1="394.7" y1="324.5" x2="394.7" y2="328.5" stroke="#000" stroke-width="1"/><text x="394.7" y="347.5" font-size="12" text-anchor="middle" font-weight="normal" >600</text><line x1="448.1" y1="324.5" x2="448.1" y2="328.5" stroke="#000" stroke-width="1"/><text x="448.1" y="347.5" font-size="12" text-anchor="middle" font-weight="normal" >800</text><line x1="501.5" y1="324.5" x2="501.5" y2="328.5" stroke="#000" stroke-width="1"/><text x="501.5" y="347.5" font-size="12" text-anchor="middle" font-weight="normal" >1000</text><text x="366.5" y="367.7" font-size="14" text-anchor="middle" font-weight="bold" >Выручка, млн.руб.</text><polygon points="386.3,252.2 393.3,259.2 386.3,266.2 379.3,259.2" fill="#FF0000"/><line x1="263" y1="302.2" x2="455.4" y2="172.1" stroke="#222" stroke-width="1"/><line x1="268.8" y1="309.9" x2="482.7" y2="222.6" stroke="#222" stroke-width="1"/><line x1="264.5" y1="306.5" x2="471.2" y2="195.9" stroke="#000" stroke-width="2.2"/><polygon points="265.9,300.6 269.5,304.2 265.9,307.8 262.3,304.2" fill="#000080"/><polygon points="273.1,298.3 276.7,301.9 273.1,305.5 269.5,301.9" fill="#000080"/><polygon points="280.3,293.7 283.9,297.3 280.3,300.9 276.7,297.3" fill="#000080"/><polygon points="288.3,294.8 291.9,298.4 288.3,302.0 284.7,298.4" fill="#000080"/><polygon points="295.2,290.5 298.8,294.1 295.2,297.7 291.6,294.1" fill="#000080"/><polygon points="302.7,278.5 306.3,282.1 302.7,285.7 299.1,282.1" fill="#000080"/><polygon points="309.6,289.4 313.2,293.0 309.6,296.6 306.0,293.0" fill="#000080"/><polygon points="316.2,269.8 319.8,273.4 316.2,277.0 312.6,273.4" fill="#000080"/><polygon points="323.3,264.7 326.9,268.3 323.3,271.9 319.7,268.3" fill="#000080"/><polygon points="330.5,262.7 334.1,266.3 330.5,269.9 326.9,266.3" fill="#000080"/><polygon points="337.1,276.4 340.7,280.0 337.1,283.6 333.5,280.0" fill="#000080"/><polygon points="344.3,262.9 347.9,266.5 344.3,270.1 340.7,266.5" fill="#000080"/><polygon points="351.5,244.6 355.1,248.2 351.5,251.8 347.9,248.2" fill="#000080"/><polygon points="358.4,242.6 362.0,246.2 358.4,249.8 354.8,246.2" fill="#000080"/><polygon points="365.0,254.0 368.6,257.6 365.0,261.2 361.4,257.6" fill="#000080"/><polygon points="372.7,227.6 376.3,231.2 372.7,234.8 369.1,231.2" fill="#000080"/><polygon points="379.3,226.5 382.9,230.1 379.3,233.7 375.7,230.1" fill="#000080"/><polygon points="393.7,213.8 397.3,217.4 393.7,221.0 390.1,217.4" fill="#000080"/><polygon points="400.3,236.0 403.9,239.6 400.3,243.2 396.7,239.6" fill="#000080"/><polygon points="407.2,224.5 410.8,228.1 407.2,231.7 403.6,228.1" fill="#000080"/><polygon points="414.7,208.7 418.3,212.3 414.7,215.9 411.1,212.3" fill="#000080"/><polygon points="421.6,240.5 425.2,244.1 421.6,247.7 418.0,244.1" fill="#000080"/><polygon points="428.7,209.8 432.3,213.4 428.7,217.0 425.1,213.4" fill="#000080"/><polygon points="435.6,211.5 439.2,215.1 435.6,218.7 432.0,215.1" fill="#000080"/><polygon points="442.5,217.6 446.1,221.2 442.5,224.8 438.9,221.2" fill="#000080"/><polygon points="449.7,195.7 453.3,199.3 449.7,202.9 446.1,199.3" fill="#000080"/><polygon points="456.9,189.7 460.5,193.3 456.9,196.9 453.3,193.3" fill="#000080"/><polygon points="463.8,209.8 467.4,213.4 463.8,217.0 460.2,213.4" fill="#000080"/><polygon points="471.8,205.8 475.4,209.4 471.8,213.0 468.2,209.4" fill="#000080"/><line x1="567.5" y1="166.0" x2="567.5" y2="323.5" stroke="#000" stroke-width="1"/><line x1="563.5" y1="323.5" x2="830.0" y2="323.5" stroke="#000" stroke-width="1"/><line x1="563.5" y1="323.5" x2="567.5" y2="323.5" stroke="#000" stroke-width="1"/><text x="557.0" y="328.0" font-size="13.5" text-anchor="end" font-weight="normal" >0</text><line x1="563.5" y1="292.0" x2="567.5" y2="292.0" stroke="#000" stroke-width="1"/><text x="557.0" y="296.5" font-size="13.5" text-anchor="end" font-weight="normal" >50</text><line x1="563.5" y1="260.5" x2="567.5" y2="260.5" stroke="#000" stroke-width="1"/><text x="557.0" y="265.0" font-size="13.5" text-anchor="end" font-weight="normal" >100</text><line x1="563.5" y1="229.0" x2="567.5" y2="229.0" stroke="#000" stroke-width="1"/><text x="557.0" y="233.5" font-size="13.5" text-anchor="end" font-weight="normal" >150</text><line x1="563.5" y1="197.5" x2="567.5" y2="197.5" stroke="#000" stroke-width="1"/><text x="557.0" y="202.0" font-size="13.5" text-anchor="end" font-weight="normal" >200</text><line x1="563.5" y1="166.0" x2="567.5" y2="166.0" stroke="#000" stroke-width="1"/><text x="557.0" y="170.5" font-size="13.5" text-anchor="end" font-weight="normal" >250</text><line x1="567.5" y1="323.5" x2="567.5" y2="327.5" stroke="#000" stroke-width="1"/><text x="567.5" y="347.4" font-size="13.5" text-anchor="middle" font-weight="normal" >0</text><line x1="620.0" y1="323.5" x2="620.0" y2="327.5" stroke="#000" stroke-width="1"/><text x="620.0" y="347.4" font-size="13.5" text-anchor="middle" font-weight="normal" >200</text><line x1="672.5" y1="323.5" x2="672.5" y2="327.5" stroke="#000" stroke-width="1"/><text x="672.5" y="347.4" font-size="13.5" text-anchor="middle" font-weight="normal" >400</text><line x1="725.0" y1="323.5" x2="725.0" y2="327.5" stroke="#000" stroke-width="1"/><text x="725.0" y="347.4" font-size="13.5" text-anchor="middle" font-weight="normal" >600</text><line x1="777.5" y1="323.5" x2="777.5" y2="327.5" stroke="#000" stroke-width="1"/><text x="777.5" y="347.4" font-size="13.5" text-anchor="middle" font-weight="normal" >800</text><line x1="830.0" y1="323.5" x2="830.0" y2="327.5" stroke="#000" stroke-width="1"/><text x="830.0" y="347.4" font-size="13.5" text-anchor="middle" font-weight="normal" >1000</text><text x="698.0" y="366.3" font-size="14.9" text-anchor="middle" font-weight="bold" >Выручка, млн.руб.</text><polygon points="717.2,232.0 724.2,239.0 717.2,246.0 710.2,239.0" fill="#FF0000"/><line x1="597.6" y1="302.6" x2="786.2" y2="184.8" stroke="#222" stroke-width="1"/><line x1="599.9" y1="309.5" x2="813.1" y2="234.2" stroke="#222" stroke-width="1"/><line x1="599.6" y1="305.6" x2="800.2" y2="204.3" stroke="#000" stroke-width="2.2"/><polygon points="599.6,300.8 603.2,304.4 599.6,308.0 596.0,304.4" fill="#000080"/><polygon points="605.7,298.2 609.3,301.8 605.7,305.4 602.1,301.8" fill="#000080"/><polygon points="613.3,299.5 616.9,303.1 613.3,306.7 609.7,303.1" fill="#000080"/><polygon points="620.4,297.7 624.0,301.3 620.4,304.9 616.8,301.3" fill="#000080"/><polygon points="627.5,289.4 631.1,293.0 627.5,296.6 623.9,293.0" fill="#000080"/><polygon points="634.3,290.6 637.9,294.2 634.3,297.8 630.7,294.2" fill="#000080"/><polygon points="641.4,273.4 645.0,277.0 641.4,280.6 637.8,277.0" fill="#000080"/><polygon points="647.8,286.3 651.4,289.9 647.8,293.5 644.2,289.9" fill="#000080"/><polygon points="654.6,286.8 658.2,290.4 654.6,294.0 651.0,290.4" fill="#000080"/><polygon points="661.4,275.4 665.0,279.0 661.4,282.6 657.8,279.0" fill="#000080"/><polygon points="668.0,267.3 671.6,270.9 668.0,274.5 664.4,270.9" fill="#000080"/><polygon points="675.4,253.4 679.0,257.0 675.4,260.6 671.8,257.0" fill="#000080"/><polygon points="682.0,260.3 685.6,263.9 682.0,267.5 678.4,263.9" fill="#000080"/><polygon points="689.3,261.5 692.9,265.1 689.3,268.7 685.7,265.1" fill="#000080"/><polygon points="696.4,243.8 700.0,247.4 696.4,251.0 692.8,247.4" fill="#000080"/><polygon points="703.5,240.5 707.1,244.1 703.5,247.7 699.9,244.1" fill="#000080"/><polygon points="710.3,241.8 713.9,245.4 710.3,249.0 706.7,245.4" fill="#000080"/><polygon points="724.8,221.7 728.4,225.3 724.8,228.9 721.2,225.3" fill="#000080"/><polygon points="731.3,244.5 734.9,248.1 731.3,251.7 727.7,248.1" fill="#000080"/><polygon points="738.4,234.9 742.0,238.5 738.4,242.1 734.8,238.5" fill="#000080"/><polygon points="745.5,234.9 749.1,238.5 745.5,242.1 741.9,238.5" fill="#000080"/><polygon points="751.3,217.2 754.9,220.8 751.3,224.4 747.7,220.8" fill="#000080"/><polygon points="758.4,238.7 762.0,242.3 758.4,245.9 754.8,242.3" fill="#000080"/><polygon points="765.3,223.5 768.9,227.1 765.3,230.7 761.7,227.1" fill="#000080"/><polygon points="772.4,214.7 776.0,218.3 772.4,221.9 768.8,218.3" fill="#000080"/><polygon points="779.5,196.4 783.1,200.0 779.5,203.6 775.9,200.0" fill="#000080"/><polygon points="786.6,207.8 790.2,211.4 786.6,215.0 783.0,211.4" fill="#000080"/><polygon points="793.4,210.9 797.0,214.5 793.4,218.1 789.8,214.5" fill="#000080"/><polygon points="800.2,202.5 803.8,206.1 800.2,209.7 796.6,206.1" fill="#000080"/><line x1="935.3" y1="165.0" x2="935.3" y2="344.3" stroke="#000" stroke-width="1"/><line x1="931.3" y1="340.3" x2="1178.9" y2="340.3" stroke="#000" stroke-width="1"/><line x1="931.3" y1="340.3" x2="935.3" y2="340.3" stroke="#000" stroke-width="1"/><text x="925.5" y="344.3" font-size="12" text-anchor="end" font-weight="normal" >0,0</text><line x1="931.3" y1="318.4" x2="935.3" y2="318.4" stroke="#000" stroke-width="1"/><text x="925.5" y="322.4" font-size="12" text-anchor="end" font-weight="normal" >0,2</text><line x1="931.3" y1="296.6" x2="935.3" y2="296.6" stroke="#000" stroke-width="1"/><text x="925.5" y="300.6" font-size="12" text-anchor="end" font-weight="normal" >0,4</text><line x1="931.3" y1="274.8" x2="935.3" y2="274.8" stroke="#000" stroke-width="1"/><text x="925.5" y="278.8" font-size="12" text-anchor="end" font-weight="normal" >0,6</text><line x1="931.3" y1="252.9" x2="935.3" y2="252.9" stroke="#000" stroke-width="1"/><text x="925.5" y="256.9" font-size="12" text-anchor="end" font-weight="normal" >0,8</text><line x1="931.3" y1="231.1" x2="935.3" y2="231.1" stroke="#000" stroke-width="1"/><text x="925.5" y="235.1" font-size="12" text-anchor="end" font-weight="normal" >1,0</text><line x1="931.3" y1="209.2" x2="935.3" y2="209.2" stroke="#000" stroke-width="1"/><text x="925.5" y="213.2" font-size="12" text-anchor="end" font-weight="normal" >1,2</text><line x1="931.3" y1="187.3" x2="935.3" y2="187.3" stroke="#000" stroke-width="1"/><text x="925.5" y="191.3" font-size="12" text-anchor="end" font-weight="normal" >1,4</text><line x1="931.3" y1="165.5" x2="935.3" y2="165.5" stroke="#000" stroke-width="1"/><text x="925.5" y="169.5" font-size="12" text-anchor="end" font-weight="normal" >1,6</text><line x1="935.3" y1="340.3" x2="935.3" y2="344.3" stroke="#000" stroke-width="1"/><text x="935.3" y="363.8" font-size="12" text-anchor="middle" font-weight="normal" >0</text><line x1="1016.5" y1="340.3" x2="1016.5" y2="344.3" stroke="#000" stroke-width="1"/><text x="1016.5" y="363.8" font-size="12" text-anchor="middle" font-weight="normal" >10</text><line x1="1097.7" y1="340.3" x2="1097.7" y2="344.3" stroke="#000" stroke-width="1"/><text x="1097.7" y="363.8" font-size="12" text-anchor="middle" font-weight="normal" >20</text><line x1="1178.9" y1="340.3" x2="1178.9" y2="344.3" stroke="#000" stroke-width="1"/><text x="1178.9" y="363.8" font-size="12" text-anchor="middle" font-weight="normal" >30</text><circle cx="943.0" cy="251.7" r="4" fill="#000080"/><circle cx="950.8" cy="249.8" r="4" fill="#000080"/><circle cx="958.9" cy="236.1" r="4" fill="#000080"/><circle cx="967.9" cy="238.7" r="4" fill="#000080"/><circle cx="976.1" cy="256.9" r="4" fill="#000080"/><circle cx="983.9" cy="242.2" r="4" fill="#000080"/><circle cx="992.0" cy="253.8" r="4" fill="#000080"/><circle cx="999.8" cy="191.8" r="4" fill="#000080"/><circle cx="1008.1" cy="222.8" r="4" fill="#000080"/><circle cx="1015.9" cy="243.9" r="4" fill="#000080"/><circle cx="1024.2" cy="238.7" r="4" fill="#000080"/><circle cx="1032.4" cy="246.2" r="4" fill="#000080"/><circle cx="1040.7" cy="243.4" r="4" fill="#000080"/><circle cx="1049.0" cy="242.0" r="4" fill="#000080"/><circle cx="1057.0" cy="262.1" r="4" fill="#000080"/><circle cx="1064.8" cy="226.8" r="4" fill="#000080"/><circle cx="1072.9" cy="229.9" r="4" fill="#000080"/><circle cx="1089.7" cy="245.1" r="4" fill="#000080"/><circle cx="1098.0" cy="224.9" r="4" fill="#000080"/><circle cx="1105.8" cy="229.9" r="4" fill="#000080"/><circle cx="1113.6" cy="238.7" r="4" fill="#000080"/><circle cx="1121.9" cy="245.8" r="4" fill="#000080"/><circle cx="1129.9" cy="223.1" r="4" fill="#000080"/><circle cx="1137.7" cy="234.9" r="4" fill="#000080"/><circle cx="1145.8" cy="226.8" r="4" fill="#000080"/><circle cx="1154.7" cy="238.7" r="4" fill="#000080"/><circle cx="1163.0" cy="229.0" r="4" fill="#000080"/><circle cx="1170.6" cy="236.8" r="4" fill="#000080"/><circle cx="1178.9" cy="248.8" r="4" fill="#000080"/><circle cx="1080.7" cy="253.8" r="6" fill="#FF0000"/><line x1="943" y1="242.7" x2="1179.6" y2="235.8" stroke="#FF0000" stroke-width="2"/></svg>
<div class="a" style="left:263px;top:141px;width:160px;height:23px;background:#000"></div>
<div class="a" style="left:262px;top:140px;width:160px;height:23px;background:#fff;border:1px solid #000"></div>
<svg class="a" style="left:0;top:0" width="1364" height="592" font-family="Liberation Serif">
<polygon points="277.5,149 281,152.5 277.5,156 274,152.5" fill="#000080"/>
</svg>
<div class="a" style="left:289px;top:142px;font-size:16.5px;line-height:19px;white-space:nowrap">"Себестоимость"</div>
<div class="a" style="left:255px;top:184px;width:83px;height:55px;background:#000"></div>
<div class="a" style="left:254px;top:183px;width:83px;height:55px;background:#fff;border:1px solid #000"></div>
<div class="a" style="left:257px;top:188px;font-size:16px;line-height:23px;white-space:nowrap">y = 0,6672x<br>R<sup style="font-size:10px;vertical-align:6px;line-height:0">2</sup> = 0,8994</div>
<div class="a" style="left:602px;top:150px;width:232px;height:20px;background:#000"></div>
<div class="a" style="left:601px;top:149px;width:232px;height:20px;background:#fff;border:1px solid #000"></div>
<svg class="a" style="left:0;top:0" width="1364" height="592">
<polygon points="618.4,157 621.9,160.5 618.4,164 614.9,160.5" fill="#000080"/>
</svg>
<div class="a" style="left:631px;top:151px;font-size:14.8px;line-height:18px;white-space:nowrap">"Кредиторская задолженность"</div>
<div class="a" style="left:590px;top:194px;width:75px;height:49px;background:#000"></div>
<div class="a" style="left:589px;top:193px;width:75px;height:49px;background:#fff;border:1px solid #000"></div>
<div class="a" style="left:592px;top:196px;font-size:14.3px;line-height:21.5px;white-space:nowrap">y = 0,2149x<br>R<sup style="font-size:9px;vertical-align:6px;line-height:0">2</sup> = 0,9407</div>
<div class="a" style="left:1108px;top:142px;width:73px;height:25px;background:#000"></div>
<div class="a" style="left:1107px;top:141px;width:73px;height:25px;background:#fff;border:1px solid #000"></div>
<div class="a" style="left:1117px;top:149px;width:8px;height:8px;border-radius:4px;background:#000080"></div>
<div class="a" style="left:1134px;top:143px;font-size:16px;font-weight:bold;line-height:20px">CR</div>
<div class="a" style="left:0;top:573px;width:1364px;height:1px;background:#A0A0A0"></div>
<div class="a" style="left:0;top:574px;width:1364px;height:15px;background:#ECECEC"></div>
<div class="a" style="left:0;top:589px;width:1364px;height:3px;background:#F7F7F7"></div>
<svg class="a" style="left:0;top:0" width="1364" height="592"><rect x="3" y="578" width="1.6" height="8" fill="#000"/><polygon points="9.5,578 5,582 9.5,586" fill="#000"/><polygon points="25.5,578 21,582 25.5,586" fill="#000"/><polygon points="37,578 41.5,582 37,586" fill="#000"/><polygon points="53,578 57.5,582 53,586" fill="#000"/><rect x="57.5" y="578" width="1.6" height="8" fill="#000"/><line x1="63.5" y1="574" x2="63.5" y2="589" stroke="#808080" stroke-width="1"/><polygon points="600.0,573.5 607.0,588.5 654.0,588.5 661.0,573.5" fill="#ECECEC" stroke="#808080" stroke-width="1"/><polygon points="541.0,573.5 548.0,588.5 653.5,588.5 660.5,573.5" fill="#ECECEC" stroke="#808080" stroke-width="1"/><polygon points="483.0,573.5 490.0,588.5 541.0,588.5 548.0,573.5" fill="#ECECEC" stroke="#808080" stroke-width="1"/><polygon points="333.5,573.5 340.5,588.5 481.0,588.5 488.0,573.5" fill="#993300" stroke="#808080" stroke-width="1"/><polygon points="182.0,573.5 189.0,588.5 242.0,588.5 249.0,573.5" fill="#ECECEC" stroke="#808080" stroke-width="1"/><polygon points="124.0,573.5 131.0,588.5 183.0,588.5 190.0,573.5" fill="#ECECEC" stroke="#808080" stroke-width="1"/><polygon points="64.0,573.5 71.0,588.5 123.5,588.5 130.5,573.5" fill="#ECECEC" stroke="#808080" stroke-width="1"/><text x="77.3" y="585.6" font-family="Liberation Sans" font-size="12.2" fill="#000" font-weight="normal">Урок01</text><text x="135.5" y="585.6" font-family="Liberation Sans" font-size="12.2" fill="#000" font-weight="normal">Урок02</text><text x="194.5" y="585.6" font-family="Liberation Sans" font-size="12.2" fill="#000" font-weight="normal">Урок03</text><text x="343.0" y="585.6" font-family="Liberation Sans" font-size="11.9" fill="#FFFFFF" font-weight="normal">РасчетМоделиБаланса</text><text x="493.7" y="585.6" font-family="Liberation Sans" font-size="12.2" fill="#000" font-weight="normal">Test-01</text><text x="554.5" y="585.6" font-family="Liberation Sans" font-size="12.2" fill="#000" font-weight="normal">ЭлемФункции-4</text><polygon points="241.8,573.5 248.7,588.5 326,588.5 333.5,573.5" fill="#FFFFFF" stroke="#808080" stroke-width="1"/><rect x="248" y="586.5" width="78" height="2" fill="#FFFF00"/><line x1="241.8" y1="573.5" x2="333.5" y2="573.5" stroke="#FFFFFF" stroke-width="1.2"/><text x="251.8" y="585.6" font-family="Liberation Sans" font-size="12" fill="#000" font-weight="bold">РискАнализ</text><rect x="1212" y="574" width="6" height="14" fill="#F4F4F4" stroke="#C8C8C8" stroke-width="0.5"/><rect x="1218" y="573" width="1.2" height="15" fill="#000"/><rect x="1219.5" y="574" width="126.5" height="15" fill="#EEEEEE"/><polygon points="1229.5,577.5 1225,581.3 1229.5,585.1" fill="#333"/><polygon points="1337,577.5 1341.5,581.3 1337,585.1" fill="#333"/><defs><linearGradient id="tg" x1="0" y1="0" x2="0" y2="1"><stop offset="0" stop-color="#FAFAFA"/><stop offset="0.5" stop-color="#E6E6E6"/><stop offset="1" stop-color="#CFCFCF"/></linearGradient><linearGradient id="vg" x1="0" y1="0" x2="1" y2="0"><stop offset="0" stop-color="#FAFAFA"/><stop offset="0.5" stop-color="#E6E6E6"/><stop offset="1" stop-color="#CFCFCF"/></linearGradient></defs><rect x="1250.5" y="574.5" width="55" height="13.5" rx="2" fill="url(#tg)" stroke="#9A9A9A" stroke-width="1"/><rect x="1274" y="578" width="1.5" height="6" fill="#555"/><rect x="1277" y="578" width="1.5" height="6" fill="#555"/><rect x="1280" y="578" width="1.5" height="6" fill="#555"/><rect x="1346" y="573" width="18" height="16" fill="#EEEEEE"/><rect x="1358" y="584" width="1.5" height="1.5" fill="#AAAAAA"/><rect x="1355" y="587" width="1.5" height="1.5" fill="#AAAAAA"/><rect x="1358" y="587" width="1.5" height="1.5" fill="#AAAAAA"/><rect x="1361" y="581" width="1.5" height="1.5" fill="#AAAAAA"/><rect x="1361" y="584" width="1.5" height="1.5" fill="#AAAAAA"/><rect x="1361" y="587" width="1.5" height="1.5" fill="#AAAAAA"/><rect x="1346" y="18" width="18" height="555" fill="#EEEEEE"/><line x1="1346.5" y1="18" x2="1346.5" y2="573" stroke="#E0E0E0" stroke-width="1"/><polygon points="1351.5,27.5 1355.5,23.5 1359.5,27.5" fill="#333"/><rect x="1347.5" y="36" width="14" height="103" rx="2" fill="url(#vg)" stroke="#9A9A9A" stroke-width="1"/><rect x="1351" y="84" width="7" height="1.5" fill="#555"/><rect x="1351" y="87" width="7" height="1.5" fill="#555"/><rect x="1351" y="90" width="7" height="1.5" fill="#555"/><polygon points="1350,562 1354,566 1358,562" fill="#333"/></svg>
</body></html>
